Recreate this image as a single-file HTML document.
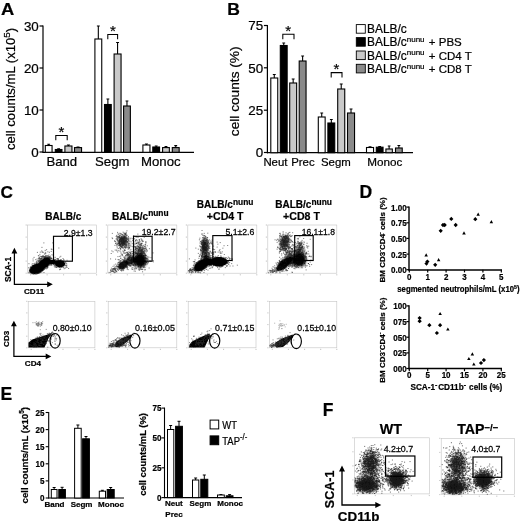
<!DOCTYPE html>
<html><head><meta charset="utf-8"><title>Figure</title>
<style>
html,body{margin:0;padding:0;background:#fff}
svg{display:block}
text{font-family:"Liberation Sans",sans-serif;fill:#000;stroke:#000;stroke-width:0.22px}
</style></head><body>
<svg width="520" height="523" viewBox="0 0 520 523">
<defs>
<filter id="soft" x="0" y="0" width="520" height="523" filterUnits="userSpaceOnUse"><feGaussianBlur stdDeviation="0.38"/></filter>
<filter id="b" x="-30%" y="-30%" width="160%" height="160%"><feGaussianBlur stdDeviation="0.7"/></filter>
<filter id="b3" x="-40%" y="-40%" width="180%" height="180%"><feGaussianBlur stdDeviation="1.4"/></filter>
<filter id="b2" x="-10%" y="-20%" width="120%" height="140%"><feGaussianBlur stdDeviation="0.45"/></filter>
</defs>
<rect width="520" height="523" fill="#fff"/>
<g filter="url(#soft)">
<text transform="translate(0.9 15.2) scale(1.08 1)" font-size="17" text-anchor="start" font-weight="bold">A</text>
<path d="M43.00 25.50L43.00 152.80" stroke="#000" stroke-width="1.2" fill="none"/>
<path d="M42.50 152.30L194.00 152.30" stroke="#000" stroke-width="1.2" fill="none"/>
<path d="M39.50 26.00L43.00 26.00" stroke="#000" stroke-width="1.2" fill="none"/>
<text x="38.8" y="30.8" font-size="13.4" text-anchor="end">30</text>
<path d="M39.50 68.00L43.00 68.00" stroke="#000" stroke-width="1.2" fill="none"/>
<text x="38.8" y="72.8" font-size="13.4" text-anchor="end">20</text>
<path d="M39.50 110.00L43.00 110.00" stroke="#000" stroke-width="1.2" fill="none"/>
<text x="38.8" y="114.8" font-size="13.4" text-anchor="end">10</text>
<path d="M39.50 152.00L43.00 152.00" stroke="#000" stroke-width="1.2" fill="none"/>
<text x="38.8" y="156.8" font-size="13.4" text-anchor="end">0</text>
<path d="M48.67 145.50V144.30M47.26 144.30H50.09" stroke="#000" stroke-width="1.1" fill="none"/>
<rect x="45.30" y="145.50" width="6.75" height="6.80" fill="#fff" stroke="#000" stroke-width="1.1"/>
<path d="M58.62 149.50V148.70M57.23 148.70H60.02" stroke="#000" stroke-width="1.1" fill="none"/>
<rect x="55.30" y="149.50" width="6.65" height="2.80" fill="#000" stroke="#000" stroke-width="1.1"/>
<path d="M68.42 146.00V145.00M66.94 145.00H69.91" stroke="#000" stroke-width="1.1" fill="none"/>
<rect x="64.90" y="146.00" width="7.05" height="6.30" fill="#c9c9c9" stroke="#000" stroke-width="1.1"/>
<path d="M78.03 147.60V147.00M76.54 147.00H79.51" stroke="#000" stroke-width="1.1" fill="none"/>
<rect x="74.50" y="147.60" width="7.05" height="4.70" fill="#8a8a8a" stroke="#000" stroke-width="1.1"/>
<path d="M98.32 39.00V26.00M96.89 26.00H99.76" stroke="#000" stroke-width="1.1" fill="none"/>
<rect x="94.90" y="39.00" width="6.85" height="113.30" fill="#fff" stroke="#000" stroke-width="1.1"/>
<path d="M107.88 104.50V99.00M106.46 99.00H109.29" stroke="#000" stroke-width="1.1" fill="none"/>
<rect x="104.50" y="104.50" width="6.75" height="47.80" fill="#000" stroke="#000" stroke-width="1.1"/>
<path d="M117.57 54.00V42.50M116.12 42.50H119.03" stroke="#000" stroke-width="1.1" fill="none"/>
<rect x="114.10" y="54.00" width="6.95" height="98.30" fill="#c9c9c9" stroke="#000" stroke-width="1.1"/>
<path d="M126.97 106.00V101.00M125.56 101.00H128.39" stroke="#000" stroke-width="1.1" fill="none"/>
<rect x="123.60" y="106.00" width="6.75" height="46.30" fill="#8a8a8a" stroke="#000" stroke-width="1.1"/>
<path d="M146.43 145.00V144.00M144.94 144.00H147.91" stroke="#000" stroke-width="1.1" fill="none"/>
<rect x="142.90" y="145.00" width="7.05" height="7.30" fill="#fff" stroke="#000" stroke-width="1.1"/>
<path d="M156.18 147.00V146.00M154.76 146.00H157.59" stroke="#000" stroke-width="1.1" fill="none"/>
<rect x="152.80" y="147.00" width="6.75" height="5.30" fill="#000" stroke="#000" stroke-width="1.1"/>
<path d="M165.98 147.60V146.60M164.56 146.60H167.39" stroke="#000" stroke-width="1.1" fill="none"/>
<rect x="162.60" y="147.60" width="6.75" height="4.70" fill="#c9c9c9" stroke="#000" stroke-width="1.1"/>
<path d="M175.73 147.60V145.60M174.29 145.60H177.16" stroke="#000" stroke-width="1.1" fill="none"/>
<rect x="172.30" y="147.60" width="6.85" height="4.70" fill="#8a8a8a" stroke="#000" stroke-width="1.1"/>
<path d="M55.8 140.3V135.5H67.2V140.3" stroke="#000" stroke-width="1.05" fill="none"/>
<text x="61.3" y="136.5" font-size="15" text-anchor="middle">*</text>
<path d="M107.8 39.3V34.5H117.6V39.3" stroke="#000" stroke-width="1.05" fill="none"/>
<text x="112.8" y="35.5" font-size="15" text-anchor="middle">*</text>
<text x="61.8" y="166.1" font-size="13.2" text-anchor="middle">Band</text>
<text x="112.3" y="166.1" font-size="13.2" text-anchor="middle">Segm</text>
<text x="160.8" y="166.1" font-size="13.2" text-anchor="middle">Monoc</text>
<text transform="translate(15.4 88.9) rotate(-90)" font-size="13.1" text-anchor="middle">cell counts/mL (x10<tspan font-size="9.8" dy="-5.4">5</tspan><tspan dy="5.4">)</tspan></text>
<text transform="translate(227.2 14.9) scale(1.07 1)" font-size="16.4" text-anchor="start" font-weight="bold">B</text>
<path d="M267.40 25.00L267.40 153.20" stroke="#000" stroke-width="1.2" fill="none"/>
<path d="M266.90 152.70L413.00 152.70" stroke="#000" stroke-width="1.2" fill="none"/>
<path d="M263.90 25.50L267.40 25.50" stroke="#000" stroke-width="1.2" fill="none"/>
<text x="263.1" y="30.3" font-size="13.4" text-anchor="end">75</text>
<path d="M263.90 67.80L267.40 67.80" stroke="#000" stroke-width="1.2" fill="none"/>
<text x="263.1" y="72.6" font-size="13.4" text-anchor="end">50</text>
<path d="M263.90 110.20L267.40 110.20" stroke="#000" stroke-width="1.2" fill="none"/>
<text x="263.1" y="115.0" font-size="13.4" text-anchor="end">25</text>
<path d="M263.90 152.50L267.40 152.50" stroke="#000" stroke-width="1.2" fill="none"/>
<text x="263.1" y="157.3" font-size="13.4" text-anchor="end">0</text>
<path d="M274.27 78.00V74.50M272.82 74.50H275.73" stroke="#000" stroke-width="1.1" fill="none"/>
<rect x="270.80" y="78.00" width="6.95" height="74.70" fill="#fff" stroke="#000" stroke-width="1.1"/>
<path d="M283.73 45.50V43.00M282.29 43.00H285.16" stroke="#000" stroke-width="1.1" fill="none"/>
<rect x="280.30" y="45.50" width="6.85" height="107.20" fill="#000" stroke="#000" stroke-width="1.1"/>
<path d="M293.17 83.00V79.00M291.72 79.00H294.63" stroke="#000" stroke-width="1.1" fill="none"/>
<rect x="289.70" y="83.00" width="6.95" height="69.70" fill="#c9c9c9" stroke="#000" stroke-width="1.1"/>
<path d="M302.62 61.00V56.00M301.19 56.00H304.06" stroke="#000" stroke-width="1.1" fill="none"/>
<rect x="299.20" y="61.00" width="6.85" height="91.70" fill="#8a8a8a" stroke="#000" stroke-width="1.1"/>
<path d="M321.73 117.00V113.00M320.29 113.00H323.16" stroke="#000" stroke-width="1.1" fill="none"/>
<rect x="318.30" y="117.00" width="6.85" height="35.70" fill="#fff" stroke="#000" stroke-width="1.1"/>
<path d="M331.33 123.00V119.50M329.89 119.50H332.76" stroke="#000" stroke-width="1.1" fill="none"/>
<rect x="327.90" y="123.00" width="6.85" height="29.70" fill="#000" stroke="#000" stroke-width="1.1"/>
<path d="M341.23 89.00V84.00M339.74 84.00H342.71" stroke="#000" stroke-width="1.1" fill="none"/>
<rect x="337.70" y="89.00" width="7.05" height="63.70" fill="#c9c9c9" stroke="#000" stroke-width="1.1"/>
<path d="M351.02 113.00V109.00M349.54 109.00H352.51" stroke="#000" stroke-width="1.1" fill="none"/>
<rect x="347.50" y="113.00" width="7.05" height="39.70" fill="#8a8a8a" stroke="#000" stroke-width="1.1"/>
<path d="M370.02 147.50V146.70M368.54 146.70H371.51" stroke="#000" stroke-width="1.1" fill="none"/>
<rect x="366.50" y="147.50" width="7.05" height="5.20" fill="#fff" stroke="#000" stroke-width="1.1"/>
<path d="M379.68 147.20V146.60M378.26 146.60H381.09" stroke="#000" stroke-width="1.1" fill="none"/>
<rect x="376.30" y="147.20" width="6.75" height="5.50" fill="#000" stroke="#000" stroke-width="1.1"/>
<path d="M389.12 149.00V146.00M387.77 146.00H390.48" stroke="#000" stroke-width="1.1" fill="none"/>
<rect x="385.90" y="149.00" width="6.45" height="3.70" fill="#c9c9c9" stroke="#000" stroke-width="1.1"/>
<path d="M398.88 148.00V145.50M397.46 145.50H400.29" stroke="#000" stroke-width="1.1" fill="none"/>
<rect x="395.50" y="148.00" width="6.75" height="4.70" fill="#8a8a8a" stroke="#000" stroke-width="1.1"/>
<path d="M282.8 39.2V34.2H294V39.2" stroke="#000" stroke-width="1.05" fill="none"/>
<text x="288.2" y="35.5" font-size="15" text-anchor="middle">*</text>
<path d="M331.2 77.4V72.6H342V77.4" stroke="#000" stroke-width="1.05" fill="none"/>
<text x="336.4" y="73.5" font-size="15" text-anchor="middle">*</text>
<text x="263.4" y="165.9" font-size="11.4" text-anchor="start">Neut</text>
<text x="291.2" y="165.9" font-size="11.4" text-anchor="start">Prec</text>
<text x="321" y="165.9" font-size="11.4" text-anchor="start">Segm</text>
<text x="367.2" y="165.9" font-size="11.7" text-anchor="start">Monoc</text>
<text transform="translate(239.3 91.3) rotate(-90)" font-size="13.7" text-anchor="middle">cell counts (%)</text>
<rect x="356.3" y="24.6" width="9" height="8.6" fill="#fff" stroke="#000" stroke-width="0.9"/>
<text x="367.1" y="33.2" font-size="11.9" text-anchor="start">BALB/c</text>
<rect x="356.3" y="37.6" width="9" height="8.6" fill="#000" stroke="#000" stroke-width="0.9"/>
<text x="428.8" y="46.2" font-size="11.5" text-anchor="start">+ PBS</text>
<text x="367.1" y="46.2" font-size="11.9" text-anchor="start">BALB/c<tspan font-size="8" dy="-4.4">nunu</tspan></text>
<rect x="356.3" y="51" width="9" height="8.6" fill="#c9c9c9" stroke="#000" stroke-width="0.9"/>
<text x="428.8" y="59.6" font-size="11.5" text-anchor="start">+ CD4 T</text>
<text x="367.1" y="59.6" font-size="11.9" text-anchor="start">BALB/c<tspan font-size="8" dy="-4.4">nunu</tspan></text>
<rect x="356.3" y="64.3" width="9" height="8.6" fill="#8a8a8a" stroke="#000" stroke-width="0.9"/>
<text x="428.8" y="72.89999999999999" font-size="11.5" text-anchor="start">+ CD8 T</text>
<text x="367.1" y="72.89999999999999" font-size="11.9" text-anchor="start">BALB/c<tspan font-size="8" dy="-4.4">nunu</tspan></text>
<text x="0.4" y="197.9" font-size="17.2" text-anchor="start" font-weight="bold">C</text>
<text x="63.3" y="220" font-size="10" text-anchor="middle" font-weight="bold">BALB/c</text>
<text x="112" y="220" font-size="10" text-anchor="start" font-weight="bold">BALB/c<tspan font-size="8.4" dy="-3.6">nunu</tspan></text>
<text x="196.8" y="208.4" font-size="10" text-anchor="start" font-weight="bold">BALB/c<tspan font-size="8.4" dy="-3.6">nunu</tspan></text>
<text x="243.6" y="219.8" font-size="10.6" text-anchor="end" font-weight="bold">+CD4 T</text>
<text x="275.3" y="208.4" font-size="10" text-anchor="start" font-weight="bold">BALB/c<tspan font-size="8.4" dy="-3.6">nunu</tspan></text>
<text x="319.9" y="219.8" font-size="10.6" text-anchor="end" font-weight="bold">+CD8 T</text>
<rect x="27.6" y="225" width="69.0" height="48.19999999999999" fill="none" stroke="#c4c4c4" stroke-width="0.6"/>
<path d="M25.6 225.0h1.2M25.6 237.1h1.2M25.6 249.1h1.2M25.6 261.1h1.2M25.6 273.2h1.2M30.6 274.2v1.2M47.1 274.2v1.2M63.6 274.2v1.2M80.1 274.2v1.2M96.6 274.2v1.2" stroke="#aaa" stroke-width="0.7" fill="none"/>
<rect x="107.8" y="225" width="69.00000000000001" height="48.19999999999999" fill="none" stroke="#c4c4c4" stroke-width="0.6"/>
<path d="M105.8 225.0h1.2M105.8 237.1h1.2M105.8 249.1h1.2M105.8 261.1h1.2M105.8 273.2h1.2M110.8 274.2v1.2M127.3 274.2v1.2M143.8 274.2v1.2M160.3 274.2v1.2M176.8 274.2v1.2" stroke="#aaa" stroke-width="0.7" fill="none"/>
<rect x="187.8" y="225" width="69.0" height="48.19999999999999" fill="none" stroke="#c4c4c4" stroke-width="0.6"/>
<path d="M185.8 225.0h1.2M185.8 237.1h1.2M185.8 249.1h1.2M185.8 261.1h1.2M185.8 273.2h1.2M190.8 274.2v1.2M207.3 274.2v1.2M223.8 274.2v1.2M240.3 274.2v1.2M256.8 274.2v1.2" stroke="#aaa" stroke-width="0.7" fill="none"/>
<rect x="267.8" y="225" width="69.0" height="48.19999999999999" fill="none" stroke="#c4c4c4" stroke-width="0.6"/>
<path d="M265.8 225.0h1.2M265.8 237.1h1.2M265.8 249.1h1.2M265.8 261.1h1.2M265.8 273.2h1.2M270.8 274.2v1.2M287.3 274.2v1.2M303.8 274.2v1.2M320.3 274.2v1.2M336.8 274.2v1.2" stroke="#aaa" stroke-width="0.7" fill="none"/>
<path d="M37.5 269.5h.1M36.5 267.3h.1M33.3 269.5h.1M43.9 265.5h.1M43.3 265.3h.1M40.2 266.9h.1M41.2 267.4h.1M33.1 268.7h.1M39.4 266.5h.1M39.5 264.4h.1M40.1 267.7h.1M42.4 269.1h.1M33.9 267.3h.1M36.2 268.2h.1M41.4 266.4h.1M34.4 266.2h.1M37.4 272.1h.1M34.5 270.4h.1M37.8 262.5h.1M40.2 270.8h.1M36.3 265.7h.1M40.3 266.0h.1M42.6 268.1h.1M45.4 264.5h.1M36.6 263.8h.1M40.0 264.2h.1M33.9 265.5h.1M32.6 268.8h.1M41.1 258.7h.1M31.4 272.1h.1M45.7 265.0h.1M38.6 264.6h.1M43.5 264.9h.1M39.8 268.0h.1M46.5 264.7h.1M41.3 267.5h.1M43.3 266.2h.1M39.3 260.5h.1M38.7 270.7h.1M40.4 265.6h.1M40.5 268.3h.1M40.3 270.1h.1M34.2 268.2h.1M43.0 264.7h.1M35.2 272.4h.1M44.3 262.3h.1M31.2 270.9h.1M36.8 267.1h.1M43.2 261.0h.1M42.1 260.7h.1M35.2 271.3h.1M44.7 266.6h.1M39.9 266.9h.1M39.6 268.6h.1M37.6 268.7h.1M40.7 265.9h.1M42.5 266.9h.1M48.1 262.8h.1M35.4 267.7h.1M39.3 269.9h.1M37.0 269.4h.1M42.9 255.8h.1M33.0 271.2h.1M40.3 267.0h.1M36.9 270.4h.1M38.6 265.4h.1M50.1 261.7h.1M35.2 268.8h.1M36.8 268.0h.1M41.1 261.7h.1M39.1 270.2h.1M44.3 269.0h.1M29.4 271.3h.1M37.3 270.1h.1M39.2 257.5h.1M41.0 260.7h.1M39.0 261.7h.1M40.6 270.1h.1M37.6 268.4h.1M42.0 265.7h.1M39.9 271.7h.1M42.6 263.9h.1M49.4 257.0h.1M42.0 264.3h.1M39.7 269.0h.1M40.0 268.5h.1M28.5 267.8h.1M39.5 263.3h.1M30.9 266.5h.1M45.2 266.0h.1M43.6 261.0h.1M36.3 264.5h.1M44.0 269.5h.1M42.4 264.3h.1M36.6 266.2h.1M40.5 267.5h.1M43.6 260.7h.1M45.6 268.2h.1M44.6 263.0h.1M36.0 272.2h.1M38.7 267.5h.1M44.4 262.9h.1M38.6 265.0h.1M39.2 269.7h.1M40.4 270.7h.1M39.3 270.4h.1M47.5 267.6h.1M36.1 271.6h.1M32.1 270.9h.1M37.0 268.0h.1M35.5 269.7h.1M46.6 262.7h.1M42.0 268.6h.1M35.2 264.8h.1M37.0 271.8h.1M29.3 270.5h.1M44.0 266.8h.1M39.2 269.6h.1M37.0 264.0h.1M29.6 270.1h.1M41.5 263.5h.1M32.5 268.0h.1M30.5 271.4h.1M32.9 271.7h.1M32.0 264.2h.1M41.0 264.8h.1M38.7 265.5h.1M42.8 267.3h.1M41.7 266.5h.1M45.3 265.5h.1M37.0 260.8h.1M44.2 268.4h.1M35.9 267.1h.1M44.6 257.6h.1M43.9 272.5h.1M34.6 271.8h.1M46.8 262.0h.1M42.0 268.3h.1M33.6 269.8h.1M40.6 268.8h.1M37.5 267.1h.1M32.6 269.4h.1M42.4 265.3h.1M32.7 267.7h.1M52.4 263.1h.1M37.1 259.0h.1M41.7 267.0h.1M46.7 264.0h.1M38.5 269.0h.1M38.5 264.8h.1M47.0 268.6h.1M30.3 269.6h.1M39.7 267.2h.1M34.6 266.1h.1M49.7 264.4h.1M30.3 267.3h.1M47.6 265.4h.1M47.9 264.6h.1M34.2 270.6h.1M38.5 269.0h.1M34.3 269.2h.1M40.7 267.2h.1M41.4 266.3h.1M37.6 270.4h.1M37.0 265.2h.1M35.0 269.2h.1M37.7 268.2h.1M38.3 268.0h.1M35.5 264.6h.1M41.6 269.1h.1M39.8 265.8h.1M38.7 263.8h.1M29.1 272.9h.1M34.7 272.0h.1M28.9 263.7h.1M34.1 265.0h.1M35.1 271.0h.1M40.6 266.6h.1M46.1 265.3h.1M38.8 269.1h.1M47.3 265.5h.1M41.3 261.9h.1M38.4 269.8h.1M38.2 271.1h.1M42.2 268.2h.1M43.6 263.5h.1M37.7 270.7h.1M42.7 264.8h.1M32.7 271.2h.1M41.4 269.4h.1M41.8 265.4h.1M42.9 266.6h.1M39.1 267.1h.1M37.9 270.0h.1M32.0 268.8h.1M35.8 263.7h.1M32.9 263.5h.1M35.6 270.9h.1M40.6 265.8h.1M34.8 264.5h.1M47.5 263.8h.1M41.9 262.2h.1M34.4 263.3h.1M43.1 267.8h.1M28.9 272.6h.1M38.4 261.2h.1M32.9 265.6h.1M38.5 268.1h.1M42.1 267.6h.1M46.9 266.4h.1M31.0 269.8h.1M31.3 267.6h.1M37.6 267.7h.1M38.0 262.0h.1M32.1 270.8h.1M36.6 267.2h.1M36.6 265.7h.1M41.9 266.5h.1M36.6 266.0h.1M33.1 260.9h.1M33.4 270.3h.1M31.1 272.2h.1M36.6 263.5h.1M36.3 267.4h.1M41.1 267.8h.1M36.6 265.4h.1M37.2 267.7h.1M41.9 266.2h.1M32.5 266.0h.1M35.1 266.6h.1M32.5 270.3h.1M35.8 269.1h.1M39.9 265.0h.1M48.6 260.3h.1M43.4 264.8h.1M45.7 253.7h.1M44.2 263.0h.1M51.2 264.8h.1M48.8 263.1h.1M49.6 261.5h.1M47.2 259.6h.1M45.9 257.7h.1M47.9 256.5h.1M49.9 265.0h.1M45.4 261.5h.1M49.4 258.7h.1M44.1 263.2h.1M48.7 261.3h.1M46.4 266.3h.1M50.8 257.7h.1M46.1 259.5h.1M49.0 256.7h.1M47.2 258.6h.1M45.1 263.9h.1M49.8 258.3h.1M45.3 264.1h.1M46.3 261.8h.1M52.1 260.4h.1M47.9 266.9h.1M47.2 262.7h.1M44.1 262.2h.1M43.6 268.3h.1M48.1 255.7h.1M39.3 260.6h.1M48.7 257.7h.1M45.4 260.5h.1M44.0 258.9h.1M43.9 257.9h.1M46.3 261.8h.1M47.0 259.6h.1M43.6 263.2h.1M46.9 265.3h.1M48.0 259.2h.1M43.6 260.4h.1M42.8 262.1h.1M47.6 261.5h.1M50.8 264.3h.1M44.0 262.4h.1M51.2 251.4h.1M44.8 262.4h.1M47.1 261.6h.1M45.9 262.3h.1M47.3 262.5h.1M39.3 262.9h.1M44.5 258.8h.1M43.9 264.4h.1M45.1 263.7h.1M48.6 260.2h.1M47.3 259.8h.1M41.9 263.8h.1M46.5 259.0h.1M46.8 262.8h.1M44.4 264.1h.1M50.5 256.1h.1M46.2 260.4h.1M50.9 258.6h.1M47.5 257.7h.1M45.9 261.0h.1M43.1 267.6h.1M46.0 255.5h.1M47.9 259.2h.1M47.8 260.9h.1M41.4 263.6h.1M49.4 256.8h.1M41.0 260.2h.1M43.0 264.2h.1M51.5 258.5h.1M50.0 265.3h.1M43.5 260.6h.1M48.3 261.1h.1M41.3 260.5h.1M47.2 260.9h.1M42.0 263.2h.1M45.1 263.1h.1M45.5 261.1h.1M46.6 264.0h.1M49.4 257.4h.1M47.3 257.7h.1M47.3 262.5h.1M49.8 257.1h.1M46.1 261.6h.1M41.7 264.0h.1M44.6 263.1h.1M39.8 259.1h.1M46.5 261.5h.1M45.8 264.0h.1M44.3 260.3h.1M45.0 256.7h.1M44.0 262.3h.1M48.2 258.9h.1M45.9 259.0h.1M49.3 263.9h.1M47.6 267.4h.1M44.2 262.3h.1M48.0 262.8h.1M39.3 259.0h.1M48.9 261.5h.1M51.7 265.4h.1M47.0 261.1h.1M49.2 259.9h.1M48.9 255.0h.1M39.8 254.4h.1M47.8 258.6h.1M51.9 263.7h.1M45.6 260.5h.1M43.3 260.2h.1M45.1 263.6h.1M46.2 261.1h.1M46.9 263.3h.1M47.2 259.7h.1M47.7 259.3h.1M44.9 266.4h.1M45.9 258.0h.1M49.6 259.6h.1M43.9 267.6h.1M48.3 262.2h.1M46.3 260.3h.1M43.0 266.2h.1M45.7 260.3h.1M47.1 260.5h.1M47.4 258.9h.1M42.7 256.5h.1M45.8 263.3h.1M49.3 257.5h.1M48.0 264.6h.1M46.2 263.2h.1M50.9 257.7h.1M48.5 257.0h.1M46.5 260.4h.1M48.0 263.2h.1M51.9 254.8h.1M45.1 263.2h.1M43.7 264.2h.1M47.2 259.3h.1M45.2 256.6h.1M45.9 256.2h.1M43.2 261.2h.1M46.1 263.6h.1M45.6 260.0h.1M49.9 263.3h.1M46.6 261.8h.1M50.0 259.1h.1M46.0 268.9h.1M49.4 252.3h.1M46.5 262.0h.1M49.8 260.5h.1M43.6 259.3h.1M47.8 263.0h.1M41.3 261.0h.1M43.0 256.9h.1M44.6 260.6h.1M46.2 258.6h.1M42.9 261.9h.1M44.9 259.7h.1M47.2 262.6h.1M47.7 264.6h.1M39.9 257.0h.1M33.1 265.3h.1M40.1 258.4h.1M45.1 253.6h.1M44.9 258.4h.1M35.7 259.6h.1M47.8 251.8h.1M46.2 259.3h.1M44.9 260.1h.1M48.2 257.7h.1M46.5 257.0h.1M45.9 255.6h.1M42.6 264.7h.1M44.8 257.9h.1M38.4 255.7h.1M43.8 261.9h.1M44.7 260.4h.1M42.8 263.4h.1M41.4 256.5h.1M46.6 258.7h.1M41.9 256.4h.1M42.0 260.7h.1M44.4 254.1h.1M44.7 259.1h.1M39.0 261.3h.1M41.9 257.3h.1M46.2 263.3h.1M40.2 260.1h.1M39.5 266.8h.1M41.0 262.8h.1M40.4 261.4h.1M51.9 249.4h.1M41.3 260.3h.1M42.6 256.1h.1M51.6 258.8h.1M36.4 261.6h.1M36.1 262.6h.1M40.7 259.0h.1M48.0 258.9h.1M37.4 252.4h.1M47.7 261.2h.1M39.7 261.6h.1M45.0 260.8h.1M34.0 257.4h.1M46.6 261.1h.1M46.5 249.7h.1M43.7 260.3h.1M53.2 255.1h.1M41.7 258.6h.1M46.5 256.9h.1M47.6 255.7h.1M44.1 256.6h.1M43.6 256.0h.1M36.6 262.4h.1M44.2 256.5h.1M43.8 262.1h.1M39.1 258.1h.1M45.2 260.4h.1M41.7 250.9h.1M48.0 259.7h.1M43.1 257.5h.1M44.1 257.0h.1M38.9 255.8h.1M40.6 256.3h.1M38.4 260.8h.1M37.8 260.9h.1M38.9 259.8h.1M48.5 259.2h.1M40.1 258.7h.1M43.6 252.3h.1M40.6 259.1h.1M41.1 258.8h.1M45.9 261.3h.1M46.6 260.6h.1M41.8 258.4h.1M41.9 257.4h.1M42.3 252.3h.1M41.7 258.4h.1M39.1 258.4h.1M45.1 257.9h.1M51.3 249.1h.1M42.2 251.9h.1M46.9 268.1h.1M33.0 259.0h.1M45.1 257.4h.1M45.2 250.4h.1M46.4 259.8h.1M43.1 256.4h.1M45.6 256.8h.1M60.8 262.2h.1M52.4 263.4h.1M60.7 265.5h.1M57.0 263.4h.1M62.1 263.9h.1M64.2 268.7h.1M56.9 258.5h.1M62.9 267.5h.1M63.1 265.6h.1M57.9 261.6h.1M63.0 261.1h.1M53.8 260.9h.1M68.5 268.5h.1M57.7 261.6h.1M60.8 261.6h.1M64.5 263.3h.1M56.3 266.9h.1M58.0 264.1h.1M60.0 262.7h.1M61.1 261.7h.1M53.7 257.8h.1M55.7 261.5h.1M59.9 263.6h.1M61.9 263.8h.1M57.3 261.7h.1M52.8 263.1h.1M61.6 264.9h.1M59.6 263.0h.1M63.2 263.5h.1M62.5 265.0h.1M60.7 266.9h.1M58.1 262.6h.1M57.3 261.4h.1M65.3 268.1h.1M60.1 265.0h.1M64.0 265.6h.1M64.1 260.2h.1M57.8 264.7h.1M64.9 263.8h.1M57.1 262.6h.1M57.8 261.3h.1M65.1 261.9h.1M60.1 269.1h.1M64.0 264.4h.1M57.9 264.6h.1M65.5 265.1h.1M64.3 263.8h.1M61.8 263.0h.1M61.5 266.9h.1M55.1 263.3h.1M60.8 262.0h.1M59.0 265.5h.1M66.8 265.1h.1M61.1 259.5h.1M66.6 263.7h.1M59.9 260.6h.1M59.8 260.7h.1M60.2 264.7h.1M60.1 264.2h.1M57.1 267.2h.1M57.8 258.8h.1M59.4 261.5h.1M56.6 262.6h.1M61.0 260.4h.1M59.5 267.2h.1M62.3 263.1h.1M60.4 263.2h.1M59.8 265.4h.1M59.7 257.2h.1M59.9 261.2h.1M62.2 261.9h.1M60.5 269.2h.1M56.4 260.6h.1M55.2 257.3h.1M53.6 264.4h.1M57.8 258.6h.1M55.0 265.1h.1M57.4 262.5h.1M61.1 267.0h.1M66.6 266.2h.1M60.5 264.0h.1M66.1 267.2h.1M58.9 264.7h.1M61.0 263.6h.1M58.3 260.1h.1M58.2 259.5h.1M64.2 264.9h.1M55.9 267.1h.1M63.0 258.5h.1M66.3 265.6h.1M67.0 260.3h.1M61.8 264.6h.1M60.7 263.9h.1M63.6 259.6h.1M55.8 259.9h.1M58.1 261.9h.1M61.2 264.2h.1M60.1 261.7h.1M58.5 266.0h.1M62.6 263.8h.1M58.9 267.5h.1M58.0 265.2h.1M63.9 262.8h.1M62.8 260.6h.1M63.4 264.0h.1M54.6 265.2h.1M57.0 266.8h.1M57.7 263.1h.1M61.0 262.6h.1M60.9 262.1h.1M62.3 263.5h.1M60.7 256.3h.1M63.9 263.6h.1M53.9 263.7h.1M61.6 266.3h.1M56.3 267.5h.1M59.5 269.7h.1M59.5 265.3h.1M58.8 260.6h.1M63.7 265.9h.1M65.2 265.7h.1M58.1 259.2h.1M57.8 261.7h.1M57.2 265.0h.1M61.1 262.8h.1M60.6 263.1h.1M60.7 265.5h.1M63.3 261.7h.1M54.9 267.2h.1M60.4 266.4h.1M54.4 262.6h.1M60.1 259.8h.1M58.2 265.4h.1M63.7 267.6h.1M57.1 259.9h.1M61.8 265.9h.1M60.7 260.1h.1M62.7 265.6h.1M61.9 262.2h.1M61.0 265.6h.1M58.1 258.7h.1M61.1 264.8h.1M60.0 265.8h.1M58.0 263.3h.1M59.0 265.0h.1M65.4 262.8h.1M67.0 267.5h.1M62.7 265.0h.1M66.0 263.0h.1M59.6 260.7h.1M61.6 267.0h.1M61.8 264.6h.1M59.3 263.9h.1M55.2 266.2h.1M58.6 260.6h.1M57.4 261.4h.1M62.9 266.3h.1M55.4 265.9h.1M63.0 262.0h.1M54.9 261.6h.1M51.1 262.5h.1M51.9 258.8h.1M53.7 259.5h.1M55.7 260.1h.1M50.9 260.6h.1M51.4 264.1h.1M55.6 263.0h.1M54.0 259.5h.1M51.4 261.1h.1M50.1 262.8h.1M50.8 260.9h.1M49.9 258.7h.1M54.8 264.1h.1M53.5 260.4h.1M44.9 262.3h.1M56.6 262.5h.1M55.8 264.4h.1M56.4 261.3h.1M56.2 263.2h.1M48.4 261.4h.1M48.7 261.8h.1M54.7 260.3h.1M46.8 264.1h.1M54.1 264.4h.1M49.0 263.7h.1M59.2 265.2h.1M52.4 262.4h.1M52.5 263.6h.1M56.1 262.1h.1M48.9 263.2h.1M51.6 263.0h.1M53.8 264.6h.1M56.4 261.3h.1M54.0 264.8h.1M51.4 262.7h.1M56.6 264.0h.1M54.6 259.9h.1M49.2 262.4h.1M54.2 266.1h.1M50.4 263.8h.1M55.3 259.3h.1M50.5 262.3h.1M51.5 261.8h.1M54.4 260.7h.1M54.4 261.0h.1M51.4 262.9h.1M51.3 262.5h.1M57.8 262.0h.1M52.6 263.2h.1M51.9 263.7h.1M49.2 263.0h.1M51.5 260.7h.1M58.3 260.6h.1M58.3 263.1h.1M57.4 260.4h.1M56.6 264.3h.1M52.7 261.8h.1M60.4 262.3h.1M51.7 261.0h.1M54.3 262.5h.1M51.1 264.3h.1M48.0 256.8h.1M58.8 248.0h.1M56.2 265.0h.1M41.9 247.4h.1M43.8 242.9h.1M52.7 242.9h.1M53.0 262.7h.1M40.3 252.1h.1M38.5 258.7h.1M45.6 252.4h.1M50.3 257.3h.1" stroke="#333" stroke-width="0.6" stroke-linecap="square" fill="none"/>
<ellipse cx="37" cy="268.8" rx="8.2" ry="5.1" transform="rotate(-20 37 268.8)" fill="#000" opacity="1" filter="url(#b)"/>
<ellipse cx="44.5" cy="263.2" rx="7.3" ry="4.8" transform="rotate(-40 44.5 263.2)" fill="#000" opacity="1" filter="url(#b)"/>
<ellipse cx="52.5" cy="262" rx="3.6" ry="2.2" transform="rotate(0 52.5 262)" fill="#000" opacity="1" filter="url(#b)"/>
<ellipse cx="60" cy="263.8" rx="5" ry="3.6" transform="rotate(0 60 263.8)" fill="#000" opacity="1" filter="url(#b)"/>
<path d="M121.8 241.3h.1M121.2 241.6h.1M119.3 241.4h.1M116.9 239.3h.1M128.8 241.5h.1M119.0 242.2h.1M119.9 234.9h.1M120.6 244.0h.1M124.1 240.8h.1M120.0 237.1h.1M127.1 242.1h.1M119.9 233.2h.1M118.7 250.6h.1M119.3 240.9h.1M123.6 240.6h.1M122.0 236.0h.1M119.6 247.6h.1M120.6 244.4h.1M117.6 240.2h.1M123.7 245.1h.1M119.4 243.5h.1M124.1 238.4h.1M124.4 237.8h.1M120.4 241.1h.1M114.5 240.8h.1M119.8 235.6h.1M121.6 244.1h.1M121.6 246.0h.1M119.3 236.2h.1M127.7 242.7h.1M125.8 238.1h.1M125.4 242.2h.1M124.9 241.3h.1M126.6 238.7h.1M119.9 235.6h.1M126.5 238.4h.1M119.7 237.6h.1M121.5 236.4h.1M122.0 238.8h.1M121.2 237.6h.1M123.0 239.4h.1M123.3 242.1h.1M124.0 232.9h.1M121.2 238.2h.1M125.3 235.2h.1M120.7 240.1h.1M121.9 245.0h.1M121.5 244.9h.1M118.4 234.3h.1M126.7 242.9h.1M124.4 241.7h.1M124.4 236.6h.1M125.8 239.2h.1M126.0 241.5h.1M116.8 236.3h.1M126.4 240.7h.1M121.7 242.1h.1M121.6 239.1h.1M123.2 241.7h.1M127.6 241.4h.1M128.7 248.1h.1M128.2 245.2h.1M123.3 241.7h.1M122.5 238.4h.1M122.7 238.8h.1M128.0 243.2h.1M121.5 233.9h.1M122.7 239.6h.1M119.5 236.9h.1M115.9 243.4h.1M122.7 251.0h.1M122.8 240.6h.1M127.4 241.7h.1M123.4 239.8h.1M121.0 246.9h.1M126.0 247.7h.1M121.8 241.3h.1M120.2 244.9h.1M118.6 243.3h.1M126.3 246.6h.1M120.0 245.3h.1M120.7 238.3h.1M118.8 245.6h.1M128.0 238.9h.1M120.5 239.9h.1M130.7 245.0h.1M121.2 234.4h.1M120.8 245.7h.1M128.7 240.2h.1M120.8 239.3h.1M117.1 244.7h.1M119.5 245.2h.1M117.6 236.4h.1M123.8 238.3h.1M125.3 241.2h.1M119.3 243.6h.1M125.5 233.9h.1M128.6 243.1h.1M125.3 234.1h.1M120.7 239.9h.1M126.2 235.7h.1M120.2 233.5h.1M122.2 242.5h.1M117.7 239.0h.1M124.5 247.2h.1M125.0 240.0h.1M119.2 237.6h.1M120.8 241.8h.1M122.7 247.5h.1M123.8 237.1h.1M127.7 244.8h.1M123.2 238.5h.1M117.1 237.3h.1M125.7 238.1h.1M118.8 241.9h.1M123.7 243.5h.1M124.9 246.6h.1M120.3 244.9h.1M119.8 243.8h.1M123.5 242.1h.1M125.9 241.1h.1M126.3 244.5h.1M123.3 239.0h.1M120.6 239.2h.1M122.3 241.1h.1M132.1 243.6h.1M125.3 237.9h.1M120.7 240.0h.1M123.5 237.3h.1M127.9 239.1h.1M126.2 232.3h.1M122.9 242.3h.1M123.5 243.5h.1M123.8 241.8h.1M117.0 238.5h.1M115.6 243.6h.1M123.9 240.5h.1M120.4 239.0h.1M128.6 247.8h.1M122.7 246.1h.1M118.0 233.8h.1M121.4 237.9h.1M121.2 241.9h.1M132.3 238.7h.1M123.1 242.2h.1M122.8 244.7h.1M128.4 236.5h.1M123.4 240.2h.1M124.0 235.4h.1M117.5 232.4h.1M124.5 241.9h.1M123.1 232.2h.1M121.7 238.3h.1M118.5 237.7h.1M125.1 243.3h.1M122.8 243.2h.1M121.0 241.5h.1M123.0 243.3h.1M122.7 240.7h.1M122.5 238.7h.1M129.8 243.2h.1M124.2 249.9h.1M127.2 235.3h.1M125.1 244.4h.1M128.7 246.2h.1M125.3 236.7h.1M120.2 242.2h.1M124.5 237.3h.1M121.7 239.7h.1M123.1 242.5h.1M122.0 236.5h.1M126.8 247.3h.1M122.6 245.1h.1M124.3 243.7h.1M124.4 238.3h.1M124.7 245.0h.1M120.1 248.7h.1M129.4 248.1h.1M129.1 244.0h.1M121.9 238.9h.1M120.4 241.6h.1M122.8 243.7h.1M116.6 250.0h.1M130.0 241.1h.1M125.0 243.0h.1M123.7 240.4h.1M122.5 238.1h.1M123.5 241.1h.1M123.9 238.0h.1M123.0 241.4h.1M124.8 237.2h.1M124.2 244.9h.1M124.8 239.8h.1M121.4 240.3h.1M125.2 247.1h.1M122.4 238.8h.1M124.1 242.0h.1M120.1 238.4h.1M122.6 243.8h.1M119.2 237.3h.1M124.4 236.5h.1M123.2 242.5h.1M122.6 237.3h.1M122.7 239.9h.1M123.9 238.0h.1M126.3 234.8h.1M122.4 241.2h.1M125.9 238.9h.1M124.6 239.0h.1M125.2 247.8h.1M121.7 242.9h.1M120.0 244.9h.1M126.7 241.3h.1M119.4 242.7h.1M126.5 245.3h.1M125.4 234.2h.1M120.8 246.6h.1M119.1 245.5h.1M128.7 244.1h.1M126.4 239.9h.1M119.1 240.8h.1M122.3 241.0h.1M125.1 240.7h.1M123.5 242.8h.1M122.9 248.2h.1M124.3 241.5h.1M122.3 238.8h.1M127.1 241.8h.1M119.6 239.1h.1M122.5 239.5h.1M126.3 236.8h.1M124.4 241.7h.1M119.2 241.4h.1M122.6 243.1h.1M121.5 242.4h.1M117.7 237.1h.1M125.3 245.2h.1M122.9 238.9h.1M126.3 233.3h.1M120.4 243.8h.1M124.9 237.3h.1M117.0 246.7h.1M123.4 237.8h.1M123.1 244.6h.1M114.9 245.4h.1M125.2 233.3h.1M125.3 234.4h.1M126.4 242.7h.1M129.9 238.9h.1M122.9 245.2h.1M120.9 238.5h.1M121.7 240.9h.1M119.5 243.0h.1M124.6 241.5h.1M128.2 240.0h.1M127.0 239.1h.1M125.2 233.8h.1M123.5 240.5h.1M121.4 238.9h.1M121.8 238.5h.1M116.1 238.9h.1M121.2 239.2h.1M119.6 240.7h.1M125.3 240.2h.1M121.4 246.4h.1M125.9 244.7h.1M126.5 240.0h.1M122.5 245.4h.1M121.2 240.7h.1M124.1 242.6h.1M122.0 244.9h.1M122.3 244.0h.1M126.2 243.7h.1M125.2 236.8h.1M118.8 238.8h.1M124.4 246.9h.1M119.1 242.4h.1M120.3 238.4h.1M122.0 243.8h.1M123.6 245.7h.1M119.8 244.6h.1M125.8 241.5h.1M124.4 239.1h.1M119.5 239.7h.1M120.9 252.2h.1M121.4 247.5h.1M123.5 242.4h.1M125.2 238.2h.1M125.7 242.6h.1M118.2 243.5h.1M124.6 242.9h.1M127.8 239.6h.1M124.5 244.0h.1M120.1 245.8h.1M118.4 236.3h.1M124.5 237.1h.1M122.5 234.9h.1M123.1 236.9h.1M124.0 235.4h.1M124.3 240.2h.1M123.1 240.9h.1M123.3 236.2h.1M114.9 241.3h.1M120.0 239.5h.1M124.2 233.7h.1M120.5 238.9h.1M119.6 242.4h.1M122.5 238.1h.1M119.8 244.3h.1M120.9 243.4h.1M124.3 234.0h.1M119.5 241.2h.1M124.0 244.2h.1M125.4 245.1h.1M121.7 240.4h.1M125.3 239.6h.1M126.2 235.2h.1M124.9 240.5h.1M116.8 244.9h.1M123.9 241.3h.1M119.6 239.4h.1M127.6 238.1h.1M112.1 237.9h.1M119.2 240.7h.1M121.7 237.7h.1M120.3 245.2h.1M118.4 248.6h.1M121.2 237.0h.1M125.3 243.3h.1M119.7 244.0h.1M117.2 237.7h.1M126.4 240.2h.1M118.9 243.2h.1M125.7 241.1h.1M117.3 239.9h.1M124.2 244.1h.1M128.6 240.2h.1M121.4 241.1h.1M126.6 237.6h.1M126.9 230.8h.1M125.4 238.6h.1M124.3 243.8h.1M119.2 240.9h.1M123.6 243.4h.1M120.0 237.4h.1M116.9 250.8h.1M122.3 240.4h.1M118.3 244.7h.1M121.2 246.7h.1M125.5 241.3h.1M125.2 237.0h.1M121.9 239.0h.1M119.0 241.3h.1M122.5 246.7h.1M112.5 238.6h.1M120.1 239.4h.1M124.2 242.7h.1M123.0 239.4h.1M124.4 242.6h.1M117.2 240.2h.1M118.6 236.7h.1M123.4 241.4h.1M123.3 237.9h.1M122.3 237.7h.1M124.1 243.8h.1M128.3 246.0h.1M120.4 239.5h.1M120.0 242.4h.1M129.0 243.9h.1M116.1 236.4h.1M118.9 243.2h.1M122.9 242.3h.1M128.4 238.1h.1M120.3 248.7h.1M124.0 238.2h.1M116.6 235.4h.1M115.3 241.5h.1M123.0 245.0h.1M122.5 238.6h.1M120.6 248.4h.1M117.4 241.9h.1M123.0 243.5h.1M121.6 243.1h.1M125.4 240.6h.1M121.5 240.5h.1M119.9 240.4h.1M122.0 242.0h.1M127.0 246.2h.1M121.5 243.5h.1M123.8 244.1h.1M123.0 242.2h.1M121.4 238.2h.1M125.6 246.1h.1M125.0 242.9h.1M123.7 239.5h.1M117.4 243.7h.1M123.5 239.1h.1M119.9 246.1h.1M117.3 247.9h.1M124.9 250.2h.1M120.7 241.1h.1M121.3 241.8h.1M122.2 238.4h.1M126.2 238.2h.1M121.3 243.3h.1M121.2 239.5h.1M124.0 239.8h.1M119.0 240.8h.1M122.2 247.7h.1M119.5 244.9h.1M120.5 239.8h.1M121.9 242.2h.1M125.6 247.8h.1M120.9 246.3h.1M126.0 244.3h.1M120.5 244.6h.1M122.6 242.5h.1M122.1 243.7h.1M126.4 245.5h.1M122.3 245.0h.1M126.2 260.3h.1M125.8 259.3h.1M125.4 265.4h.1M127.9 263.0h.1M120.4 264.1h.1M120.0 269.0h.1M121.2 263.8h.1M123.6 262.3h.1M120.9 264.8h.1M130.0 265.3h.1M120.4 261.7h.1M123.9 264.7h.1M124.7 265.6h.1M123.1 267.7h.1M125.8 264.0h.1M121.0 264.6h.1M123.6 261.3h.1M121.4 263.6h.1M119.3 268.9h.1M122.9 265.1h.1M123.7 260.1h.1M123.1 265.8h.1M124.1 261.1h.1M125.4 264.2h.1M128.6 265.1h.1M127.4 268.8h.1M122.3 264.0h.1M120.6 263.5h.1M120.4 260.8h.1M123.2 266.1h.1M125.5 262.4h.1M126.4 261.0h.1M120.0 261.0h.1M119.5 264.6h.1M128.1 263.5h.1M120.2 268.1h.1M124.1 263.6h.1M122.6 264.3h.1M119.0 262.1h.1M124.3 268.0h.1M126.9 261.9h.1M120.4 265.8h.1M126.1 264.2h.1M121.6 266.8h.1M122.9 266.5h.1M119.8 262.5h.1M124.0 266.6h.1M119.4 266.7h.1M125.1 262.6h.1M123.5 270.6h.1M126.7 265.8h.1M122.1 270.2h.1M117.2 266.8h.1M126.8 266.6h.1M119.2 265.2h.1M121.1 260.4h.1M125.5 265.1h.1M122.2 267.0h.1M125.6 264.3h.1M126.4 267.4h.1M121.7 266.2h.1M122.6 268.2h.1M122.3 266.7h.1M123.4 264.9h.1M128.0 261.8h.1M128.2 264.3h.1M126.7 262.3h.1M126.7 265.0h.1M121.4 266.7h.1M122.5 265.1h.1M125.9 261.2h.1M115.6 264.1h.1M120.7 264.4h.1M123.7 266.2h.1M128.6 262.6h.1M123.4 262.6h.1M126.4 266.9h.1M124.5 258.4h.1M127.6 266.9h.1M123.5 260.3h.1M122.7 266.8h.1M123.1 262.5h.1M121.4 268.6h.1M120.7 270.4h.1M123.3 265.6h.1M118.1 266.0h.1M123.1 260.6h.1M127.4 258.4h.1M119.3 267.2h.1M125.3 265.8h.1M121.5 265.2h.1M121.5 264.2h.1M116.4 271.5h.1M123.9 264.9h.1M121.3 266.6h.1M122.8 264.9h.1M124.1 259.4h.1M122.3 262.3h.1M123.8 268.8h.1M119.5 266.7h.1M122.3 268.1h.1M117.9 263.1h.1M124.0 263.3h.1M123.3 267.9h.1M119.8 265.7h.1M123.9 265.6h.1M122.6 268.1h.1M129.1 260.2h.1M125.9 257.2h.1M126.7 261.8h.1M122.9 264.0h.1M119.4 263.3h.1M123.3 268.5h.1M125.9 262.3h.1M120.4 264.4h.1M121.6 271.0h.1M125.0 264.1h.1M120.2 263.6h.1M127.8 264.4h.1M121.3 268.8h.1M120.4 268.3h.1M119.5 265.8h.1M124.9 265.1h.1M124.9 261.4h.1M129.3 265.2h.1M123.5 266.0h.1M120.4 266.0h.1M119.1 267.5h.1M125.2 267.6h.1M126.8 265.1h.1M121.5 265.1h.1M122.2 266.1h.1M118.1 270.0h.1M117.6 266.6h.1M122.3 263.9h.1M127.8 261.9h.1M129.1 264.8h.1M121.9 266.7h.1M126.4 262.0h.1M122.5 263.6h.1M122.6 264.1h.1M124.4 267.0h.1M127.2 262.9h.1M124.6 266.5h.1M120.7 263.2h.1M125.1 261.1h.1M124.5 261.3h.1M127.1 259.6h.1M127.3 266.8h.1M121.9 269.9h.1M118.2 262.6h.1M125.9 265.3h.1M119.1 259.9h.1M122.4 264.4h.1M121.4 265.0h.1M116.8 266.9h.1M130.2 265.2h.1M120.9 264.1h.1M125.4 266.6h.1M123.6 261.2h.1M123.6 265.0h.1M128.7 265.1h.1M126.0 266.7h.1M123.6 269.0h.1M122.1 266.6h.1M124.5 261.4h.1M118.6 262.4h.1M123.3 264.6h.1M122.5 266.6h.1M116.5 268.6h.1M122.8 264.3h.1M127.5 267.4h.1M120.4 263.7h.1M121.2 266.2h.1M123.6 262.1h.1M124.6 261.1h.1M125.9 264.5h.1M127.0 268.9h.1M121.9 265.1h.1M125.4 266.0h.1M119.2 267.9h.1M121.5 267.6h.1M127.1 262.7h.1M122.8 265.6h.1M115.0 271.8h.1M124.8 264.4h.1M120.8 264.1h.1M123.9 267.9h.1M124.3 268.1h.1M114.6 268.5h.1M123.7 264.5h.1M117.1 266.4h.1M125.0 260.0h.1M118.6 264.3h.1M122.1 267.3h.1M122.1 259.6h.1M126.5 261.2h.1M123.2 269.6h.1M121.1 262.5h.1M120.1 264.5h.1M119.5 266.0h.1M126.0 264.2h.1M120.1 267.0h.1M123.9 266.6h.1M122.5 266.6h.1M129.3 261.6h.1M120.1 267.6h.1M120.0 265.6h.1M123.9 265.4h.1M123.1 267.3h.1M120.7 262.5h.1M125.1 262.7h.1M125.7 261.5h.1M125.0 264.7h.1M113.0 266.4h.1M121.3 270.0h.1M118.4 270.2h.1M126.8 264.2h.1M124.3 262.8h.1M123.1 265.5h.1M125.0 265.8h.1M121.4 263.8h.1M121.7 266.9h.1M116.4 265.2h.1M121.0 264.5h.1M118.8 259.7h.1M121.6 265.0h.1M122.8 259.4h.1M122.6 266.6h.1M125.9 266.7h.1M124.7 260.9h.1M124.4 263.2h.1M122.4 269.7h.1M119.9 264.2h.1M120.6 263.9h.1M126.4 264.1h.1M127.6 263.5h.1M122.4 268.3h.1M120.4 265.1h.1M122.4 265.4h.1M125.7 261.6h.1M123.9 264.3h.1M117.8 264.8h.1M122.7 266.3h.1M124.5 265.5h.1M122.5 263.9h.1M122.9 262.1h.1M118.5 266.6h.1M118.0 266.4h.1M120.0 265.1h.1M121.8 263.3h.1M119.5 262.0h.1M122.2 262.8h.1M120.6 258.2h.1M120.8 266.9h.1M115.1 268.5h.1M123.3 265.1h.1M118.7 268.1h.1M122.1 262.6h.1M143.2 259.8h.1M140.1 258.0h.1M142.3 260.4h.1M144.8 262.0h.1M137.4 259.0h.1M143.9 258.4h.1M141.6 262.3h.1M139.2 249.7h.1M140.6 261.0h.1M140.6 256.6h.1M145.1 259.4h.1M137.3 256.8h.1M141.5 255.1h.1M135.7 268.9h.1M145.6 264.7h.1M145.8 262.6h.1M132.8 265.3h.1M145.3 262.2h.1M131.7 265.5h.1M145.8 257.8h.1M140.5 263.5h.1M139.6 264.9h.1M140.3 263.1h.1M140.4 253.4h.1M141.2 265.8h.1M144.9 267.6h.1M142.4 257.3h.1M140.1 251.4h.1M139.2 264.0h.1M130.8 260.9h.1M143.5 265.9h.1M136.0 257.1h.1M132.0 255.5h.1M142.3 269.2h.1M135.1 266.2h.1M141.8 257.8h.1M149.4 248.7h.1M139.7 261.0h.1M149.1 268.0h.1M149.7 260.6h.1M144.2 266.1h.1M142.2 261.6h.1M139.2 258.2h.1M134.7 268.7h.1M138.1 250.7h.1M141.1 259.8h.1M140.8 268.1h.1M139.5 258.8h.1M136.8 259.9h.1M138.1 260.9h.1M153.4 261.8h.1M136.3 268.6h.1M143.7 263.7h.1M143.1 263.7h.1M142.9 266.3h.1M144.3 266.0h.1M137.9 260.0h.1M136.9 264.3h.1M143.6 257.9h.1M142.5 271.8h.1M145.3 255.0h.1M139.6 262.8h.1M139.8 261.7h.1M145.1 261.5h.1M135.3 263.2h.1M139.6 260.5h.1M137.6 253.8h.1M134.7 258.4h.1M135.4 247.8h.1M144.9 254.8h.1M136.9 262.4h.1M129.7 266.0h.1M136.7 263.0h.1M137.9 261.4h.1M140.5 260.0h.1M132.2 253.4h.1M139.8 266.3h.1M137.7 262.4h.1M140.7 262.2h.1M144.3 253.3h.1M141.2 259.2h.1M138.7 256.2h.1M136.6 255.4h.1M135.3 271.2h.1M147.3 260.0h.1M143.2 255.6h.1M128.1 251.8h.1M140.6 266.5h.1M139.8 255.5h.1M139.0 255.5h.1M134.0 259.0h.1M138.3 256.4h.1M136.2 255.8h.1M141.0 266.2h.1M139.1 270.0h.1M133.1 261.2h.1M135.0 259.3h.1M140.4 262.5h.1M144.8 257.5h.1M134.7 259.2h.1M141.3 256.9h.1M143.8 267.5h.1M133.9 261.6h.1M144.4 251.4h.1M140.9 259.0h.1M133.9 265.9h.1M140.9 257.9h.1M141.9 262.9h.1M143.3 262.6h.1M141.8 254.7h.1M138.2 260.6h.1M128.1 269.6h.1M138.4 255.3h.1M132.2 261.1h.1M140.1 257.4h.1M138.2 256.0h.1M136.8 259.6h.1M137.2 263.0h.1M139.4 260.6h.1M141.7 265.7h.1M142.6 261.0h.1M139.3 256.4h.1M138.5 263.1h.1M141.0 258.3h.1M134.3 253.1h.1M141.4 264.6h.1M141.6 253.8h.1M139.1 261.0h.1M136.1 261.6h.1M139.1 256.3h.1M134.7 263.6h.1M141.5 256.0h.1M135.7 264.0h.1M142.6 258.6h.1M146.8 258.7h.1M135.5 264.9h.1M139.2 261.5h.1M140.2 255.5h.1M134.9 259.1h.1M146.0 255.5h.1M145.8 261.0h.1M135.2 261.2h.1M142.4 256.0h.1M130.9 261.6h.1M135.2 262.0h.1M131.8 259.4h.1M136.5 253.4h.1M139.0 260.8h.1M137.6 254.7h.1M140.9 252.2h.1M142.3 262.2h.1M147.2 264.0h.1M141.5 261.2h.1M140.1 254.1h.1M146.3 262.4h.1M138.8 254.9h.1M146.3 262.4h.1M134.9 263.0h.1M148.1 259.9h.1M141.7 258.1h.1M137.3 264.8h.1M153.2 260.5h.1M139.5 263.5h.1M138.7 263.3h.1M143.5 255.5h.1M135.4 259.7h.1M143.6 261.2h.1M145.3 253.9h.1M142.1 257.2h.1M140.4 261.4h.1M135.9 259.0h.1M135.0 261.2h.1M136.4 257.8h.1M140.9 257.1h.1M144.9 257.2h.1M143.6 261.3h.1M135.6 259.0h.1M136.4 258.4h.1M138.8 268.1h.1M138.2 267.0h.1M141.9 254.2h.1M130.1 263.0h.1M131.5 263.2h.1M144.4 261.7h.1M139.1 258.9h.1M141.1 258.6h.1M137.7 258.4h.1M145.0 257.2h.1M141.6 254.9h.1M137.0 253.9h.1M139.2 263.0h.1M141.3 257.8h.1M142.6 258.5h.1M141.6 261.2h.1M142.3 249.0h.1M134.5 263.4h.1M139.5 270.0h.1M139.0 257.5h.1M146.4 262.5h.1M148.1 262.3h.1M139.1 263.2h.1M136.6 258.0h.1M137.6 259.0h.1M143.3 257.9h.1M141.4 257.8h.1M143.8 247.7h.1M139.1 260.8h.1M135.4 264.5h.1M140.9 265.7h.1M144.1 262.9h.1M139.4 255.2h.1M139.1 258.0h.1M141.1 257.9h.1M153.0 252.9h.1M145.0 257.9h.1M139.0 264.1h.1M140.0 254.6h.1M141.8 259.1h.1M131.3 260.9h.1M135.5 256.7h.1M142.1 261.3h.1M138.8 269.6h.1M141.8 257.3h.1M141.0 259.5h.1M130.6 253.0h.1M134.1 269.2h.1M139.2 258.8h.1M137.6 264.4h.1M140.1 267.6h.1M143.3 267.3h.1M139.5 261.7h.1M138.2 259.3h.1M132.7 257.4h.1M136.0 257.1h.1M145.2 261.2h.1M145.2 263.8h.1M143.9 264.5h.1M137.4 263.6h.1M138.6 257.6h.1M145.1 269.6h.1M135.9 267.7h.1M143.5 256.2h.1M141.2 261.6h.1M141.6 258.4h.1M134.5 260.1h.1M143.7 263.5h.1M142.8 264.9h.1M135.8 259.8h.1M141.4 264.4h.1M140.7 262.3h.1M140.6 269.3h.1M130.7 259.9h.1M150.5 261.0h.1M132.2 260.6h.1M133.9 257.0h.1M141.0 267.6h.1M142.0 263.0h.1M144.3 260.9h.1M136.4 259.6h.1M141.4 258.8h.1M137.2 258.4h.1M133.6 255.5h.1M139.6 258.4h.1M140.2 266.2h.1M141.3 259.9h.1M135.0 255.2h.1M141.6 256.1h.1M141.8 255.2h.1M140.6 259.7h.1M144.2 258.3h.1M138.4 261.1h.1M140.2 267.5h.1M138.9 257.6h.1M138.6 262.1h.1M141.0 263.1h.1M134.1 271.0h.1M147.8 259.9h.1M134.9 260.7h.1M141.8 250.1h.1M140.1 253.5h.1M141.9 266.1h.1M144.4 253.3h.1M145.8 264.0h.1M138.5 262.2h.1M146.4 258.5h.1M139.9 257.5h.1M144.9 250.5h.1M146.0 255.7h.1M143.9 252.8h.1M136.0 257.4h.1M143.5 252.8h.1M142.6 257.2h.1M145.3 258.6h.1M142.1 259.2h.1M147.6 258.4h.1M139.9 268.8h.1M140.3 263.0h.1M136.9 260.9h.1M130.4 260.5h.1M137.3 253.3h.1M134.0 265.1h.1M141.8 253.3h.1M147.7 256.9h.1M138.4 261.1h.1M135.2 252.8h.1M136.8 265.2h.1M144.0 253.0h.1M145.1 260.2h.1M142.1 260.2h.1M141.8 255.6h.1M136.2 256.9h.1M138.4 262.7h.1M134.9 267.1h.1M137.3 257.4h.1M143.0 261.9h.1M138.6 255.3h.1M135.8 252.9h.1M144.8 264.8h.1M147.9 262.2h.1M141.4 263.4h.1M144.0 258.9h.1M141.5 269.5h.1M132.8 253.8h.1M135.9 263.3h.1M145.0 258.5h.1M142.8 259.8h.1M141.3 257.6h.1M139.9 260.0h.1M144.8 269.9h.1M132.3 262.4h.1M140.0 264.3h.1M144.5 263.5h.1M143.4 255.8h.1M132.8 267.4h.1M145.1 255.8h.1M145.5 263.0h.1M129.6 264.0h.1M135.8 265.2h.1M137.1 256.7h.1M133.5 259.0h.1M144.3 257.0h.1M132.1 269.5h.1M147.8 263.1h.1M137.7 254.6h.1M133.1 262.5h.1M145.5 255.3h.1M140.0 258.8h.1M138.9 262.2h.1M148.9 257.2h.1M143.6 264.8h.1M138.8 259.3h.1M134.3 264.8h.1M137.7 257.1h.1M140.3 256.2h.1M135.6 258.7h.1M146.3 259.1h.1M142.2 253.5h.1M131.7 268.1h.1M138.3 253.2h.1M139.6 262.7h.1M132.7 256.1h.1M141.1 255.9h.1M143.4 264.3h.1M141.9 258.1h.1M139.8 257.2h.1M139.4 261.4h.1M138.7 264.3h.1M151.0 257.6h.1M141.5 263.7h.1M142.7 258.9h.1M138.0 264.5h.1M142.7 262.2h.1M136.6 262.8h.1M143.4 259.2h.1M142.7 269.6h.1M132.0 262.7h.1M135.0 253.9h.1M139.0 262.4h.1M140.2 254.8h.1M135.3 246.7h.1M140.0 245.3h.1M135.1 258.3h.1M137.2 248.7h.1M138.2 246.6h.1M140.1 248.0h.1M142.0 243.5h.1M135.1 259.3h.1M139.8 253.4h.1M143.9 252.3h.1M140.1 241.7h.1M134.7 254.4h.1M142.2 252.4h.1M134.5 238.8h.1M136.5 243.5h.1M140.5 244.4h.1M145.2 246.4h.1M138.1 253.9h.1M141.1 245.0h.1M142.7 259.2h.1M136.0 248.2h.1M136.4 239.7h.1M142.1 253.0h.1M143.2 251.7h.1M133.4 249.4h.1M137.8 243.6h.1M136.3 253.4h.1M139.0 259.4h.1M141.6 239.9h.1M143.0 255.8h.1M140.1 243.4h.1M145.8 242.9h.1M139.7 239.9h.1M135.9 240.9h.1M143.6 255.5h.1M138.7 242.6h.1M139.8 251.4h.1M135.0 243.6h.1M139.7 253.1h.1M140.2 251.8h.1M135.9 236.9h.1M141.0 244.9h.1M139.6 247.6h.1M141.6 245.6h.1M144.8 249.7h.1M141.8 252.7h.1M143.4 251.5h.1M134.2 246.3h.1M146.2 251.9h.1M141.9 251.9h.1M137.9 246.1h.1M137.9 255.4h.1M141.2 258.5h.1M141.7 259.1h.1M141.5 243.5h.1M145.8 251.2h.1M144.0 250.6h.1M138.9 250.4h.1M136.3 243.4h.1M137.0 246.8h.1M135.5 249.0h.1M141.0 259.8h.1M146.1 249.2h.1M143.0 248.4h.1M141.3 249.3h.1M138.2 249.9h.1M135.1 251.7h.1M139.0 244.0h.1M138.8 252.3h.1M137.7 251.9h.1M141.9 257.5h.1M136.4 248.9h.1M141.7 257.2h.1M140.9 253.4h.1M135.1 246.5h.1M145.6 248.0h.1M147.2 245.8h.1M139.1 241.3h.1M142.1 250.9h.1M146.8 250.3h.1M139.2 242.3h.1M139.7 254.4h.1M142.5 255.8h.1M142.9 249.3h.1M142.0 250.4h.1M135.5 258.3h.1M141.3 244.1h.1M141.3 251.0h.1M143.3 256.9h.1M129.8 252.4h.1M145.1 244.6h.1M133.8 250.9h.1M141.1 251.3h.1M136.3 247.1h.1M140.7 253.3h.1M147.4 251.0h.1M138.0 237.4h.1M143.6 248.8h.1M139.6 244.4h.1M142.5 240.3h.1M140.4 250.1h.1M141.0 256.2h.1M139.7 250.0h.1M142.9 241.5h.1M139.0 249.8h.1M143.2 245.4h.1M142.7 251.5h.1M135.0 241.9h.1M135.2 250.2h.1M140.7 253.2h.1M142.8 246.7h.1M143.6 253.7h.1M141.6 252.0h.1M135.7 251.4h.1M136.5 243.3h.1M138.8 250.2h.1M139.8 247.8h.1M136.6 250.5h.1M137.5 242.2h.1M140.3 257.0h.1M138.6 244.0h.1M144.7 258.4h.1M139.0 248.4h.1M140.7 264.8h.1M140.5 254.6h.1M141.5 240.1h.1M136.3 243.1h.1M141.5 250.0h.1M146.1 248.1h.1M141.0 249.9h.1M140.5 261.5h.1M141.0 257.1h.1M144.4 246.4h.1M142.3 247.5h.1M140.4 250.3h.1M140.1 247.1h.1M145.3 248.1h.1M142.4 258.2h.1M142.1 254.8h.1M144.7 255.1h.1M145.8 242.1h.1M146.6 249.6h.1M134.1 246.2h.1M135.3 249.4h.1M134.9 244.3h.1M141.0 250.3h.1M137.3 248.3h.1M139.7 249.9h.1M140.0 248.4h.1M143.0 241.2h.1M138.3 250.2h.1M138.6 246.6h.1M138.5 250.6h.1M144.2 248.5h.1M139.1 251.3h.1M139.2 239.5h.1M140.9 247.5h.1M138.1 252.8h.1M140.1 246.6h.1M132.6 240.6h.1M140.0 248.9h.1M141.5 250.7h.1M138.4 242.9h.1M136.3 248.8h.1M136.1 253.4h.1M135.5 240.2h.1M139.3 240.3h.1M145.5 244.3h.1M139.8 248.2h.1M137.2 240.3h.1M133.7 254.0h.1M143.5 260.7h.1M135.0 252.4h.1M140.0 253.9h.1M138.3 253.3h.1M143.0 252.7h.1M144.9 248.6h.1M145.2 245.9h.1M145.7 235.2h.1M140.0 245.3h.1M140.0 254.9h.1M142.4 250.0h.1M145.8 241.8h.1M137.2 257.4h.1M141.1 238.7h.1M141.2 243.3h.1M145.0 255.4h.1M138.1 256.2h.1M137.2 254.3h.1M142.0 248.8h.1M135.2 248.0h.1M132.2 246.6h.1M133.7 255.8h.1M136.7 236.9h.1M142.0 251.4h.1M138.3 260.5h.1M142.6 249.8h.1M137.8 234.1h.1M141.6 254.5h.1M138.0 242.2h.1M130.8 252.3h.1M131.0 262.1h.1M137.3 260.1h.1M131.8 262.0h.1M136.9 257.7h.1M125.8 255.8h.1M125.7 255.4h.1M130.5 260.4h.1M131.7 259.3h.1M129.5 260.7h.1M134.7 262.0h.1M137.3 257.8h.1M129.9 265.8h.1M131.8 260.7h.1M129.6 262.9h.1M129.3 255.0h.1M130.7 257.2h.1M134.5 257.5h.1M131.5 258.1h.1M132.4 256.5h.1M135.6 253.3h.1M129.4 256.2h.1M133.7 259.2h.1M133.0 257.7h.1M128.0 254.5h.1M129.6 256.9h.1M132.2 260.4h.1M135.1 258.6h.1M127.9 254.8h.1M131.3 260.4h.1M139.2 259.7h.1M138.4 266.5h.1M126.6 263.8h.1M135.8 264.4h.1M131.0 262.8h.1M129.0 258.7h.1M131.1 266.1h.1M130.1 262.8h.1M131.3 256.2h.1M132.0 261.6h.1M128.0 261.5h.1M128.0 255.5h.1M131.9 258.1h.1M126.9 252.5h.1M131.1 260.0h.1M129.1 259.7h.1M124.6 260.6h.1M132.7 260.1h.1M128.4 259.3h.1M131.5 263.3h.1M132.2 260.0h.1M128.0 262.4h.1M135.9 257.0h.1M133.7 260.2h.1M130.8 253.9h.1M138.4 251.5h.1M132.3 257.5h.1M135.8 257.3h.1M131.2 261.4h.1M132.9 256.9h.1M133.9 260.6h.1M135.1 257.0h.1M130.8 257.4h.1M127.5 260.0h.1M132.7 264.7h.1M129.6 260.5h.1M135.8 258.5h.1M131.3 259.5h.1M128.1 255.1h.1M135.7 259.7h.1M130.7 254.0h.1M131.5 263.7h.1M126.2 255.4h.1M135.6 264.7h.1M137.5 256.8h.1M133.5 256.0h.1M133.2 257.5h.1M131.8 264.3h.1M132.4 258.0h.1M131.2 260.1h.1M128.9 259.8h.1M133.5 265.2h.1M122.4 254.3h.1M125.8 262.5h.1M141.2 259.8h.1M131.5 263.5h.1M120.8 258.3h.1M118.0 259.6h.1M128.9 257.1h.1M132.4 256.7h.1M135.6 259.0h.1M132.6 269.1h.1M129.1 262.7h.1M127.6 264.0h.1M135.0 259.6h.1M135.1 265.4h.1M136.7 259.0h.1M130.8 263.4h.1M124.9 256.6h.1M133.0 261.3h.1M138.8 266.0h.1M132.4 260.8h.1M125.5 258.3h.1M132.1 258.1h.1M131.3 261.4h.1M127.0 256.8h.1M123.6 263.5h.1M126.6 252.3h.1M134.2 258.2h.1M135.0 257.5h.1M139.8 261.8h.1M131.6 259.5h.1M130.1 262.2h.1M139.3 257.3h.1M126.5 261.4h.1M135.4 253.1h.1M128.1 255.1h.1M133.3 261.0h.1M128.0 254.5h.1M133.8 250.9h.1M133.7 258.4h.1M139.0 262.9h.1M128.6 257.9h.1M129.9 256.1h.1M131.3 262.8h.1M124.8 258.1h.1M137.2 261.9h.1M127.6 255.8h.1M127.5 252.7h.1M135.8 259.3h.1M128.1 253.3h.1M129.4 257.0h.1M138.1 257.2h.1M131.5 263.2h.1M133.8 258.3h.1M122.0 264.5h.1M133.5 257.3h.1M130.6 255.2h.1M127.3 253.2h.1M133.1 261.0h.1M131.7 262.1h.1M133.2 259.5h.1M127.4 261.3h.1M135.9 261.5h.1M136.2 257.1h.1M127.0 263.9h.1M128.6 260.0h.1M130.2 259.1h.1M129.9 256.9h.1M123.6 266.5h.1M131.8 251.4h.1M127.3 254.6h.1M127.9 249.0h.1M133.4 265.4h.1M130.0 261.9h.1M133.5 254.1h.1M136.0 252.4h.1M128.6 257.6h.1M136.2 259.5h.1M130.5 255.8h.1M131.4 259.2h.1M134.0 264.5h.1M134.0 259.1h.1M130.4 265.3h.1M131.8 258.9h.1M138.4 265.1h.1M133.3 258.6h.1M128.4 263.2h.1M129.1 262.8h.1M127.8 259.4h.1M132.7 259.6h.1M132.0 260.5h.1M126.4 254.7h.1M130.4 266.1h.1M130.5 255.4h.1M128.3 259.1h.1M135.9 256.8h.1M133.3 259.7h.1M129.5 255.3h.1M130.4 256.2h.1M133.2 252.1h.1M135.6 262.0h.1M133.4 264.9h.1M133.5 252.3h.1M131.2 260.8h.1M128.2 254.6h.1M132.8 261.0h.1M129.3 258.1h.1M128.9 256.8h.1M130.8 263.2h.1M124.4 257.7h.1M137.6 260.2h.1M131.6 262.3h.1M126.9 254.3h.1M124.2 253.3h.1M132.0 262.3h.1M129.3 256.3h.1M132.7 261.4h.1M132.1 251.6h.1M128.8 249.1h.1M132.0 255.7h.1M128.3 264.9h.1M136.4 260.9h.1M132.1 259.7h.1M128.6 258.8h.1M138.8 255.6h.1M128.3 259.6h.1M134.6 262.2h.1M127.0 258.5h.1M129.9 254.2h.1M131.3 257.1h.1M134.8 260.7h.1M127.8 259.3h.1M129.5 256.5h.1M129.0 263.1h.1M129.3 252.3h.1M127.8 262.1h.1M139.8 254.9h.1M129.5 257.7h.1M125.3 260.6h.1M113.0 270.4h.1M118.8 266.9h.1M115.6 270.1h.1M111.0 270.1h.1M117.5 269.0h.1M112.8 268.5h.1M115.6 269.6h.1M119.7 269.1h.1M115.3 269.3h.1M112.8 269.2h.1M114.0 269.9h.1M115.3 270.5h.1M113.5 268.9h.1M116.0 270.9h.1M111.0 271.5h.1M114.8 270.0h.1M114.3 269.3h.1M113.7 272.2h.1M116.8 266.1h.1M110.9 270.2h.1M109.0 272.4h.1M112.5 269.4h.1M116.8 271.9h.1M117.6 269.6h.1M112.3 271.3h.1M113.6 271.5h.1M114.5 269.2h.1M114.0 268.4h.1M116.0 270.9h.1M112.4 271.1h.1M114.7 267.7h.1M117.7 268.0h.1M115.2 268.6h.1M115.0 266.7h.1M113.3 271.3h.1M111.6 271.7h.1M112.3 270.9h.1M115.1 272.4h.1M110.2 272.5h.1M115.8 267.0h.1M114.5 272.7h.1M114.1 265.1h.1M111.4 268.2h.1M113.4 268.7h.1M111.0 269.7h.1M113.5 269.1h.1M110.5 270.8h.1M130.8 246.2h.1M135.6 240.7h.1M130.8 249.4h.1M138.7 247.6h.1M123.5 242.9h.1M141.5 256.2h.1M120.6 249.7h.1M121.5 262.4h.1M130.8 238.2h.1M129.4 258.2h.1M128.0 255.2h.1M127.3 253.4h.1M129.4 247.2h.1M130.4 253.1h.1M127.7 247.4h.1M121.1 253.7h.1M133.6 235.6h.1M124.4 261.2h.1M134.2 247.2h.1M137.2 245.3h.1M122.6 265.2h.1M125.0 250.5h.1M116.8 245.1h.1M120.0 251.1h.1M115.5 259.2h.1M125.6 247.9h.1M123.7 257.1h.1M138.4 249.2h.1M139.0 263.0h.1M137.1 254.0h.1M117.9 256.6h.1M125.2 253.3h.1M115.2 250.1h.1M129.6 245.6h.1M130.0 263.4h.1M129.6 247.3h.1M144.2 237.3h.1M121.7 254.8h.1M124.0 236.4h.1M129.8 257.7h.1M122.6 262.0h.1M131.4 260.1h.1M117.6 252.0h.1M138.9 265.7h.1M137.0 252.0h.1M129.2 247.7h.1M135.5 247.3h.1M128.8 237.9h.1M117.7 264.1h.1M128.4 253.5h.1M113.0 251.8h.1M142.1 241.8h.1M111.8 250.9h.1M124.4 250.6h.1M119.4 242.7h.1M119.6 256.4h.1M127.7 257.6h.1M120.6 256.0h.1M125.0 252.6h.1M134.4 252.2h.1M125.6 240.6h.1M128.4 257.4h.1M123.7 251.5h.1M115.9 242.9h.1M130.8 260.9h.1M125.9 240.6h.1M125.4 241.3h.1M126.1 265.2h.1M130.1 251.0h.1M135.1 249.4h.1M130.3 253.4h.1M131.1 241.9h.1M132.9 258.1h.1M112.3 233.4h.1M121.9 262.2h.1M128.1 256.7h.1M131.8 258.1h.1M123.6 248.0h.1M130.6 256.2h.1M131.9 254.3h.1M124.7 259.6h.1M131.2 259.3h.1M110.5 258.9h.1M111.2 253.5h.1M123.4 252.8h.1M124.7 249.9h.1M129.3 254.4h.1M122.5 234.6h.1M122.6 255.7h.1M122.2 255.0h.1" stroke="#333" stroke-width="0.6" stroke-linecap="square" fill="none"/>
<ellipse cx="140.2" cy="260.4" rx="6.6" ry="7.2" transform="rotate(0 140.2 260.4)" fill="#000" opacity="0.9" filter="url(#b3)"/>
<ellipse cx="140.5" cy="261" rx="4.2" ry="4.6" transform="rotate(0 140.5 261)" fill="#000" opacity="0.7" filter="url(#b)"/>
<ellipse cx="140" cy="251" rx="4.5" ry="6" transform="rotate(0 140 251)" fill="#000" opacity="0.4" filter="url(#b3)"/>
<ellipse cx="123.2" cy="265" rx="5.6" ry="3.6" transform="rotate(-32 123.2 265)" fill="#000" opacity="0.8" filter="url(#b)"/>
<ellipse cx="131" cy="261" rx="5.8" ry="3.8" transform="rotate(-10 131 261)" fill="#000" opacity="0.7" filter="url(#b)"/>
<ellipse cx="122.9" cy="241.2" rx="4.8" ry="5.8" transform="rotate(0 122.9 241.2)" fill="#000" opacity="0.36" filter="url(#b3)"/>
<path d="M203.9 241.8h.1M207.2 256.2h.1M204.5 246.7h.1M206.8 239.7h.1M202.8 253.3h.1M206.7 244.3h.1M203.0 248.9h.1M201.6 244.2h.1M204.2 233.4h.1M206.0 251.2h.1M207.0 239.0h.1M201.9 242.5h.1M201.9 258.4h.1M202.6 245.3h.1M205.1 249.5h.1M207.9 241.0h.1M206.6 247.8h.1M202.1 247.8h.1M201.6 256.0h.1M203.1 252.6h.1M207.5 243.6h.1M202.7 247.7h.1M202.4 252.0h.1M205.1 242.8h.1M203.2 251.0h.1M201.5 256.4h.1M203.0 245.9h.1M202.7 256.0h.1M206.5 254.2h.1M206.1 247.5h.1M208.4 250.7h.1M205.7 250.2h.1M206.3 248.6h.1M204.3 238.1h.1M209.2 239.8h.1M200.0 243.0h.1M208.9 253.8h.1M203.4 248.5h.1M204.6 235.9h.1M204.0 248.6h.1M207.3 240.3h.1M199.8 238.2h.1M205.4 247.5h.1M205.0 247.8h.1M203.9 239.4h.1M205.7 249.2h.1M206.0 254.0h.1M202.0 233.9h.1M200.8 259.0h.1M202.7 249.2h.1M204.7 251.1h.1M211.8 244.1h.1M204.3 243.7h.1M205.2 249.9h.1M202.6 254.4h.1M207.2 249.5h.1M204.5 245.7h.1M201.1 250.7h.1M202.6 244.2h.1M206.9 241.9h.1M203.6 251.8h.1M208.8 243.1h.1M207.1 243.3h.1M205.6 249.7h.1M202.2 252.7h.1M208.7 247.3h.1M205.3 240.4h.1M208.6 247.4h.1M201.9 251.3h.1M201.5 243.2h.1M200.0 254.7h.1M209.6 243.4h.1M203.3 243.8h.1M203.5 250.1h.1M207.9 241.4h.1M205.7 236.9h.1M208.1 246.5h.1M203.2 255.6h.1M204.5 254.7h.1M207.1 256.3h.1M202.9 247.3h.1M205.5 245.9h.1M208.1 243.0h.1M206.9 254.6h.1M200.4 241.6h.1M202.7 243.9h.1M205.6 246.0h.1M204.9 244.4h.1M204.5 249.7h.1M206.3 242.6h.1M204.4 242.7h.1M204.3 239.0h.1M206.8 250.8h.1M204.4 243.2h.1M203.7 243.3h.1M201.3 256.1h.1M211.9 240.1h.1M202.1 250.2h.1M206.0 238.2h.1M200.5 250.0h.1M200.3 255.0h.1M203.6 247.5h.1M204.7 243.9h.1M204.4 245.3h.1M207.4 246.5h.1M204.6 244.0h.1M203.3 242.9h.1M204.7 257.3h.1M207.2 248.3h.1M208.4 252.7h.1M205.2 246.1h.1M202.3 248.4h.1M204.0 238.1h.1M201.9 257.8h.1M205.2 249.8h.1M205.1 244.4h.1M205.7 253.1h.1M204.0 249.9h.1M207.0 244.3h.1M205.1 242.9h.1M206.0 244.9h.1M207.2 242.7h.1M208.4 245.3h.1M202.9 241.9h.1M206.2 242.2h.1M208.7 254.2h.1M205.8 239.0h.1M204.6 242.9h.1M200.7 249.4h.1M209.5 244.0h.1M206.5 254.2h.1M202.6 245.1h.1M205.3 249.6h.1M202.2 248.2h.1M204.5 252.3h.1M201.2 243.8h.1M203.6 245.2h.1M206.3 243.5h.1M210.7 243.0h.1M206.5 252.7h.1M206.8 245.9h.1M202.9 245.6h.1M206.2 247.7h.1M206.0 250.2h.1M202.8 241.8h.1M207.9 244.3h.1M201.2 257.4h.1M202.9 241.8h.1M206.8 240.7h.1M202.8 252.9h.1M202.9 261.0h.1M204.9 262.0h.1M205.0 247.3h.1M203.3 245.8h.1M203.6 246.9h.1M206.4 239.9h.1M202.7 235.3h.1M208.0 246.6h.1M204.7 246.7h.1M206.9 248.8h.1M206.6 246.1h.1M204.4 246.7h.1M200.6 253.1h.1M201.2 241.4h.1M206.2 247.3h.1M206.5 256.6h.1M208.8 254.7h.1M204.2 258.5h.1M202.8 246.5h.1M206.9 245.8h.1M204.4 245.0h.1M207.7 233.2h.1M207.5 252.9h.1M204.5 250.1h.1M202.6 253.2h.1M211.4 241.9h.1M207.8 246.7h.1M204.0 244.3h.1M204.3 240.0h.1M201.7 256.3h.1M204.7 250.1h.1M205.4 249.7h.1M201.3 241.7h.1M206.1 252.6h.1M202.2 243.8h.1M202.3 250.7h.1M205.5 247.2h.1M203.3 248.9h.1M204.8 242.8h.1M205.4 243.3h.1M206.8 250.5h.1M203.2 250.3h.1M204.8 243.0h.1M202.7 237.7h.1M202.2 248.9h.1M207.4 243.5h.1M205.1 248.9h.1M206.4 249.5h.1M207.4 251.3h.1M203.0 249.2h.1M199.5 246.0h.1M204.7 250.2h.1M204.0 251.7h.1M207.6 242.3h.1M203.5 248.5h.1M205.8 247.8h.1M206.5 240.4h.1M206.4 253.5h.1M207.1 249.4h.1M204.2 249.2h.1M204.5 238.1h.1M203.4 246.8h.1M203.6 241.8h.1M204.2 244.9h.1M204.9 246.7h.1M205.1 252.6h.1M205.0 249.3h.1M202.0 230.5h.1M203.8 250.8h.1M204.0 243.5h.1M202.0 252.0h.1M203.5 248.4h.1M207.2 250.0h.1M209.6 246.3h.1M206.8 250.9h.1M203.3 247.3h.1M203.5 241.3h.1M205.4 242.7h.1M208.4 242.9h.1M203.5 247.5h.1M203.6 247.3h.1M203.4 239.0h.1M199.4 239.8h.1M208.0 249.5h.1M205.0 244.4h.1M204.4 248.7h.1M201.6 242.5h.1M202.7 254.1h.1M202.4 253.6h.1M203.7 262.3h.1M204.5 247.2h.1M207.7 251.9h.1M206.8 241.0h.1M207.2 256.4h.1M204.5 244.3h.1M202.3 252.7h.1M205.3 247.0h.1M202.0 256.1h.1M206.6 246.9h.1M207.9 241.7h.1M206.6 241.4h.1M207.8 245.5h.1M207.4 244.7h.1M205.6 253.4h.1M202.7 247.5h.1M202.9 251.8h.1M203.4 244.9h.1M204.3 253.5h.1M202.4 246.9h.1M204.0 243.9h.1M203.0 246.1h.1M205.1 238.3h.1M205.2 240.4h.1M204.7 259.8h.1M202.6 246.6h.1M204.1 252.5h.1M203.7 237.0h.1M201.2 248.0h.1M205.3 253.0h.1M203.5 250.7h.1M202.4 254.3h.1M204.5 243.2h.1M205.1 256.8h.1M202.8 240.1h.1M202.5 240.5h.1M204.6 249.0h.1M204.3 248.1h.1M207.3 245.4h.1M201.9 234.2h.1M205.2 243.2h.1M204.2 249.3h.1M205.7 238.2h.1M202.6 247.4h.1M204.4 253.4h.1M203.6 235.4h.1M207.3 237.8h.1M202.6 249.2h.1M202.4 260.9h.1M205.2 250.0h.1M203.7 259.4h.1M205.9 243.0h.1M207.5 237.5h.1M203.4 248.6h.1M205.0 241.6h.1M208.2 255.2h.1M202.6 249.1h.1M203.3 244.6h.1M206.9 247.7h.1M204.5 247.6h.1M202.1 253.8h.1M203.0 254.3h.1M203.7 244.4h.1M208.0 248.1h.1M203.3 244.0h.1M206.0 257.5h.1M206.1 244.8h.1M202.2 243.2h.1M204.4 248.4h.1M203.3 254.2h.1M202.6 243.0h.1M205.8 249.7h.1M203.8 252.4h.1M201.6 256.1h.1M209.5 257.9h.1M205.0 258.0h.1M204.8 254.4h.1M204.3 248.1h.1M205.9 237.2h.1M204.2 256.6h.1M198.3 249.2h.1M206.7 248.8h.1M205.1 254.8h.1M205.4 236.4h.1M202.6 245.3h.1M205.0 244.5h.1M204.5 256.3h.1M198.3 253.4h.1M206.8 250.4h.1M204.7 247.4h.1M205.5 248.4h.1M203.1 251.4h.1M202.9 246.8h.1M203.9 240.6h.1M206.0 246.6h.1M202.1 246.6h.1M201.7 255.0h.1M205.8 258.1h.1M203.5 250.9h.1M202.6 242.2h.1M204.5 249.3h.1M206.7 245.5h.1M207.1 252.4h.1M202.8 246.0h.1M202.7 256.5h.1M203.5 251.9h.1M206.7 245.6h.1M203.6 248.9h.1M203.0 239.9h.1M202.6 248.9h.1M205.1 256.8h.1M200.7 249.8h.1M202.2 253.4h.1M206.2 247.7h.1M207.9 244.9h.1M203.5 241.1h.1M203.3 247.6h.1M206.2 254.1h.1M204.1 242.9h.1M204.0 244.6h.1M203.7 244.8h.1M202.8 246.7h.1M203.6 246.1h.1M201.7 247.8h.1M206.0 250.6h.1M203.5 240.7h.1M201.9 240.5h.1M203.3 245.3h.1M200.8 250.7h.1M201.3 243.2h.1M203.1 251.6h.1M208.7 245.0h.1M204.1 244.8h.1M204.3 246.1h.1M210.1 241.0h.1M204.5 242.6h.1M205.5 244.1h.1M206.0 241.0h.1M209.3 248.2h.1M200.8 250.9h.1M203.7 240.6h.1M205.7 244.1h.1M206.3 244.0h.1M206.7 247.8h.1M205.5 247.9h.1M203.9 245.0h.1M205.7 250.9h.1M203.8 259.4h.1M208.4 240.7h.1M207.1 246.6h.1M205.2 242.6h.1M208.3 242.4h.1M204.5 243.0h.1M208.9 253.9h.1M201.8 244.5h.1M205.5 244.6h.1M203.9 241.1h.1M205.2 241.0h.1M206.5 260.2h.1M204.0 256.1h.1M205.5 243.3h.1M204.0 241.7h.1M204.9 250.9h.1M206.7 245.5h.1M202.1 246.6h.1M208.3 248.6h.1M204.6 235.6h.1M203.8 250.0h.1M202.6 254.4h.1M203.5 242.2h.1M203.4 246.5h.1M206.9 243.9h.1M200.8 246.6h.1M205.8 255.5h.1M202.3 255.2h.1M206.2 249.5h.1M203.0 242.2h.1M202.6 252.1h.1M205.2 252.9h.1M208.6 247.1h.1M204.6 257.6h.1M201.9 244.6h.1M203.9 244.9h.1M205.0 242.4h.1M207.2 239.5h.1M202.9 237.7h.1M201.7 250.2h.1M206.1 245.9h.1M206.5 250.4h.1M203.5 246.8h.1M205.5 258.1h.1M203.7 249.1h.1M205.9 253.7h.1M205.6 252.9h.1M202.4 245.6h.1M200.5 246.8h.1M209.7 248.4h.1M204.9 248.5h.1M205.0 239.8h.1M203.2 246.1h.1M205.1 242.3h.1M199.7 264.0h.1M194.6 267.8h.1M199.5 270.1h.1M208.4 262.9h.1M199.6 264.7h.1M193.7 268.9h.1M210.4 263.7h.1M202.0 264.2h.1M202.3 266.6h.1M202.2 266.6h.1M198.2 268.0h.1M201.9 269.3h.1M198.4 272.6h.1M200.2 264.5h.1M201.8 265.8h.1M201.3 267.3h.1M196.0 262.9h.1M204.5 263.3h.1M209.4 261.4h.1M199.5 269.0h.1M213.1 261.6h.1M196.6 268.6h.1M195.7 272.1h.1M202.1 261.2h.1M205.2 266.5h.1M203.8 261.3h.1M196.5 264.8h.1M196.5 270.3h.1M204.0 268.7h.1M202.1 263.9h.1M202.2 264.9h.1M195.3 265.9h.1M202.5 261.1h.1M205.2 265.3h.1M197.0 262.5h.1M205.8 267.9h.1M195.7 264.8h.1M206.5 262.6h.1M201.0 270.5h.1M201.1 267.5h.1M198.4 264.8h.1M200.9 262.7h.1M192.8 269.5h.1M208.8 264.6h.1M212.7 261.4h.1M209.0 261.3h.1M200.5 268.0h.1M198.7 270.3h.1M200.0 267.5h.1M197.6 267.8h.1M205.4 262.0h.1M199.1 268.3h.1M205.0 262.4h.1M193.7 265.1h.1M197.6 272.3h.1M202.0 267.0h.1M206.7 263.0h.1M202.7 262.8h.1M195.7 272.0h.1M202.1 267.3h.1M196.6 268.4h.1M208.8 257.3h.1M204.3 268.6h.1M200.7 266.5h.1M201.9 270.1h.1M200.5 264.9h.1M203.0 263.6h.1M202.0 271.0h.1M206.0 262.8h.1M206.5 265.2h.1M204.1 263.9h.1M202.6 266.3h.1M204.6 264.7h.1M199.0 267.0h.1M201.8 261.7h.1M202.8 267.5h.1M201.8 264.3h.1M200.6 264.4h.1M205.1 261.6h.1M192.2 267.5h.1M203.2 265.2h.1M197.2 263.7h.1M199.4 263.9h.1M198.7 267.5h.1M198.8 268.6h.1M197.5 266.6h.1M203.1 269.9h.1M210.0 263.1h.1M198.3 267.8h.1M206.9 264.8h.1M194.4 270.3h.1M199.6 269.7h.1M203.3 262.3h.1M210.3 258.3h.1M211.8 257.7h.1M204.5 270.6h.1M198.4 266.0h.1M207.8 261.0h.1M201.4 260.9h.1M211.0 262.6h.1M204.3 266.2h.1M198.5 265.9h.1M195.4 271.2h.1M208.4 263.9h.1M206.8 264.5h.1M195.3 265.1h.1M204.6 264.0h.1M205.3 261.9h.1M198.5 269.3h.1M196.2 263.1h.1M197.4 265.2h.1M195.7 267.5h.1M209.8 268.5h.1M208.3 259.3h.1M206.4 261.9h.1M202.1 262.6h.1M198.3 261.6h.1M208.0 258.2h.1M203.0 262.3h.1M200.6 261.8h.1M201.5 269.0h.1M200.7 258.9h.1M202.9 259.7h.1M203.7 266.0h.1M198.2 266.7h.1M201.2 267.3h.1M207.9 266.2h.1M206.4 269.5h.1M200.5 272.8h.1M201.7 268.2h.1M201.1 266.1h.1M198.2 269.3h.1M210.6 259.8h.1M201.4 265.6h.1M204.3 262.9h.1M201.9 266.1h.1M208.8 264.0h.1M195.9 267.2h.1M203.1 267.6h.1M205.4 262.1h.1M210.5 258.7h.1M210.1 264.8h.1M208.8 261.2h.1M201.4 260.0h.1M192.8 269.4h.1M206.5 266.0h.1M202.9 268.4h.1M206.7 267.6h.1M193.2 268.3h.1M195.6 265.8h.1M207.1 258.2h.1M197.2 267.1h.1M204.6 261.7h.1M205.7 264.7h.1M194.6 261.6h.1M195.4 265.2h.1M207.4 258.8h.1M197.5 269.7h.1M200.1 263.0h.1M207.9 264.5h.1M201.4 262.8h.1M194.2 263.1h.1M203.9 265.4h.1M197.6 268.4h.1M213.8 252.8h.1M195.2 272.2h.1M198.8 265.6h.1M204.0 263.3h.1M206.7 263.8h.1M206.8 262.3h.1M200.2 261.3h.1M203.3 267.5h.1M197.2 268.7h.1M196.6 265.3h.1M201.1 270.6h.1M204.4 263.4h.1M201.4 266.1h.1M203.1 265.1h.1M193.3 261.6h.1M202.5 260.4h.1M200.7 265.7h.1M199.9 268.7h.1M199.9 265.7h.1M196.9 267.7h.1M197.1 268.8h.1M209.0 264.0h.1M201.0 260.8h.1M207.6 264.7h.1M206.5 253.7h.1M201.0 264.6h.1M204.3 259.5h.1M203.9 272.5h.1M202.4 257.5h.1M204.0 268.9h.1M199.9 268.9h.1M199.4 261.6h.1M200.8 270.3h.1M205.6 260.4h.1M205.2 260.3h.1M202.6 264.7h.1M196.6 270.1h.1M195.0 259.9h.1M196.4 265.9h.1M196.2 265.6h.1M194.2 261.5h.1M205.5 263.0h.1M202.2 264.1h.1M201.3 264.7h.1M194.1 265.0h.1M203.6 267.8h.1M205.4 268.8h.1M195.1 269.0h.1M201.0 270.5h.1M208.0 259.0h.1M204.3 262.7h.1M197.0 268.3h.1M199.7 272.6h.1M206.2 266.7h.1M198.8 258.3h.1M205.2 263.3h.1M208.9 266.7h.1M198.4 270.6h.1M202.7 264.1h.1M201.2 267.7h.1M205.2 265.4h.1M197.4 263.5h.1M209.5 264.7h.1M199.0 267.2h.1M201.9 258.6h.1M207.9 270.1h.1M201.5 262.9h.1M210.4 259.3h.1M201.7 263.8h.1M199.1 260.5h.1M193.3 265.7h.1M205.3 262.5h.1M202.9 256.9h.1M201.5 271.0h.1M194.8 263.2h.1M197.7 266.9h.1M203.7 268.8h.1M210.0 265.4h.1M203.2 262.5h.1M196.8 263.3h.1M209.2 264.8h.1M200.3 263.0h.1M205.3 264.7h.1M200.1 262.1h.1M201.5 263.4h.1M205.8 264.8h.1M202.7 263.1h.1M209.5 262.8h.1M208.5 263.8h.1M222.7 262.9h.1M213.1 256.9h.1M213.8 263.5h.1M224.0 262.3h.1M219.5 266.7h.1M216.8 257.0h.1M210.5 260.9h.1M222.9 263.8h.1M217.8 264.0h.1M218.7 259.9h.1M216.9 263.8h.1M224.2 258.8h.1M213.6 262.1h.1M230.7 258.7h.1M212.1 262.9h.1M221.8 260.2h.1M218.9 263.1h.1M209.4 261.7h.1M222.3 264.3h.1M225.4 261.6h.1M211.1 265.4h.1M223.2 260.1h.1M224.7 264.6h.1M218.2 255.5h.1M216.4 259.8h.1M214.4 261.6h.1M213.1 262.8h.1M229.4 258.6h.1M224.7 260.4h.1M222.0 261.5h.1M226.0 259.9h.1M223.0 259.7h.1M220.3 261.8h.1M225.0 257.6h.1M211.6 265.5h.1M221.1 266.4h.1M213.4 262.4h.1M222.3 266.5h.1M218.7 260.6h.1M222.9 261.5h.1M214.9 263.8h.1M208.6 259.1h.1M226.5 260.5h.1M217.2 262.8h.1M225.2 263.2h.1M213.7 260.3h.1M224.8 261.5h.1M215.5 264.1h.1M225.3 267.6h.1M213.1 259.9h.1M215.2 262.8h.1M216.4 264.8h.1M204.3 264.4h.1M215.5 261.1h.1M222.1 262.3h.1M213.5 265.8h.1M222.2 260.5h.1M220.1 258.8h.1M212.3 261.0h.1M221.0 262.1h.1M214.8 258.1h.1M209.8 266.1h.1M221.0 259.7h.1M225.5 263.3h.1M216.7 260.2h.1M225.2 262.7h.1M227.9 262.8h.1M215.8 260.2h.1M215.2 262.5h.1M220.4 263.4h.1M221.5 259.0h.1M217.9 259.3h.1M221.6 258.3h.1M215.8 259.5h.1M215.6 261.1h.1M227.3 261.1h.1M211.2 261.0h.1M223.1 263.3h.1M220.3 267.1h.1M225.1 262.0h.1M225.6 258.2h.1M218.1 259.5h.1M220.0 266.1h.1M216.3 266.1h.1M213.4 265.6h.1M209.8 259.5h.1M224.4 261.6h.1M219.8 261.8h.1M220.0 261.3h.1M213.7 261.0h.1M219.6 259.4h.1M221.5 266.5h.1M210.1 260.3h.1M217.5 261.9h.1M219.5 259.9h.1M218.8 261.8h.1M218.5 265.9h.1M219.7 257.8h.1M210.5 263.4h.1M217.1 260.1h.1M211.6 261.0h.1M218.5 260.0h.1M217.1 264.2h.1M223.3 263.3h.1M218.1 258.2h.1M223.2 265.8h.1M225.9 264.9h.1M220.5 262.8h.1M218.9 265.2h.1M217.5 267.6h.1M223.2 260.9h.1M219.0 257.5h.1M215.0 261.0h.1M232.3 259.6h.1M224.0 262.0h.1M217.4 263.5h.1M208.2 264.3h.1M229.5 262.6h.1M218.7 262.2h.1M222.6 260.5h.1M219.7 263.2h.1M217.1 262.8h.1M220.8 263.7h.1M213.6 260.4h.1M216.7 265.0h.1M220.4 257.4h.1M212.1 267.0h.1M220.8 258.3h.1M214.1 262.2h.1M226.8 266.2h.1M217.0 261.0h.1M229.4 259.2h.1M227.5 262.7h.1M219.5 265.3h.1M221.6 259.6h.1M210.7 261.8h.1M221.8 265.5h.1M204.8 265.4h.1M222.4 265.9h.1M223.3 262.4h.1M221.3 262.9h.1M215.6 261.5h.1M219.7 260.6h.1M211.0 257.9h.1M221.7 263.2h.1M219.6 258.7h.1M223.6 260.7h.1M207.7 266.0h.1M210.9 267.9h.1M221.9 260.6h.1M206.2 259.9h.1M227.1 265.5h.1M220.4 257.2h.1M216.9 261.0h.1M221.5 261.5h.1M220.9 257.4h.1M215.5 265.7h.1M211.1 264.3h.1M231.6 263.6h.1M211.4 265.2h.1M208.9 262.7h.1M216.8 265.1h.1M225.4 262.3h.1M228.7 264.4h.1M216.4 259.2h.1M232.4 260.7h.1M221.2 261.5h.1M216.4 257.5h.1M218.2 261.5h.1M224.3 260.4h.1M210.5 258.9h.1M218.8 262.5h.1M222.9 260.8h.1M221.9 262.2h.1M228.2 261.7h.1M219.8 263.3h.1M225.6 259.3h.1M216.4 261.1h.1M207.4 265.3h.1M224.8 261.9h.1M237.3 265.2h.1M230.0 266.0h.1M223.9 258.0h.1M227.3 262.9h.1M212.5 261.9h.1M223.1 264.5h.1M220.0 260.4h.1M223.2 259.7h.1M218.6 263.9h.1M211.2 262.8h.1M208.3 259.3h.1M212.3 261.6h.1M222.9 261.7h.1M224.0 262.1h.1M217.9 263.1h.1M217.7 262.2h.1M224.7 260.3h.1M225.3 258.8h.1M217.8 257.1h.1M216.1 266.1h.1M220.9 265.2h.1M211.0 259.1h.1M221.5 264.0h.1M223.6 257.3h.1M221.8 261.6h.1M219.7 263.1h.1M217.5 257.2h.1M213.2 257.9h.1M211.8 261.4h.1M226.1 259.9h.1M214.8 258.7h.1M209.6 262.0h.1M216.4 261.2h.1M213.8 263.1h.1M212.5 263.3h.1M215.4 263.9h.1M214.2 263.0h.1M221.4 261.6h.1M227.9 262.3h.1M214.2 263.7h.1M214.5 260.3h.1M219.1 262.3h.1M228.3 257.1h.1M217.6 264.9h.1M218.1 262.7h.1M227.3 258.5h.1M219.2 263.9h.1M215.8 257.1h.1M213.6 262.3h.1M220.0 266.8h.1M226.2 257.6h.1M224.7 264.3h.1M227.8 261.4h.1M216.0 262.2h.1M227.4 263.5h.1M228.3 263.9h.1M215.8 259.1h.1M229.1 257.7h.1M217.1 260.9h.1M214.0 260.3h.1M219.0 268.2h.1M218.6 260.4h.1M219.7 264.3h.1M214.5 260.7h.1M209.5 263.7h.1M222.7 265.9h.1M212.5 267.7h.1M223.8 261.1h.1M216.9 261.0h.1M212.4 263.9h.1M215.7 259.8h.1M221.8 262.1h.1M215.8 261.2h.1M216.3 265.4h.1M224.5 259.8h.1M218.8 265.5h.1M217.4 266.6h.1M221.4 263.6h.1M207.7 264.1h.1M220.9 263.4h.1M221.6 263.2h.1M216.2 264.2h.1M219.3 259.0h.1M213.4 262.2h.1M220.8 255.8h.1M207.7 264.6h.1M218.9 269.5h.1M210.6 261.1h.1M215.7 263.3h.1M226.7 266.2h.1M213.5 265.1h.1M212.4 262.6h.1M219.9 263.5h.1M214.6 265.4h.1M218.6 261.7h.1M217.5 258.9h.1M222.9 262.7h.1M221.5 266.9h.1M214.3 261.0h.1M219.0 264.1h.1M218.0 264.3h.1M221.5 257.0h.1M215.3 256.3h.1M217.4 260.7h.1M222.2 262.3h.1M218.7 265.2h.1M222.3 258.5h.1M215.2 262.7h.1M228.3 261.3h.1M218.1 262.5h.1M223.3 261.6h.1M220.6 260.7h.1M216.0 259.6h.1M222.6 260.3h.1M222.0 262.9h.1M224.3 254.5h.1M213.7 258.5h.1M218.1 264.0h.1M232.9 266.0h.1M226.4 262.8h.1M206.7 259.8h.1M200.6 261.2h.1M208.0 260.1h.1M204.5 254.3h.1M205.8 257.9h.1M209.2 256.8h.1M209.2 260.3h.1M204.0 257.7h.1M202.7 256.1h.1M211.1 255.6h.1M214.4 259.7h.1M211.0 258.4h.1M211.0 261.7h.1M208.4 256.2h.1M206.1 264.6h.1M207.4 256.4h.1M205.6 252.3h.1M206.3 259.1h.1M206.3 255.4h.1M209.4 259.6h.1M206.5 259.0h.1M204.7 260.9h.1M204.6 256.9h.1M208.5 256.6h.1M204.1 265.1h.1M213.2 252.1h.1M208.4 253.7h.1M209.1 253.6h.1M210.0 259.8h.1M213.8 262.1h.1M206.4 261.2h.1M206.4 257.6h.1M206.3 252.0h.1M210.1 251.1h.1M207.2 259.8h.1M208.4 252.6h.1M205.8 260.3h.1M211.8 263.4h.1M201.8 259.6h.1M206.4 260.6h.1M202.2 257.5h.1M210.4 255.8h.1M206.8 254.7h.1M211.8 253.5h.1M204.9 256.9h.1M206.9 265.2h.1M208.9 255.2h.1M210.0 259.2h.1M209.0 257.8h.1M209.6 254.0h.1M203.9 256.5h.1M204.2 260.4h.1M214.6 262.2h.1M209.5 259.2h.1M205.7 253.6h.1M209.9 253.0h.1M209.0 257.5h.1M210.6 258.2h.1M208.4 256.0h.1M202.1 256.8h.1M210.4 261.6h.1M212.7 254.6h.1M204.8 260.4h.1M206.4 266.8h.1M209.1 252.8h.1M206.1 263.4h.1M201.8 258.5h.1M203.3 263.5h.1M206.5 254.5h.1M202.2 255.6h.1M199.3 256.4h.1M215.5 258.3h.1M207.1 254.0h.1M209.2 256.4h.1M205.1 262.7h.1M209.5 255.0h.1M213.1 257.8h.1M209.7 258.5h.1M212.0 260.1h.1M206.8 260.4h.1M206.7 258.5h.1M213.6 254.4h.1M204.5 256.6h.1M206.3 262.4h.1M202.6 265.8h.1M213.4 256.5h.1M208.6 256.8h.1M210.3 260.3h.1M210.6 260.6h.1M214.6 257.4h.1M210.4 257.4h.1M208.1 258.7h.1M207.8 259.2h.1M205.1 257.5h.1M205.9 254.0h.1M205.6 256.3h.1M207.5 252.7h.1M207.1 254.1h.1M205.2 258.6h.1M211.8 259.0h.1M206.3 256.5h.1M212.6 252.5h.1M211.9 252.9h.1M205.8 258.2h.1M207.2 263.7h.1M209.7 257.8h.1M211.3 258.1h.1M205.2 261.8h.1M213.1 262.4h.1M204.0 264.5h.1M206.6 260.6h.1M212.1 266.1h.1M202.5 254.5h.1M212.0 259.7h.1M206.9 248.0h.1M209.5 257.4h.1M199.1 267.1h.1M199.4 256.1h.1M208.0 258.8h.1M210.6 257.1h.1M188.7 270.9h.1M195.4 268.0h.1M191.6 272.8h.1M193.6 269.7h.1M192.6 269.5h.1M189.3 272.5h.1M192.0 272.3h.1M190.2 270.3h.1M191.7 270.0h.1M189.9 269.7h.1M191.8 270.7h.1M195.4 268.9h.1M196.3 268.0h.1M189.0 271.0h.1M189.9 268.9h.1M192.0 269.0h.1M193.4 272.2h.1M194.1 269.6h.1M189.7 270.6h.1M193.1 269.0h.1M192.4 271.3h.1M188.6 270.6h.1M192.1 270.1h.1M190.5 270.0h.1M191.7 272.8h.1M193.6 267.4h.1M191.2 270.6h.1M190.5 268.8h.1M190.8 270.8h.1M189.5 271.5h.1M191.4 270.9h.1M190.4 270.1h.1M191.9 271.6h.1M193.1 269.6h.1M190.3 272.2h.1M192.7 271.1h.1M190.0 269.7h.1M191.2 269.6h.1M194.1 270.5h.1M194.6 270.6h.1M189.5 269.9h.1M193.8 270.9h.1M190.6 269.1h.1M205.5 248.0h.1M215.5 258.2h.1M195.8 248.1h.1M222.2 251.8h.1M209.3 255.8h.1M203.1 244.8h.1M212.2 261.2h.1M220.0 252.0h.1M219.9 249.6h.1M202.7 242.2h.1M214.1 257.3h.1M214.9 251.8h.1M208.9 258.4h.1M211.6 243.5h.1M222.8 248.2h.1M215.1 252.0h.1M220.3 253.5h.1M221.6 253.2h.1M208.4 249.0h.1M217.1 247.1h.1M219.3 250.6h.1M204.7 246.9h.1M210.9 262.4h.1M218.1 252.1h.1M204.9 263.2h.1M209.8 252.0h.1M208.7 259.8h.1M213.4 249.3h.1M213.5 246.1h.1M203.7 251.1h.1M189.4 258.9h.1M227.6 245.5h.1M210.9 242.7h.1M213.4 253.2h.1M217.8 244.2h.1M207.3 248.2h.1M210.1 265.4h.1M210.4 251.8h.1M208.0 256.7h.1M232.1 258.8h.1M224.0 245.7h.1M220.3 252.2h.1M221.8 258.2h.1M217.1 242.1h.1M213.1 249.1h.1M215.5 252.2h.1M220.2 242.6h.1M206.2 251.6h.1M214.5 249.6h.1M211.8 252.3h.1" stroke="#333" stroke-width="0.6" stroke-linecap="square" fill="none"/>
<ellipse cx="201.3" cy="265.2" rx="8.4" ry="4.9" transform="rotate(-35 201.3 265.2)" fill="#000" opacity="1" filter="url(#b)"/>
<ellipse cx="218.8" cy="261.8" rx="8.7" ry="4.7" transform="rotate(0 218.8 261.8)" fill="#000" opacity="1" filter="url(#b)"/>
<ellipse cx="209" cy="262" rx="4" ry="3.6" transform="rotate(0 209 262)" fill="#000" opacity="1" filter="url(#b)"/>
<ellipse cx="206" cy="258" rx="2.8" ry="3" transform="rotate(0 206 258)" fill="#000" opacity="0.8" filter="url(#b)"/>
<ellipse cx="204.7" cy="247.5" rx="3.1" ry="9.5" transform="rotate(0 204.7 247.5)" fill="#000" opacity="0.5" filter="url(#b3)"/>
<path d="M287.4 242.5h.1M287.9 234.5h.1M280.0 233.3h.1M289.0 232.6h.1M285.7 242.0h.1M285.6 238.9h.1M282.1 245.1h.1M285.5 242.2h.1M282.9 242.4h.1M287.6 243.0h.1M285.4 236.7h.1M286.2 238.2h.1M279.4 244.3h.1M286.0 232.8h.1M279.8 249.1h.1M286.3 236.3h.1M280.5 244.0h.1M285.2 243.3h.1M283.2 243.9h.1M287.7 245.5h.1M286.2 235.9h.1M283.2 249.1h.1M288.1 237.3h.1M283.0 247.7h.1M282.1 243.5h.1M285.1 250.1h.1M283.1 233.1h.1M284.4 245.3h.1M283.6 241.6h.1M281.6 246.7h.1M278.4 241.0h.1M282.2 237.9h.1M281.9 236.7h.1M284.4 242.1h.1M289.5 242.7h.1M284.8 243.8h.1M282.9 248.5h.1M284.6 242.8h.1M284.2 241.9h.1M282.8 246.2h.1M284.4 242.3h.1M283.2 245.2h.1M281.8 245.5h.1M281.9 244.4h.1M289.1 244.8h.1M286.1 236.9h.1M286.4 242.8h.1M287.9 240.1h.1M283.1 250.2h.1M286.0 241.0h.1M281.1 240.7h.1M285.3 245.2h.1M283.2 236.6h.1M283.5 236.7h.1M283.4 242.9h.1M289.2 244.7h.1M290.8 236.3h.1M287.3 246.9h.1M284.4 245.9h.1M283.1 250.7h.1M289.3 235.3h.1M277.5 247.2h.1M282.2 247.6h.1M284.6 238.9h.1M283.1 243.0h.1M285.9 239.5h.1M284.9 245.1h.1M283.8 236.4h.1M279.9 238.8h.1M285.6 239.0h.1M283.1 240.9h.1M283.7 244.5h.1M286.0 244.7h.1M288.9 238.9h.1M285.5 244.2h.1M282.8 238.1h.1M285.5 242.7h.1M282.1 238.5h.1M287.2 247.0h.1M282.6 247.8h.1M282.4 240.4h.1M287.5 241.5h.1M280.7 243.4h.1M292.6 232.7h.1M286.8 236.8h.1M285.9 235.7h.1M292.3 241.6h.1M285.7 239.0h.1M282.6 239.1h.1M282.3 249.7h.1M282.8 249.0h.1M281.6 241.3h.1M285.8 234.9h.1M294.6 244.5h.1M286.3 239.0h.1M284.6 237.0h.1M287.8 241.3h.1M283.8 242.6h.1M281.0 241.8h.1M283.4 243.7h.1M283.4 241.8h.1M284.3 246.6h.1M281.2 245.5h.1M282.2 240.3h.1M284.6 242.7h.1M279.5 235.5h.1M282.6 245.8h.1M280.3 247.8h.1M279.7 240.6h.1M285.9 242.6h.1M283.7 246.2h.1M281.5 243.8h.1M287.6 242.0h.1M280.3 234.7h.1M283.9 236.7h.1M286.9 239.0h.1M290.1 246.8h.1M281.6 239.5h.1M287.4 246.4h.1M280.2 245.5h.1M279.8 251.0h.1M282.1 244.0h.1M286.7 240.6h.1M282.3 246.8h.1M285.9 242.2h.1M282.9 249.9h.1M286.2 244.9h.1M287.8 235.6h.1M285.6 240.0h.1M287.3 240.1h.1M287.3 237.9h.1M288.0 239.7h.1M283.5 244.4h.1M283.6 241.7h.1M284.5 250.6h.1M281.2 236.4h.1M284.8 246.7h.1M283.1 242.0h.1M280.5 251.5h.1M285.8 236.7h.1M282.4 235.1h.1M288.5 241.6h.1M288.6 246.6h.1M284.5 245.1h.1M285.1 246.7h.1M282.8 238.7h.1M282.9 241.9h.1M285.8 236.5h.1M279.9 249.0h.1M291.3 240.4h.1M285.5 242.2h.1M281.2 244.2h.1M281.7 249.1h.1M286.2 241.1h.1M277.8 239.1h.1M287.8 239.8h.1M285.7 245.8h.1M280.2 239.5h.1M284.2 245.5h.1M284.9 242.1h.1M284.1 240.4h.1M286.2 237.5h.1M286.7 241.2h.1M286.6 240.3h.1M285.4 242.9h.1M286.1 244.8h.1M287.2 242.2h.1M284.8 240.8h.1M281.4 240.3h.1M286.1 246.3h.1M281.8 242.5h.1M288.6 236.9h.1M284.9 243.7h.1M286.0 243.8h.1M283.1 231.8h.1M290.3 242.2h.1M285.8 248.6h.1M286.5 237.2h.1M288.1 243.1h.1M285.1 244.5h.1M285.4 247.2h.1M283.0 234.7h.1M284.9 242.2h.1M286.7 242.2h.1M280.9 250.5h.1M286.3 248.2h.1M288.4 239.6h.1M284.4 241.6h.1M283.0 237.3h.1M286.8 237.0h.1M285.2 244.5h.1M284.4 240.3h.1M285.3 244.6h.1M287.3 237.1h.1M277.1 249.2h.1M283.4 239.8h.1M281.0 236.9h.1M281.4 244.7h.1M279.8 233.5h.1M284.2 239.5h.1M283.2 239.4h.1M280.0 241.6h.1M287.4 243.8h.1M281.1 246.9h.1M287.4 238.1h.1M284.0 238.9h.1M282.5 247.1h.1M282.9 240.7h.1M286.6 237.0h.1M282.3 244.2h.1M290.3 235.1h.1M286.8 241.4h.1M286.9 245.9h.1M289.1 245.2h.1M284.8 238.1h.1M279.9 243.0h.1M284.6 246.0h.1M287.7 236.0h.1M283.8 240.6h.1M283.7 245.4h.1M287.7 244.6h.1M280.7 235.7h.1M280.1 236.7h.1M281.0 241.9h.1M282.2 246.5h.1M288.0 241.1h.1M286.9 242.9h.1M283.6 248.2h.1M281.6 240.6h.1M289.7 240.2h.1M284.9 242.8h.1M285.4 236.1h.1M284.2 237.2h.1M286.9 244.1h.1M288.2 237.6h.1M285.6 243.1h.1M288.3 239.9h.1M284.5 248.6h.1M290.6 239.8h.1M283.8 234.7h.1M286.1 245.4h.1M286.7 238.7h.1M285.3 250.0h.1M284.6 241.5h.1M286.8 245.3h.1M288.6 241.6h.1M285.9 240.9h.1M283.5 240.2h.1M283.0 243.9h.1M283.6 242.0h.1M284.3 236.0h.1M289.7 239.2h.1M287.8 247.7h.1M279.5 237.1h.1M283.4 241.7h.1M285.0 239.3h.1M288.0 242.6h.1M288.1 240.0h.1M280.7 247.0h.1M285.5 237.1h.1M282.4 246.3h.1M285.2 238.8h.1M284.6 246.8h.1M284.5 240.5h.1M279.4 253.1h.1M281.3 249.2h.1M283.5 243.6h.1M278.9 240.8h.1M285.1 240.7h.1M285.5 235.9h.1M280.4 241.3h.1M283.0 241.0h.1M284.8 239.7h.1M279.8 249.2h.1M282.4 238.8h.1M285.5 236.8h.1M280.7 244.7h.1M286.7 243.4h.1M291.7 248.6h.1M289.0 239.7h.1M284.7 250.1h.1M280.7 249.3h.1M284.2 236.5h.1M285.6 238.6h.1M287.9 237.9h.1M287.7 233.8h.1M282.8 246.4h.1M283.3 243.1h.1M289.0 238.4h.1M281.1 241.1h.1M285.6 241.1h.1M280.1 246.2h.1M281.9 239.8h.1M283.3 245.0h.1M284.6 238.1h.1M291.0 240.3h.1M286.8 242.1h.1M283.3 241.4h.1M283.4 243.1h.1M277.9 239.5h.1M286.2 238.0h.1M279.9 251.5h.1M288.3 246.5h.1M285.6 240.9h.1M288.8 241.4h.1M281.3 244.2h.1M283.2 237.8h.1M290.7 236.6h.1M284.2 242.4h.1M287.4 236.1h.1M284.4 240.4h.1M288.0 248.1h.1M281.2 245.0h.1M286.4 242.1h.1M284.3 240.6h.1M281.5 237.9h.1M284.7 249.0h.1M289.9 242.2h.1M289.8 232.4h.1M285.7 236.4h.1M289.2 235.8h.1M283.5 236.4h.1M284.3 245.9h.1M279.4 248.7h.1M286.2 238.6h.1M285.4 242.3h.1M286.1 244.2h.1M288.4 249.0h.1M281.6 244.7h.1M288.0 238.5h.1M283.8 237.9h.1M277.1 242.4h.1M282.1 247.0h.1M282.9 241.8h.1M284.9 246.8h.1M286.9 237.9h.1M288.9 247.8h.1M285.6 250.1h.1M287.5 245.1h.1M284.8 245.1h.1M279.4 244.0h.1M281.3 242.9h.1M280.8 244.1h.1M279.4 252.0h.1M284.2 244.3h.1M282.6 239.9h.1M284.8 240.7h.1M284.7 237.9h.1M287.1 241.1h.1M281.8 242.8h.1M282.7 240.5h.1M284.6 237.6h.1M285.2 238.3h.1M280.7 242.3h.1M286.0 235.6h.1M283.2 242.4h.1M285.1 244.0h.1M284.3 244.8h.1M284.5 238.2h.1M286.7 240.9h.1M283.5 244.8h.1M285.1 248.0h.1M283.3 239.8h.1M288.2 236.5h.1M280.3 243.4h.1M284.3 237.5h.1M285.8 245.0h.1M287.4 241.5h.1M284.3 240.3h.1M288.4 233.7h.1M281.6 244.3h.1M282.6 241.0h.1M284.0 244.3h.1M285.0 236.8h.1M292.1 241.4h.1M291.6 236.2h.1M285.1 241.3h.1M286.3 252.4h.1M288.6 238.7h.1M283.6 238.1h.1M282.8 242.6h.1M282.9 240.2h.1M286.1 249.5h.1M281.2 236.3h.1M281.6 247.1h.1M280.7 249.7h.1M283.3 248.4h.1M282.8 239.9h.1M286.3 245.4h.1M280.1 239.1h.1M284.0 244.8h.1M280.2 248.7h.1M282.7 248.2h.1M285.4 242.7h.1M285.5 236.8h.1M285.6 246.0h.1M287.5 241.3h.1M282.5 239.5h.1M283.7 241.7h.1M288.5 239.1h.1M282.2 244.4h.1M283.5 252.2h.1M287.2 239.0h.1M283.0 237.7h.1M284.3 243.1h.1M285.3 239.4h.1M284.2 241.5h.1M285.9 242.9h.1M284.2 236.4h.1M288.5 243.1h.1M284.1 241.7h.1M287.9 241.8h.1M285.3 241.2h.1M287.6 238.3h.1M283.5 246.5h.1M286.6 245.7h.1M282.9 248.9h.1M284.2 248.5h.1M283.1 236.3h.1M287.0 241.7h.1M279.8 264.4h.1M286.5 257.8h.1M281.0 261.7h.1M286.3 270.2h.1M291.3 256.3h.1M282.1 271.5h.1M276.7 264.0h.1M282.5 261.6h.1M279.6 271.9h.1M278.5 265.1h.1M283.4 264.0h.1M287.4 261.6h.1M291.0 262.3h.1M291.7 261.7h.1M284.3 265.9h.1M280.4 261.7h.1M279.9 270.2h.1M272.7 270.7h.1M278.1 268.9h.1M279.6 268.7h.1M281.5 264.6h.1M276.0 263.0h.1M281.1 262.0h.1M282.6 266.7h.1M288.2 263.1h.1M286.1 257.4h.1M288.3 266.1h.1M282.6 261.4h.1M283.6 262.6h.1M282.5 269.2h.1M280.4 263.2h.1M283.9 271.2h.1M281.1 269.0h.1M285.8 266.8h.1M280.4 263.9h.1M278.9 264.8h.1M293.1 257.2h.1M284.1 268.6h.1M285.2 262.5h.1M285.9 263.6h.1M290.2 264.8h.1M281.8 265.9h.1M284.5 268.1h.1M285.9 265.4h.1M285.3 260.8h.1M286.0 267.4h.1M287.9 263.7h.1M281.4 265.1h.1M279.4 267.1h.1M280.3 262.2h.1M286.1 259.7h.1M285.1 265.4h.1M277.9 262.9h.1M287.4 262.8h.1M284.1 268.1h.1M284.8 260.2h.1M279.7 261.6h.1M284.5 268.7h.1M281.4 269.3h.1M276.9 269.1h.1M289.6 265.6h.1M286.1 265.1h.1M285.3 254.5h.1M293.3 258.5h.1M283.8 265.3h.1M282.1 263.6h.1M282.8 264.7h.1M286.8 264.3h.1M287.8 263.1h.1M281.9 270.9h.1M283.4 262.8h.1M288.2 256.8h.1M277.8 267.6h.1M286.0 265.3h.1M284.6 266.0h.1M279.4 265.9h.1M281.2 261.8h.1M283.1 263.5h.1M283.9 260.7h.1M280.1 265.4h.1M280.0 264.0h.1M279.8 263.0h.1M286.2 264.7h.1M282.7 264.6h.1M278.1 265.7h.1M280.7 263.8h.1M279.0 269.0h.1M282.3 264.2h.1M279.9 267.4h.1M279.7 266.2h.1M285.0 265.9h.1M284.8 261.3h.1M285.6 258.8h.1M284.7 268.2h.1M292.1 257.8h.1M281.1 265.3h.1M278.3 268.4h.1M280.2 264.7h.1M286.2 259.6h.1M290.8 261.4h.1M284.4 261.7h.1M277.7 262.4h.1M283.6 263.5h.1M283.3 262.4h.1M282.3 260.3h.1M275.8 272.8h.1M281.6 255.1h.1M287.2 260.2h.1M279.8 262.3h.1M280.6 269.5h.1M280.3 267.2h.1M286.0 269.6h.1M284.1 259.4h.1M279.3 264.1h.1M276.7 267.9h.1M287.2 261.6h.1M285.3 262.6h.1M281.6 266.4h.1M286.1 269.2h.1M290.4 260.2h.1M281.8 259.0h.1M286.8 270.3h.1M281.5 269.1h.1M286.9 260.3h.1M281.4 264.7h.1M286.0 262.5h.1M290.7 262.7h.1M287.5 270.4h.1M280.9 264.7h.1M280.7 263.9h.1M281.4 266.1h.1M283.6 258.9h.1M276.5 267.7h.1M282.7 266.8h.1M282.8 270.5h.1M280.7 266.1h.1M285.3 267.2h.1M284.2 264.1h.1M281.3 267.0h.1M283.9 263.0h.1M279.8 261.2h.1M283.1 269.1h.1M288.2 260.4h.1M286.9 270.8h.1M283.3 268.3h.1M283.2 269.7h.1M285.5 259.2h.1M292.8 266.9h.1M280.1 263.1h.1M283.4 263.3h.1M275.7 267.4h.1M281.3 261.0h.1M287.8 262.6h.1M284.8 268.4h.1M280.8 269.3h.1M277.5 268.5h.1M284.5 261.9h.1M283.8 266.7h.1M290.9 263.0h.1M284.3 263.0h.1M286.2 254.7h.1M286.2 262.2h.1M286.2 263.4h.1M282.3 265.6h.1M284.9 267.5h.1M281.1 264.6h.1M286.6 264.3h.1M285.1 264.2h.1M290.4 262.7h.1M283.5 263.9h.1M282.2 259.0h.1M279.9 265.1h.1M283.0 263.6h.1M293.4 258.9h.1M288.5 268.4h.1M282.5 264.3h.1M289.0 262.9h.1M288.6 264.6h.1M280.5 264.7h.1M280.6 267.4h.1M284.9 259.7h.1M278.7 263.8h.1M291.8 260.5h.1M281.7 261.8h.1M278.1 266.8h.1M280.9 262.2h.1M284.3 268.2h.1M283.3 265.1h.1M274.8 270.9h.1M281.3 264.0h.1M277.8 269.1h.1M278.3 267.0h.1M277.0 269.7h.1M284.9 260.4h.1M281.6 260.8h.1M286.1 264.3h.1M283.2 268.0h.1M279.9 267.8h.1M289.2 259.7h.1M280.9 270.9h.1M284.5 262.7h.1M273.0 266.7h.1M280.0 272.8h.1M282.6 262.3h.1M289.8 264.5h.1M280.8 268.6h.1M277.6 270.8h.1M287.2 256.4h.1M282.1 263.5h.1M282.8 265.4h.1M285.6 266.0h.1M286.8 265.6h.1M288.7 264.1h.1M281.3 267.9h.1M280.2 264.4h.1M290.7 259.5h.1M279.5 260.4h.1M283.5 267.3h.1M281.3 264.5h.1M287.9 259.8h.1M281.6 265.8h.1M284.0 267.9h.1M285.0 263.1h.1M281.3 265.6h.1M288.7 259.1h.1M282.7 259.7h.1M285.4 265.4h.1M288.3 261.7h.1M285.7 263.9h.1M290.5 266.0h.1M282.3 262.6h.1M285.0 262.9h.1M286.7 264.6h.1M282.8 263.6h.1M282.0 261.4h.1M282.5 262.3h.1M284.9 263.8h.1M280.1 263.1h.1M282.0 263.4h.1M283.7 266.9h.1M284.3 259.3h.1M288.9 264.9h.1M287.7 262.1h.1M285.8 268.9h.1M279.2 262.8h.1M283.9 265.3h.1M277.1 265.6h.1M290.5 259.1h.1M284.9 261.3h.1M277.2 269.3h.1M286.8 259.4h.1M276.2 270.1h.1M282.0 265.9h.1M278.7 267.5h.1M282.6 268.5h.1M285.1 266.3h.1M279.1 260.7h.1M276.8 272.1h.1M287.8 264.1h.1M279.6 261.5h.1M281.9 267.3h.1M287.5 260.0h.1M279.6 265.1h.1M288.3 263.7h.1M277.1 264.7h.1M275.9 268.3h.1M296.0 263.2h.1M277.3 267.4h.1M284.4 265.4h.1M278.5 263.1h.1M280.3 264.8h.1M276.7 270.8h.1M274.6 265.8h.1M290.3 262.3h.1M288.6 260.8h.1M297.5 259.0h.1M293.5 262.7h.1M300.4 258.0h.1M291.4 258.9h.1M306.1 265.9h.1M302.9 257.8h.1M299.8 261.9h.1M300.1 264.1h.1M296.4 249.0h.1M289.0 255.3h.1M293.4 262.4h.1M303.8 259.4h.1M301.5 259.7h.1M300.0 257.3h.1M297.5 264.7h.1M298.1 259.2h.1M304.3 263.8h.1M297.6 260.5h.1M295.0 260.0h.1M300.6 259.4h.1M299.9 261.0h.1M288.6 255.7h.1M299.6 257.2h.1M295.2 258.3h.1M306.0 258.4h.1M296.5 257.2h.1M294.2 261.6h.1M295.1 263.5h.1M303.1 262.0h.1M303.6 259.0h.1M291.8 259.1h.1M301.9 252.5h.1M294.1 264.3h.1M301.1 265.5h.1M302.1 259.7h.1M301.1 263.2h.1M299.1 258.5h.1M300.6 258.0h.1M309.4 256.0h.1M292.9 253.6h.1M303.7 257.6h.1M299.9 258.4h.1M300.4 252.9h.1M299.6 256.8h.1M303.8 262.2h.1M293.9 255.1h.1M301.7 264.8h.1M302.5 258.7h.1M304.0 248.8h.1M297.0 255.0h.1M294.9 261.9h.1M300.4 260.7h.1M298.7 262.2h.1M302.6 256.8h.1M303.2 255.2h.1M306.7 253.5h.1M298.0 254.5h.1M299.4 265.3h.1M296.1 267.4h.1M305.2 261.1h.1M296.8 263.5h.1M287.1 256.0h.1M303.3 259.2h.1M309.8 256.4h.1M293.6 258.4h.1M301.7 267.1h.1M291.8 260.1h.1M304.6 256.4h.1M297.3 253.9h.1M302.5 263.1h.1M301.8 260.5h.1M303.5 258.9h.1M302.3 263.1h.1M304.8 261.7h.1M299.6 262.6h.1M292.7 251.5h.1M306.1 260.0h.1M294.8 256.8h.1M298.6 259.7h.1M296.0 263.9h.1M292.0 272.1h.1M294.6 266.9h.1M302.1 251.8h.1M294.0 259.7h.1M300.4 257.5h.1M299.3 260.1h.1M294.4 259.7h.1M309.0 256.5h.1M294.9 262.4h.1M305.0 264.1h.1M296.6 259.1h.1M300.1 258.5h.1M301.0 264.3h.1M301.6 259.4h.1M298.4 267.5h.1M294.0 268.5h.1M302.4 259.8h.1M296.1 267.7h.1M304.5 263.5h.1M308.2 251.3h.1M299.7 258.0h.1M296.1 259.7h.1M301.6 261.8h.1M298.7 253.4h.1M301.7 262.2h.1M308.4 263.6h.1M299.3 254.2h.1M311.0 256.3h.1M300.1 262.8h.1M301.4 265.4h.1M294.8 256.3h.1M300.0 253.8h.1M296.6 265.7h.1M300.5 258.9h.1M296.8 259.6h.1M299.1 254.5h.1M302.7 253.6h.1M304.8 257.9h.1M289.4 252.4h.1M300.5 255.5h.1M307.1 265.7h.1M308.4 263.5h.1M305.1 256.6h.1M304.9 257.4h.1M299.0 253.2h.1M299.5 261.2h.1M299.0 254.4h.1M303.2 263.6h.1M298.9 263.0h.1M303.5 254.9h.1M299.1 250.9h.1M294.8 261.4h.1M295.4 261.2h.1M300.8 250.0h.1M297.1 266.3h.1M299.3 260.0h.1M296.2 252.1h.1M292.3 272.5h.1M298.5 255.4h.1M299.7 250.6h.1M305.4 267.2h.1M296.0 260.9h.1M295.3 263.3h.1M295.6 258.7h.1M305.0 261.8h.1M297.8 252.5h.1M292.3 264.9h.1M301.5 259.7h.1M304.8 260.1h.1M296.1 258.9h.1M298.8 259.3h.1M310.2 262.1h.1M300.5 258.3h.1M296.3 254.9h.1M291.0 257.3h.1M292.6 250.9h.1M295.1 250.1h.1M305.3 265.1h.1M295.0 268.8h.1M302.2 247.8h.1M299.3 254.8h.1M291.6 258.2h.1M304.3 261.4h.1M292.8 256.4h.1M295.9 264.7h.1M298.8 254.9h.1M295.2 250.4h.1M295.5 263.5h.1M290.8 260.3h.1M298.7 263.1h.1M294.2 263.6h.1M306.1 269.9h.1M292.1 259.3h.1M298.3 260.0h.1M294.9 263.3h.1M309.6 266.3h.1M295.0 256.7h.1M302.5 260.0h.1M295.9 265.1h.1M301.5 264.1h.1M298.5 265.3h.1M297.2 254.3h.1M299.2 253.0h.1M304.8 262.8h.1M291.8 260.2h.1M303.0 257.8h.1M301.1 256.7h.1M298.9 259.0h.1M301.4 254.9h.1M294.2 260.9h.1M297.0 261.8h.1M297.0 253.4h.1M302.5 260.6h.1M302.5 257.8h.1M297.6 265.2h.1M291.8 267.4h.1M301.5 259.1h.1M299.6 262.2h.1M295.8 260.7h.1M295.0 250.9h.1M300.1 259.9h.1M302.1 262.0h.1M302.3 263.0h.1M294.6 265.0h.1M311.1 256.8h.1M293.7 262.6h.1M303.3 264.1h.1M306.0 253.0h.1M300.9 261.5h.1M304.7 255.3h.1M299.3 257.7h.1M298.5 258.7h.1M298.6 251.2h.1M299.1 259.7h.1M297.5 243.0h.1M296.1 256.4h.1M295.4 266.8h.1M303.3 258.5h.1M294.9 261.6h.1M296.6 266.3h.1M304.1 258.8h.1M301.9 255.7h.1M292.2 263.3h.1M306.5 258.0h.1M296.9 251.1h.1M308.7 253.9h.1M294.9 258.5h.1M304.6 259.6h.1M299.1 259.5h.1M303.0 259.2h.1M299.9 259.1h.1M294.3 265.6h.1M296.1 253.3h.1M297.3 259.5h.1M302.8 252.6h.1M293.6 260.2h.1M300.9 254.3h.1M294.2 260.2h.1M298.6 251.9h.1M295.3 266.3h.1M294.5 264.2h.1M292.4 266.3h.1M306.3 256.5h.1M296.2 262.3h.1M293.7 261.9h.1M304.6 260.6h.1M300.6 258.7h.1M303.6 255.6h.1M306.2 259.3h.1M297.8 251.9h.1M297.3 260.5h.1M304.7 251.9h.1M298.6 256.2h.1M293.9 259.4h.1M295.8 263.4h.1M287.3 262.8h.1M290.8 250.4h.1M301.5 257.8h.1M299.8 254.9h.1M294.6 256.0h.1M299.0 255.5h.1M297.3 255.4h.1M300.2 254.1h.1M290.0 247.3h.1M299.1 259.8h.1M303.5 256.0h.1M294.2 252.5h.1M302.6 256.5h.1M303.6 259.0h.1M298.0 250.8h.1M296.2 263.0h.1M296.5 262.5h.1M291.9 264.1h.1M311.5 264.6h.1M300.6 253.7h.1M296.9 256.4h.1M300.0 250.1h.1M295.4 263.1h.1M299.8 262.8h.1M303.0 254.1h.1M293.3 261.5h.1M299.4 259.8h.1M295.6 264.1h.1M301.4 264.7h.1M297.6 262.6h.1M298.9 255.1h.1M298.8 251.8h.1M298.4 260.2h.1M302.3 254.5h.1M293.3 256.0h.1M290.1 256.4h.1M310.8 260.1h.1M295.8 256.3h.1M307.0 254.0h.1M298.7 259.0h.1M296.0 256.1h.1M291.8 255.5h.1M304.9 265.9h.1M298.0 262.6h.1M301.2 259.9h.1M298.6 265.0h.1M301.7 258.4h.1M298.2 263.7h.1M296.6 256.1h.1M298.0 257.1h.1M304.8 261.0h.1M298.8 257.0h.1M305.4 261.4h.1M308.4 263.6h.1M298.3 256.9h.1M297.9 260.2h.1M302.7 261.6h.1M306.1 252.4h.1M299.3 252.8h.1M294.7 256.6h.1M296.3 254.9h.1M292.5 264.7h.1M297.8 263.9h.1M294.3 248.7h.1M296.6 263.5h.1M296.7 261.2h.1M294.4 265.8h.1M301.1 264.2h.1M298.0 265.3h.1M299.5 257.1h.1M296.4 259.7h.1M295.2 253.9h.1M299.8 262.7h.1M297.9 263.3h.1M306.2 253.6h.1M300.3 255.0h.1M296.4 260.2h.1M288.7 262.2h.1M302.9 261.9h.1M302.1 267.8h.1M297.6 264.4h.1M305.6 261.7h.1M291.3 258.7h.1M297.9 251.9h.1M298.9 262.9h.1M298.1 258.6h.1M305.7 256.6h.1M295.0 259.6h.1M304.1 262.1h.1M299.5 257.1h.1M304.6 263.5h.1M291.5 260.9h.1M288.6 266.3h.1M301.9 256.5h.1M293.5 258.0h.1M291.5 262.0h.1M296.9 251.2h.1M299.1 264.9h.1M293.6 257.8h.1M307.2 260.2h.1M296.7 260.3h.1M302.6 254.8h.1M298.8 251.9h.1M292.2 252.3h.1M302.9 260.8h.1M302.4 265.0h.1M299.4 260.5h.1M301.0 261.6h.1M294.5 258.1h.1M298.5 259.6h.1M295.9 258.8h.1M300.5 260.3h.1M301.8 263.2h.1M301.7 263.8h.1M302.9 265.8h.1M302.0 256.5h.1M309.5 264.6h.1M304.7 262.8h.1M299.4 254.1h.1M301.1 257.8h.1M297.4 249.5h.1M306.0 254.0h.1M294.3 261.5h.1M301.7 255.7h.1M300.0 250.3h.1M300.5 251.6h.1M302.6 247.2h.1M294.5 259.8h.1M298.7 244.0h.1M302.6 251.9h.1M297.9 260.8h.1M292.0 255.4h.1M299.9 250.5h.1M301.1 247.8h.1M301.1 242.5h.1M298.6 258.3h.1M291.2 255.2h.1M292.4 244.7h.1M303.0 246.9h.1M298.0 241.5h.1M299.6 248.1h.1M297.8 241.2h.1M300.5 251.1h.1M303.9 251.6h.1M305.2 255.0h.1M290.4 257.3h.1M299.6 243.7h.1M301.5 253.8h.1M294.7 242.8h.1M302.3 246.2h.1M305.0 250.1h.1M298.1 242.3h.1M302.0 240.4h.1M295.6 242.4h.1M305.8 257.5h.1M299.2 247.1h.1M302.4 255.2h.1M297.2 260.0h.1M299.3 254.7h.1M291.9 248.7h.1M297.6 259.0h.1M299.3 242.6h.1M306.7 245.6h.1M300.0 242.7h.1M302.3 250.0h.1M299.0 247.0h.1M298.0 245.4h.1M295.2 255.0h.1M303.0 242.0h.1M296.0 251.0h.1M307.7 248.0h.1M298.9 247.7h.1M300.8 248.1h.1M303.7 253.9h.1M301.9 256.9h.1M299.2 246.2h.1M310.2 239.3h.1M294.7 237.2h.1M301.2 243.6h.1M303.6 238.5h.1M299.5 247.0h.1M296.3 254.6h.1M298.6 251.3h.1M298.2 249.7h.1M298.5 249.4h.1M299.7 245.6h.1M301.5 248.1h.1M296.7 243.7h.1M301.5 255.7h.1M295.5 246.9h.1M301.5 254.2h.1M302.4 243.1h.1M300.1 253.5h.1M300.8 247.9h.1M296.0 249.8h.1M299.8 249.2h.1M305.1 255.0h.1M297.3 250.2h.1M298.9 249.5h.1M305.6 253.6h.1M300.1 245.7h.1M299.4 250.8h.1M298.3 254.5h.1M300.1 243.1h.1M307.0 234.4h.1M299.1 248.4h.1M303.4 254.6h.1M305.0 256.8h.1M301.1 249.6h.1M303.5 248.9h.1M295.7 246.7h.1M302.3 252.1h.1M296.2 255.0h.1M301.1 241.5h.1M301.6 254.0h.1M301.8 247.4h.1M297.3 254.6h.1M300.8 249.0h.1M298.6 243.8h.1M293.6 247.3h.1M303.8 252.8h.1M297.7 256.7h.1M299.2 243.9h.1M303.3 255.9h.1M298.7 242.9h.1M299.8 236.8h.1M300.2 256.6h.1M300.9 245.3h.1M302.4 246.5h.1M304.3 247.2h.1M307.0 247.2h.1M300.7 244.3h.1M295.6 250.7h.1M301.2 244.1h.1M301.9 246.9h.1M298.1 248.6h.1M301.3 252.6h.1M304.2 250.9h.1M297.5 245.6h.1M301.3 243.0h.1M299.4 247.1h.1M299.7 249.9h.1M303.6 257.2h.1M303.0 254.1h.1M296.4 254.2h.1M304.4 242.2h.1M308.6 246.2h.1M291.9 257.9h.1M300.2 245.0h.1M298.0 254.4h.1M300.9 247.1h.1M303.9 244.3h.1M297.1 246.2h.1M297.4 252.5h.1M299.2 243.7h.1M298.4 239.0h.1M300.6 249.5h.1M302.1 247.8h.1M301.4 244.3h.1M300.1 249.8h.1M295.9 251.9h.1M300.5 249.3h.1M298.4 259.0h.1M300.0 245.2h.1M297.1 252.0h.1M299.3 245.0h.1M297.5 253.7h.1M300.3 254.3h.1M299.9 243.1h.1M303.0 250.6h.1M297.8 247.4h.1M296.7 253.2h.1M298.6 251.4h.1M300.9 247.7h.1M301.3 247.8h.1M296.0 246.9h.1M296.0 252.8h.1M302.2 246.1h.1M302.1 250.2h.1M303.3 244.3h.1M300.1 244.0h.1M297.7 255.8h.1M293.2 244.4h.1M301.7 252.9h.1M297.3 238.8h.1M294.1 250.8h.1M303.8 253.5h.1M297.5 255.8h.1M299.4 252.1h.1M299.3 257.0h.1M298.2 238.3h.1M298.9 249.9h.1M300.9 245.4h.1M299.2 243.3h.1M299.2 249.4h.1M300.8 257.2h.1M293.2 251.6h.1M301.5 243.2h.1M300.2 249.0h.1M296.6 252.6h.1M306.5 252.4h.1M302.6 254.3h.1M299.6 253.9h.1M297.3 249.9h.1M293.8 264.7h.1M289.8 258.3h.1M292.9 259.2h.1M291.5 262.7h.1M287.9 263.0h.1M292.5 258.4h.1M286.0 257.0h.1M290.8 263.2h.1M283.1 262.3h.1M291.8 255.0h.1M294.4 261.1h.1M292.7 255.6h.1M286.6 263.1h.1M296.6 261.0h.1M290.2 257.7h.1M284.2 263.4h.1M290.6 264.4h.1M288.1 263.7h.1M288.2 261.8h.1M296.5 256.7h.1M294.6 259.5h.1M287.3 260.3h.1M293.6 256.7h.1M289.9 257.2h.1M287.9 258.7h.1M294.3 257.5h.1M295.9 258.0h.1M288.3 263.8h.1M296.6 256.9h.1M293.3 254.9h.1M289.4 258.0h.1M293.8 254.5h.1M289.0 256.8h.1M291.4 254.6h.1M285.7 270.7h.1M291.8 253.5h.1M294.3 254.3h.1M283.5 266.1h.1M296.0 256.2h.1M286.7 261.4h.1M299.0 261.9h.1M293.6 254.8h.1M283.9 261.0h.1M295.0 260.0h.1M291.0 265.0h.1M287.7 263.8h.1M294.3 257.0h.1M291.5 259.9h.1M293.3 255.6h.1M290.1 259.9h.1M291.1 259.6h.1M292.0 258.7h.1M289.0 263.6h.1M288.5 258.2h.1M287.5 255.0h.1M292.8 259.3h.1M290.5 261.3h.1M290.3 262.2h.1M298.1 260.9h.1M290.0 266.0h.1M293.8 252.9h.1M296.3 260.3h.1M294.4 254.9h.1M287.7 256.9h.1M293.2 255.1h.1M288.2 263.3h.1M288.5 260.0h.1M287.5 252.8h.1M290.7 259.0h.1M285.4 263.3h.1M294.2 263.0h.1M289.0 255.0h.1M290.6 260.1h.1M290.3 257.2h.1M287.1 256.6h.1M290.7 257.6h.1M297.6 258.4h.1M292.8 257.7h.1M290.3 255.7h.1M289.1 253.6h.1M282.8 264.8h.1M286.8 261.2h.1M290.5 257.3h.1M293.9 257.3h.1M292.7 258.0h.1M294.8 263.3h.1M291.3 263.8h.1M293.0 265.6h.1M290.5 253.4h.1M291.8 260.4h.1M289.6 258.7h.1M289.9 254.6h.1M297.7 256.5h.1M286.8 253.3h.1M287.7 259.3h.1M296.8 261.8h.1M288.1 254.6h.1M286.6 259.2h.1M294.4 257.6h.1M297.3 267.1h.1M291.6 251.0h.1M295.3 259.1h.1M293.6 263.4h.1M287.0 259.7h.1M291.7 256.5h.1M293.7 259.0h.1M289.4 266.9h.1M291.6 265.9h.1M290.4 263.6h.1M288.0 260.1h.1M295.2 251.0h.1M293.1 258.4h.1M295.3 260.2h.1M290.7 254.5h.1M302.5 256.6h.1M289.7 256.7h.1M289.8 260.4h.1M285.8 263.6h.1M290.0 261.8h.1M282.7 257.4h.1M289.8 258.0h.1M288.4 260.7h.1M292.6 255.6h.1M283.3 262.3h.1M289.7 263.7h.1M294.4 259.1h.1M285.4 258.1h.1M288.1 264.4h.1M284.4 263.1h.1M285.0 257.3h.1M285.5 256.8h.1M289.3 260.9h.1M288.7 262.2h.1M297.8 260.1h.1M286.5 258.8h.1M290.6 258.1h.1M295.5 264.0h.1M298.8 261.5h.1M280.6 259.0h.1M293.6 256.3h.1M288.6 263.0h.1M291.5 255.1h.1M288.7 247.4h.1M291.0 254.7h.1M290.8 254.8h.1M287.4 257.5h.1M301.8 254.8h.1M286.3 257.4h.1M295.1 262.6h.1M293.7 258.2h.1M291.5 256.5h.1M290.3 256.3h.1M285.3 255.6h.1M298.5 261.0h.1M288.0 259.1h.1M289.2 264.3h.1M290.9 257.0h.1M293.6 260.7h.1M288.3 256.5h.1M291.5 253.1h.1M287.4 263.4h.1M294.3 263.9h.1M289.2 257.2h.1M289.9 257.6h.1M296.0 258.6h.1M296.2 256.7h.1M292.4 265.8h.1M288.1 256.9h.1M288.6 253.2h.1M289.8 257.0h.1M299.6 257.6h.1M282.6 263.2h.1M294.7 259.3h.1M292.1 262.3h.1M288.8 259.6h.1M291.5 266.0h.1M296.5 260.1h.1M285.7 262.9h.1M290.7 264.1h.1M291.2 260.2h.1M293.5 256.6h.1M288.4 268.5h.1M287.6 263.1h.1M293.6 262.7h.1M296.3 254.2h.1M294.7 251.4h.1M291.2 260.8h.1M295.0 263.7h.1M287.3 258.4h.1M290.3 256.8h.1M287.8 256.9h.1M295.4 264.8h.1M293.9 266.1h.1M291.3 255.2h.1M288.4 260.3h.1M295.0 264.2h.1M287.5 263.2h.1M288.9 261.8h.1M294.5 265.3h.1M288.9 260.4h.1M292.6 257.8h.1M291.3 261.8h.1M284.5 257.0h.1M299.9 261.3h.1M288.8 252.3h.1M287.2 261.5h.1M293.6 261.2h.1M293.3 257.1h.1M297.2 255.1h.1M292.9 258.4h.1M284.3 263.0h.1M289.9 262.3h.1M295.9 260.1h.1M288.4 258.6h.1M290.7 265.2h.1M294.3 265.7h.1M293.9 256.5h.1M294.6 263.3h.1M290.5 261.3h.1M289.7 254.5h.1M274.2 271.5h.1M272.0 268.3h.1M272.8 272.6h.1M275.1 271.6h.1M272.1 270.8h.1M271.3 270.6h.1M275.2 270.1h.1M273.1 271.4h.1M270.9 271.4h.1M269.9 270.3h.1M270.4 270.6h.1M278.2 270.5h.1M276.4 268.5h.1M274.7 268.6h.1M272.9 271.4h.1M270.6 272.4h.1M274.2 267.5h.1M268.4 272.7h.1M273.8 270.8h.1M271.8 272.3h.1M273.8 269.5h.1M277.7 269.1h.1M276.6 271.9h.1M272.8 270.8h.1M270.0 272.0h.1M275.3 270.2h.1M270.7 270.8h.1M269.1 270.8h.1M274.4 270.7h.1M271.8 271.2h.1M272.5 272.1h.1M275.1 269.2h.1M272.3 269.6h.1M274.4 271.5h.1M276.0 271.6h.1M272.8 269.8h.1M276.8 270.5h.1M273.1 272.5h.1M289.8 250.7h.1M302.4 254.7h.1M292.0 248.8h.1M291.2 258.3h.1M293.0 245.8h.1M292.9 250.2h.1M292.0 249.7h.1M275.0 239.8h.1M287.3 235.7h.1M279.6 265.0h.1M294.6 247.8h.1M292.1 235.5h.1M291.6 257.8h.1M291.2 241.9h.1M296.5 247.3h.1M286.0 252.4h.1M287.8 265.1h.1M288.9 265.9h.1M293.0 242.4h.1M289.9 251.4h.1M299.7 259.9h.1M307.3 246.4h.1M286.9 267.2h.1M283.8 253.5h.1M300.9 244.0h.1M287.5 245.8h.1M293.5 253.8h.1M289.6 255.6h.1M284.5 248.4h.1M293.1 265.0h.1M289.6 251.4h.1M298.9 251.5h.1M298.8 252.7h.1M297.8 252.3h.1M283.6 245.1h.1M292.8 264.1h.1M302.6 248.8h.1M307.0 243.3h.1M284.1 257.5h.1M279.5 257.3h.1M292.5 255.4h.1M281.6 253.7h.1M296.3 250.6h.1M296.9 251.2h.1M292.2 248.8h.1M280.6 249.9h.1M293.3 245.7h.1M276.5 240.2h.1M298.9 249.4h.1M284.6 259.6h.1M288.7 240.5h.1M286.9 244.9h.1M288.6 244.6h.1M290.4 254.2h.1M286.0 249.6h.1M288.8 256.8h.1M285.0 256.2h.1M298.5 249.6h.1M283.3 248.8h.1M277.7 247.2h.1M286.4 252.9h.1M289.6 254.4h.1M290.3 253.4h.1M289.6 253.1h.1M288.7 255.9h.1M294.1 254.5h.1M287.7 255.2h.1M288.0 256.8h.1M287.4 250.6h.1M287.0 252.1h.1M286.5 248.5h.1M289.7 252.9h.1M289.8 251.2h.1M294.9 260.5h.1M291.6 252.0h.1M288.1 256.0h.1M283.1 241.5h.1M289.7 253.6h.1M289.3 252.3h.1M292.3 257.3h.1M288.9 250.5h.1M294.0 260.0h.1M286.1 251.2h.1M289.9 252.2h.1M293.0 256.6h.1M292.1 252.2h.1M288.9 251.7h.1M291.2 256.0h.1M284.1 249.8h.1M285.7 249.0h.1M290.8 257.3h.1M286.5 256.9h.1M286.0 252.8h.1M285.4 249.1h.1M286.5 254.1h.1M278.3 247.9h.1M291.1 256.5h.1M291.5 248.6h.1M286.8 252.0h.1M292.2 254.9h.1M288.5 255.0h.1M291.9 256.3h.1M287.7 251.8h.1M284.0 248.2h.1M291.3 254.3h.1M291.7 251.6h.1M285.8 249.2h.1M285.1 250.8h.1M289.8 251.9h.1M284.6 254.5h.1M285.8 248.5h.1M290.3 254.0h.1M283.7 248.3h.1M289.1 253.4h.1M292.5 258.0h.1M286.7 248.1h.1M288.7 248.7h.1M290.5 251.5h.1M288.6 246.8h.1M291.4 252.7h.1M289.2 255.7h.1M293.9 250.5h.1M287.2 252.4h.1M292.0 251.3h.1M289.9 247.8h.1M287.2 244.6h.1M287.9 251.1h.1M291.3 257.1h.1M288.8 254.1h.1M294.4 252.7h.1M286.4 249.8h.1M286.4 255.9h.1M293.4 255.0h.1M295.0 259.7h.1M284.4 242.5h.1M289.5 256.1h.1M290.4 255.6h.1M291.6 246.0h.1M292.7 248.9h.1M286.6 254.2h.1M289.1 248.7h.1M289.6 246.8h.1M291.0 255.7h.1M287.2 250.2h.1M290.6 254.4h.1M295.6 254.8h.1M292.3 249.6h.1M285.9 253.9h.1M285.7 248.9h.1M287.9 252.4h.1M291.4 255.3h.1M290.3 257.4h.1M291.0 254.7h.1M288.0 245.9h.1M290.0 247.4h.1M292.5 255.5h.1M286.6 245.1h.1M292.2 256.0h.1M288.6 251.9h.1M293.4 258.0h.1M285.6 249.2h.1M285.6 251.4h.1M289.5 253.6h.1M284.4 245.8h.1M287.9 256.5h.1M286.8 246.1h.1M284.4 241.9h.1M294.7 251.3h.1M287.3 256.0h.1M287.8 250.4h.1M287.8 251.6h.1M286.5 248.8h.1M289.4 254.8h.1M286.5 246.4h.1M292.2 258.4h.1M294.5 257.2h.1M283.9 249.9h.1M280.1 247.6h.1M285.6 248.6h.1M285.2 250.8h.1M290.8 255.3h.1M285.5 244.8h.1M290.8 248.9h.1M287.1 253.2h.1M284.7 247.4h.1M290.3 247.9h.1M289.3 254.7h.1M293.3 251.7h.1M288.5 254.8h.1M292.0 252.0h.1M288.9 249.4h.1M284.5 245.9h.1M284.8 248.7h.1M292.9 257.5h.1M281.5 250.0h.1M287.1 252.8h.1M289.1 247.7h.1M290.7 257.5h.1M291.0 253.5h.1M288.6 248.2h.1" stroke="#333" stroke-width="0.6" stroke-linecap="square" fill="none"/>
<ellipse cx="299.2" cy="259.6" rx="6.8" ry="7.2" transform="rotate(0 299.2 259.6)" fill="#000" opacity="0.9" filter="url(#b3)"/>
<ellipse cx="299.4" cy="260.4" rx="4.2" ry="4.6" transform="rotate(0 299.4 260.4)" fill="#000" opacity="0.6" filter="url(#b)"/>
<ellipse cx="299.5" cy="250" rx="4.5" ry="6" transform="rotate(0 299.5 250)" fill="#000" opacity="0.4" filter="url(#b3)"/>
<ellipse cx="284" cy="264" rx="9.6" ry="4" transform="rotate(-42 284 264)" fill="#000" opacity="0.9" filter="url(#b)"/>
<ellipse cx="291.3" cy="260.5" rx="5" ry="3.6" transform="rotate(0 291.3 260.5)" fill="#000" opacity="0.75" filter="url(#b)"/>
<ellipse cx="284.5" cy="242" rx="4.2" ry="6.8" transform="rotate(22 284.5 242)" fill="#000" opacity="0.36" filter="url(#b3)"/>
<rect x="53.5" y="236.3" width="18.9" height="24.9" fill="none" stroke="#000" stroke-width="1.15"/>
<rect x="133.5" y="236.3" width="18.6" height="24.9" fill="none" stroke="#000" stroke-width="1.15"/>
<rect x="212.8" y="235.6" width="19.2" height="24.9" fill="none" stroke="#000" stroke-width="1.15"/>
<rect x="294.7" y="235.6" width="18.5" height="24.9" fill="none" stroke="#000" stroke-width="1.15"/>
<text x="63.8" y="235.6" font-size="9.7" textLength="28.9" lengthAdjust="spacingAndGlyphs" style="stroke-width:.26px">2.9±1.3</text>
<text x="141.7" y="235.1" font-size="9.7" textLength="33.8" lengthAdjust="spacingAndGlyphs" style="stroke-width:.26px">19.2±2.7</text>
<text x="225.4" y="235.1" font-size="9.7" textLength="29.0" lengthAdjust="spacingAndGlyphs" style="stroke-width:.26px">5.1±2.6</text>
<text x="301.7" y="235.1" font-size="9.7" textLength="33.2" lengthAdjust="spacingAndGlyphs" style="stroke-width:.26px">16.1±1.8</text>
<path d="M14.4 252.4V284.3H48.199999999999996" stroke="#000" stroke-width="1.25" fill="none"/>
<path d="M14.4 247.8l-2.9 5.6h5.8zM52.8 284.3l-5.6 -2.9v5.8z" fill="#000"/>
<text transform="translate(11 269.5) rotate(-90)" font-size="8.4" text-anchor="middle" font-weight="bold">SCA-1</text>
<text x="24" y="293.6" font-size="8.1" text-anchor="start" font-weight="bold">CD11</text>
<rect x="28.2" y="301.3" width="66.7" height="46.5" fill="none" stroke="#c4c4c4" stroke-width="0.6"/>
<path d="M26.2 301.3h1.2M26.2 312.9h1.2M26.2 324.6h1.2M26.2 336.2h1.2M26.2 347.8h1.2M31.2 348.8v1.2M47.1 348.8v1.2M63.0 348.8v1.2M79.0 348.8v1.2M94.9 348.8v1.2" stroke="#aaa" stroke-width="0.7" fill="none"/>
<rect x="108.2" y="301.3" width="68.60000000000001" height="46.5" fill="none" stroke="#c4c4c4" stroke-width="0.6"/>
<path d="M106.2 301.3h1.2M106.2 312.9h1.2M106.2 324.6h1.2M106.2 336.2h1.2M106.2 347.8h1.2M111.2 348.8v1.2M127.6 348.8v1.2M144.0 348.8v1.2M160.4 348.8v1.2M176.8 348.8v1.2" stroke="#aaa" stroke-width="0.7" fill="none"/>
<rect x="188.2" y="301.3" width="67.80000000000001" height="46.5" fill="none" stroke="#c4c4c4" stroke-width="0.6"/>
<path d="M186.2 301.3h1.2M186.2 312.9h1.2M186.2 324.6h1.2M186.2 336.2h1.2M186.2 347.8h1.2M191.2 348.8v1.2M207.4 348.8v1.2M223.6 348.8v1.2M239.8 348.8v1.2M256.0 348.8v1.2" stroke="#aaa" stroke-width="0.7" fill="none"/>
<rect x="269.3" y="301.3" width="67.5" height="46.5" fill="none" stroke="#c4c4c4" stroke-width="0.6"/>
<path d="M267.3 301.3h1.2M267.3 312.9h1.2M267.3 324.6h1.2M267.3 336.2h1.2M267.3 347.8h1.2M272.3 348.8v1.2M288.4 348.8v1.2M304.6 348.8v1.2M320.7 348.8v1.2M336.8 348.8v1.2" stroke="#aaa" stroke-width="0.7" fill="none"/>
<path d="M28.5 347.6L28.5 342.6L32.3 339.6L40.0 337.0L47.0 334.8L51.9 332.8L50.6 335.5L48.4 338.4L44.5 347.6z" fill="#000" filter="url(#b2)" opacity="1"/>
<path d="M40.6 338.3h.1M35.5 343.3h.1M41.1 335.7h.1M35.8 345.0h.1M42.0 342.7h.1M36.9 339.2h.1M45.9 340.9h.1M35.9 345.2h.1M49.8 336.0h.1M34.0 344.4h.1M41.3 342.6h.1M31.2 345.5h.1M46.7 340.9h.1M45.7 343.3h.1M36.2 347.2h.1M40.0 337.2h.1M38.4 342.7h.1M43.9 344.5h.1M40.6 338.8h.1M53.8 334.2h.1M35.9 346.2h.1M36.3 339.5h.1M33.2 344.1h.1M36.8 341.6h.1M34.9 343.7h.1M45.3 342.8h.1M36.1 338.2h.1M30.4 344.9h.1M40.4 341.3h.1M30.1 342.6h.1M36.0 345.2h.1M38.1 344.1h.1M40.8 333.4h.1M40.1 345.7h.1M36.8 342.8h.1M37.6 337.4h.1M54.0 334.8h.1M43.6 337.9h.1M50.6 341.1h.1M49.0 341.0h.1M46.4 343.7h.1M42.8 340.4h.1M44.1 336.0h.1M40.1 338.3h.1M37.0 338.6h.1M34.8 343.8h.1M41.9 343.4h.1M40.2 343.3h.1M43.5 336.9h.1M37.7 340.0h.1M53.5 333.0h.1M42.1 337.3h.1M42.9 335.1h.1M46.4 339.1h.1M35.8 338.2h.1M50.1 334.8h.1M46.2 329.4h.1M51.7 336.4h.1M47.3 340.4h.1M37.8 342.4h.1M30.8 339.7h.1M41.8 343.1h.1M39.4 336.6h.1M45.6 339.1h.1M44.5 338.1h.1M39.7 345.1h.1M47.4 333.5h.1M34.1 347.1h.1M42.4 340.3h.1M35.0 346.9h.1M41.5 341.2h.1M41.8 338.3h.1M42.8 340.4h.1M45.2 340.4h.1M30.7 342.1h.1M39.8 345.5h.1M37.3 346.4h.1M48.2 341.0h.1M54.7 335.1h.1M43.7 344.1h.1M44.0 343.2h.1M41.0 346.0h.1M39.8 333.9h.1M46.8 337.6h.1M33.9 342.4h.1M39.7 345.5h.1M42.1 339.9h.1M38.7 338.2h.1M35.2 341.2h.1M37.0 337.9h.1M38.7 345.3h.1M43.0 339.9h.1M42.0 339.4h.1M33.4 347.0h.1M55.3 336.8h.1M47.7 347.2h.1M32.8 345.9h.1M37.4 341.0h.1M29.1 345.1h.1M40.5 334.8h.1M37.9 340.0h.1M34.3 345.7h.1M51.3 338.1h.1M47.7 340.8h.1M40.4 343.1h.1M48.1 336.2h.1M37.3 337.0h.1M46.3 339.9h.1M43.4 344.6h.1M41.6 343.3h.1M48.0 334.8h.1M34.9 344.6h.1M49.5 334.2h.1M49.3 334.1h.1M50.0 334.4h.1M52.4 332.1h.1M51.1 334.6h.1M52.2 332.3h.1M50.3 337.9h.1M48.6 335.0h.1M48.6 333.9h.1M53.2 336.2h.1M49.2 334.1h.1M48.0 337.1h.1M49.4 336.3h.1M45.3 336.5h.1M51.4 335.1h.1M45.0 337.9h.1M50.2 334.9h.1M49.1 334.7h.1M50.6 335.6h.1M44.2 337.7h.1M51.6 333.9h.1M51.6 332.6h.1M54.1 334.8h.1M51.1 339.3h.1M53.7 336.1h.1M47.8 335.9h.1M51.6 336.1h.1M49.3 333.1h.1M52.1 333.7h.1M50.6 334.2h.1M55.0 338.0h.1M56.3 339.9h.1M52.3 342.6h.1M55.1 344.0h.1M56.5 338.4h.1M54.9 341.5h.1M55.3 338.8h.1M55.3 344.1h.1M57.2 345.3h.1M56.4 335.0h.1M54.8 340.1h.1M50.5 345.5h.1" stroke="#333" stroke-width="0.55" stroke-linecap="square" fill="none"/>
<path d="M114.5 345.6L116.5 341.6L122.0 338.0L131.2 334.4L131.6 336.6L128.0 341.0L121.0 346.5L116.0 347.2z" fill="#000" filter="url(#b2)" opacity="0.95"/>
<path d="M126.8 338.3h.1M124.5 341.0h.1M122.7 344.7h.1M132.6 337.4h.1M119.4 343.3h.1M128.0 339.7h.1M119.7 345.2h.1M126.6 340.1h.1M119.8 342.2h.1M112.0 346.7h.1M119.3 341.7h.1M120.1 341.2h.1M122.6 341.0h.1M118.7 342.6h.1M122.2 342.4h.1M123.9 338.9h.1M115.6 339.9h.1M116.0 345.7h.1M119.3 347.4h.1M120.7 340.6h.1M120.5 340.3h.1M118.8 343.1h.1M114.6 345.7h.1M120.4 339.3h.1M127.8 338.7h.1M126.8 336.3h.1M114.0 342.1h.1M111.4 341.5h.1M129.6 335.2h.1M122.3 339.3h.1M123.3 345.0h.1M111.7 344.1h.1M121.5 338.6h.1M127.3 341.8h.1M127.6 340.0h.1M122.5 343.7h.1M116.3 340.8h.1M120.3 341.2h.1M127.1 335.1h.1M127.0 335.8h.1M113.2 341.1h.1M120.0 337.9h.1M123.2 340.5h.1M117.5 337.9h.1M119.9 343.6h.1M121.4 339.8h.1M123.9 341.9h.1M120.9 339.4h.1M125.2 337.1h.1M125.1 342.1h.1M130.9 340.6h.1M127.5 338.3h.1M121.2 342.0h.1M128.6 346.1h.1M124.4 337.2h.1M127.9 332.9h.1M125.6 335.2h.1M115.7 343.2h.1M118.8 338.9h.1M125.1 338.9h.1M127.7 334.7h.1M122.1 343.9h.1M125.0 345.1h.1M113.1 340.5h.1M121.5 345.5h.1M128.5 333.2h.1M116.5 338.7h.1M116.4 341.4h.1M125.7 342.3h.1M134.0 333.0h.1M126.6 339.0h.1M125.2 344.9h.1M127.7 342.4h.1M124.7 342.0h.1M124.5 339.3h.1M117.9 342.2h.1M121.6 340.1h.1M119.3 340.5h.1M126.2 337.9h.1M121.1 340.9h.1M128.2 335.9h.1M128.3 334.8h.1M130.8 337.8h.1M120.0 343.5h.1M126.7 335.5h.1M121.2 342.4h.1M120.6 341.0h.1M122.5 341.6h.1M128.0 342.0h.1M122.6 345.9h.1M119.5 338.2h.1M119.3 341.5h.1M125.0 333.3h.1M118.6 342.6h.1M125.9 339.9h.1M126.3 338.1h.1M122.4 344.4h.1M131.5 336.7h.1M121.7 338.6h.1M133.5 335.6h.1M123.2 335.6h.1M128.3 344.6h.1M120.9 341.0h.1M129.8 336.0h.1M128.9 342.8h.1M114.9 342.7h.1M125.7 339.2h.1M122.0 340.5h.1M123.1 341.4h.1M119.2 341.8h.1M121.8 337.9h.1M121.5 334.8h.1M125.2 338.8h.1M119.8 345.9h.1M123.8 344.8h.1M122.2 344.0h.1M118.0 337.8h.1M124.7 340.9h.1M126.3 343.5h.1M116.4 340.0h.1M122.5 338.7h.1M121.5 341.3h.1M119.2 345.9h.1M123.7 345.3h.1M124.7 342.6h.1M119.7 340.4h.1M118.2 340.6h.1M124.5 340.0h.1M114.5 340.8h.1M115.2 339.5h.1M115.5 340.3h.1M124.2 336.3h.1M118.8 342.5h.1M122.7 341.8h.1M114.1 345.8h.1M111.4 347.0h.1M112.8 344.2h.1M115.6 343.1h.1M113.5 346.7h.1M112.4 345.7h.1M112.5 346.1h.1M112.6 345.2h.1M113.4 342.6h.1M112.6 344.8h.1M117.1 344.8h.1M110.5 346.4h.1M110.8 344.0h.1M111.4 346.1h.1M115.3 346.1h.1M112.6 345.0h.1M112.8 346.7h.1M112.0 346.8h.1M110.0 345.6h.1M114.1 345.8h.1M112.4 344.6h.1M109.8 345.2h.1M115.8 343.6h.1M114.2 344.9h.1M109.2 345.9h.1M113.7 343.5h.1M109.0 345.3h.1M113.7 344.2h.1M113.2 345.7h.1M112.1 345.9h.1M115.2 344.5h.1M112.6 343.8h.1M110.2 345.5h.1M113.9 344.1h.1M108.7 347.1h.1M117.4 341.0h.1M109.4 345.9h.1M113.0 343.9h.1M113.1 346.5h.1M111.5 346.3h.1M112.1 344.1h.1M110.3 344.8h.1M115.6 346.2h.1M112.3 343.2h.1M110.7 345.0h.1M112.4 343.5h.1M110.8 344.9h.1M116.8 345.3h.1M114.0 345.1h.1M109.0 347.0h.1M109.9 343.2h.1M113.8 344.5h.1M112.1 346.0h.1M111.5 345.9h.1M115.2 344.3h.1M111.1 345.5h.1M113.5 344.5h.1M112.1 344.4h.1M111.9 346.0h.1M109.9 345.4h.1M112.3 345.9h.1M109.4 345.6h.1M109.8 346.1h.1M112.8 345.7h.1M111.2 343.6h.1M110.3 343.9h.1M110.3 345.5h.1M126.3 345.4h.1M115.5 346.2h.1M111.0 347.0h.1M125.8 347.0h.1M119.4 346.7h.1M118.0 346.9h.1M116.2 345.2h.1M122.2 345.6h.1M123.9 345.2h.1M121.6 345.0h.1M113.7 344.8h.1M110.6 345.8h.1M129.5 345.6h.1M125.5 345.8h.1M126.3 344.2h.1M114.3 346.4h.1M123.8 345.8h.1M121.8 346.5h.1M118.0 347.0h.1M115.1 346.7h.1M125.4 346.2h.1M118.0 346.0h.1M111.7 344.0h.1M124.5 345.1h.1M122.1 346.0h.1M109.8 345.1h.1" stroke="#333" stroke-width="0.55" stroke-linecap="square" fill="none"/>
<path d="M189.0 347.6L189.6 344.5L192.0 341.6L200.0 337.6L208.6 333.8L210.4 336.0L208.0 340.6L204.5 347.6z" fill="#000" filter="url(#b2)" opacity="1"/>
<path d="M199.0 343.1h.1M198.8 337.2h.1M196.9 342.8h.1M191.6 343.4h.1M193.8 336.5h.1M211.8 338.6h.1M198.4 345.0h.1M197.9 342.5h.1M196.6 342.9h.1M202.1 340.1h.1M195.9 345.5h.1M203.4 339.4h.1M205.5 335.9h.1M207.7 336.9h.1M208.7 335.4h.1M198.7 342.3h.1M208.7 342.0h.1M196.2 340.2h.1M206.4 342.4h.1M203.9 338.0h.1M207.8 337.3h.1M201.9 342.3h.1M193.5 336.2h.1M202.3 342.4h.1M203.4 341.3h.1M202.4 343.5h.1M202.7 344.9h.1M201.4 343.1h.1M197.0 343.4h.1M202.8 340.2h.1M209.6 336.7h.1M207.4 338.8h.1M205.5 335.3h.1M199.1 344.8h.1M195.5 344.5h.1M203.8 339.9h.1M203.4 341.3h.1M199.1 342.8h.1M196.2 341.2h.1M190.1 345.2h.1M189.6 345.9h.1M199.9 337.3h.1M200.8 341.6h.1M196.7 339.4h.1M199.9 342.5h.1M208.3 343.9h.1M201.8 337.9h.1M204.8 346.1h.1M202.5 344.6h.1M206.0 336.7h.1M207.1 331.6h.1M197.9 339.6h.1M201.3 340.6h.1M206.2 336.0h.1M209.6 330.6h.1M200.2 343.1h.1M205.0 337.4h.1M201.8 333.1h.1M197.8 344.0h.1M204.0 343.1h.1M206.3 335.8h.1M200.8 334.5h.1M191.6 346.8h.1M196.2 339.2h.1M211.0 328.8h.1M195.1 347.2h.1M201.9 344.0h.1M202.0 346.4h.1M199.7 340.8h.1M203.2 340.7h.1M189.5 342.6h.1M199.0 342.7h.1M191.5 342.5h.1M195.9 344.1h.1M198.2 344.0h.1M201.2 337.3h.1M196.5 338.3h.1M201.8 343.0h.1M191.6 338.8h.1M202.8 338.7h.1M200.4 342.4h.1M203.6 342.6h.1M194.2 336.0h.1M196.6 341.5h.1M198.0 343.3h.1M200.2 345.4h.1M196.1 342.8h.1M192.8 340.9h.1M198.7 344.3h.1M199.8 340.5h.1M198.4 340.9h.1M211.4 337.0h.1M203.9 342.6h.1M192.8 340.0h.1M199.7 346.3h.1M205.3 336.5h.1M193.6 347.3h.1M205.3 334.7h.1M208.9 334.1h.1M204.4 338.2h.1M197.2 340.2h.1M205.1 340.8h.1M204.6 337.9h.1M210.4 335.5h.1M200.9 340.8h.1M205.8 339.5h.1M209.2 337.8h.1M206.0 335.9h.1M207.5 335.1h.1M208.7 335.4h.1M205.2 336.0h.1M212.6 334.4h.1M210.4 335.9h.1M209.5 334.3h.1M210.0 335.4h.1M211.3 336.2h.1M207.9 330.9h.1M211.4 335.7h.1M209.3 334.2h.1M212.9 336.9h.1M209.2 334.5h.1M209.9 336.9h.1M209.8 336.3h.1M209.4 335.5h.1M207.0 335.2h.1M209.1 334.9h.1M208.6 335.4h.1M208.1 334.7h.1M206.9 338.2h.1M207.6 333.3h.1M213.9 339.9h.1M213.0 334.7h.1M217.3 343.6h.1M214.1 342.4h.1M212.9 336.8h.1M215.2 342.5h.1M213.6 341.0h.1M209.8 340.7h.1M216.4 341.4h.1M215.0 342.5h.1" stroke="#333" stroke-width="0.55" stroke-linecap="square" fill="none"/>
<path d="M274.5 345.8L276.0 342.2L282.0 338.4L292.6 334.4L293.2 336.8L289.0 342.0L283.0 347.0L276.5 347.4z" fill="#000" filter="url(#b2)" opacity="0.95"/>
<path d="M270.6 344.5h.1M276.8 345.5h.1M277.3 338.8h.1M287.3 338.1h.1M290.7 342.8h.1M272.9 343.2h.1M290.4 341.2h.1M285.5 340.8h.1M287.4 340.6h.1M277.4 346.7h.1M287.6 337.4h.1M277.7 342.8h.1M280.7 344.1h.1M287.0 339.0h.1M279.1 338.1h.1M279.5 340.2h.1M280.6 343.6h.1M277.8 342.6h.1M276.8 344.0h.1M282.8 344.3h.1M285.6 338.1h.1M279.7 343.7h.1M285.5 339.3h.1M282.2 341.7h.1M277.8 345.0h.1M286.0 339.6h.1M277.1 344.6h.1M282.8 342.2h.1M281.9 344.3h.1M289.7 339.8h.1M285.8 343.2h.1M282.6 341.0h.1M275.6 345.5h.1M288.0 335.5h.1M285.4 336.1h.1M286.9 344.4h.1M281.7 338.5h.1M284.3 340.0h.1M286.4 337.7h.1M273.4 345.3h.1M287.3 341.7h.1M284.4 340.4h.1M286.3 338.7h.1M280.9 343.1h.1M288.0 336.8h.1M284.7 338.3h.1M279.4 343.8h.1M275.0 343.3h.1M276.1 343.4h.1M286.2 339.6h.1M273.0 339.9h.1M284.4 338.5h.1M287.9 337.2h.1M275.4 343.7h.1M273.3 342.6h.1M286.0 337.9h.1M285.8 337.9h.1M281.1 340.7h.1M279.3 341.4h.1M290.6 336.7h.1M290.9 340.0h.1M282.2 341.2h.1M280.7 342.9h.1M285.4 339.8h.1M277.5 341.6h.1M293.7 340.0h.1M275.7 343.5h.1M283.5 342.6h.1M282.7 342.1h.1M286.3 342.7h.1M285.9 341.1h.1M274.9 345.2h.1M282.4 343.4h.1M287.4 340.7h.1M284.5 343.1h.1M282.0 339.7h.1M297.3 334.8h.1M286.3 337.9h.1M283.2 344.3h.1M287.5 343.7h.1M287.8 335.3h.1M285.7 338.9h.1M280.7 340.9h.1M292.0 335.5h.1M276.9 347.3h.1M282.9 342.3h.1M280.9 342.3h.1M278.9 342.5h.1M286.2 343.1h.1M271.6 347.4h.1M287.0 341.8h.1M278.6 344.7h.1M286.2 342.1h.1M279.5 342.7h.1M281.7 345.3h.1M288.0 337.0h.1M282.5 342.1h.1M278.1 343.7h.1M288.4 340.4h.1M278.6 341.9h.1M280.5 338.4h.1M284.7 340.6h.1M275.7 344.7h.1M279.2 342.7h.1M280.1 346.8h.1M278.9 345.8h.1M285.8 343.8h.1M282.6 341.4h.1M280.9 337.0h.1M295.1 333.6h.1M279.9 339.8h.1M284.2 345.2h.1M279.6 344.5h.1M289.4 340.2h.1M278.7 338.7h.1M285.7 341.3h.1M280.7 341.3h.1M290.0 332.6h.1M279.5 341.5h.1M274.0 344.5h.1M280.3 346.3h.1M272.2 343.5h.1M282.4 337.2h.1M271.8 345.9h.1M275.5 342.8h.1M282.7 342.7h.1M279.2 342.6h.1M286.4 338.8h.1M286.0 337.8h.1M287.0 342.5h.1M280.8 341.5h.1M272.3 346.2h.1M270.0 346.1h.1M271.6 347.4h.1M271.7 344.9h.1M272.8 345.3h.1M272.7 345.9h.1M275.1 344.7h.1M275.6 342.0h.1M276.7 346.3h.1M276.0 345.2h.1M273.0 344.4h.1M275.2 343.8h.1M270.8 345.9h.1M273.1 345.9h.1M270.0 345.7h.1M273.9 346.8h.1M274.3 345.8h.1M271.9 345.1h.1M271.4 345.7h.1M273.6 344.9h.1M276.8 343.7h.1M274.3 345.1h.1M272.2 345.3h.1M275.8 344.7h.1M273.8 345.5h.1M274.3 346.0h.1M276.0 344.2h.1M275.3 345.2h.1M272.0 346.0h.1M275.2 344.3h.1M275.7 345.0h.1M271.7 345.3h.1M270.7 346.2h.1M274.1 345.4h.1M273.1 346.0h.1M276.1 345.7h.1M275.9 345.0h.1M273.2 344.8h.1M273.7 344.4h.1M273.5 344.7h.1M272.0 347.1h.1M273.0 346.5h.1M271.7 343.6h.1M275.7 344.9h.1M271.3 346.9h.1M270.0 345.2h.1" stroke="#333" stroke-width="0.55" stroke-linecap="square" fill="none"/>
<path d="M41.5 323.1h.1M41.5 323.7h.1M38.8 324.2h.1M38.3 325.7h.1M41.4 324.2h.1M40.5 324.9h.1M42.6 321.7h.1M41.3 325.5h.1M38.6 324.1h.1M38.6 326.0h.1M37.0 325.0h.1M41.8 325.0h.1M38.3 323.4h.1M35.0 322.6h.1M41.4 322.7h.1M36.0 323.8h.1M36.3 324.8h.1M37.5 325.6h.1M39.0 322.0h.1M37.7 323.2h.1M37.6 326.0h.1M37.3 324.7h.1M38.1 325.0h.1M36.4 321.8h.1M40.3 326.3h.1M36.5 323.7h.1M38.3 322.7h.1M41.2 324.2h.1M36.5 323.8h.1M41.9 323.1h.1M38.2 322.9h.1M39.6 323.3h.1M41.0 322.9h.1M36.4 324.8h.1M32.9 322.7h.1M39.8 324.5h.1M38.1 323.5h.1M40.3 329.7h.1M37.7 323.9h.1M38.4 325.0h.1M39.3 325.0h.1M42.5 323.7h.1" stroke="#666" stroke-width="0.6" stroke-linecap="square" fill="none"/>
<path d="M280.5 325.6h.1M286.2 324.3h.1M285.2 326.9h.1M274.6 323.2h.1M278.8 325.6h.1M284.3 325.0h.1M281.6 328.6h.1M282.0 328.6h.1M279.0 327.7h.1M279.9 320.8h.1M279.2 324.1h.1M281.1 326.2h.1M282.8 325.8h.1M279.4 328.0h.1M284.0 325.0h.1M279.8 324.8h.1M280.6 323.7h.1M281.1 323.8h.1M282.7 323.8h.1M282.3 325.5h.1M281.6 325.8h.1M278.7 329.3h.1M279.5 326.2h.1M281.2 324.2h.1" stroke="#888" stroke-width="0.6" stroke-linecap="square" fill="none"/>
<ellipse cx="55.1" cy="340.8" rx="5.1" ry="7.3" fill="none" stroke="#000" stroke-width="1.15"/>
<ellipse cx="134.9" cy="340.8" rx="5.1" ry="7.3" fill="none" stroke="#000" stroke-width="1.15"/>
<ellipse cx="214.7" cy="340.8" rx="5.1" ry="7.3" fill="none" stroke="#000" stroke-width="1.15"/>
<ellipse cx="296.3" cy="341.3" rx="5.1" ry="7.3" fill="none" stroke="#000" stroke-width="1.15"/>
<text x="52.7" y="330.6" font-size="9.7" textLength="38.9" lengthAdjust="spacingAndGlyphs" style="stroke-width:.26px">0.80±0.10</text>
<text x="135.1" y="330.6" font-size="9.7" textLength="39.8" lengthAdjust="spacingAndGlyphs" style="stroke-width:.26px">0.16±0.05</text>
<text x="215.1" y="330.6" font-size="9.7" textLength="39.3" lengthAdjust="spacingAndGlyphs" style="stroke-width:.26px">0.71±0.15</text>
<text x="297.3" y="331.4" font-size="9.7" textLength="38.7" lengthAdjust="spacingAndGlyphs" style="stroke-width:.26px">0.15±0.10</text>
<path d="M13.9 325.3V356.4H46.699999999999996" stroke="#000" stroke-width="1.25" fill="none"/>
<path d="M13.9 320.7l-2.9 5.6h5.8zM51.3 356.4l-5.6 -2.9v5.8z" fill="#000"/>
<text transform="translate(9.3 338.8) rotate(-90)" font-size="8.1" text-anchor="middle" font-weight="bold">CD3</text>
<text x="24.8" y="366.3" font-size="8.1" text-anchor="start" font-weight="bold">CD4</text>
<text x="359.4" y="198.2" font-size="17.5" text-anchor="start" font-weight="bold">D</text>
<path d="M409.00 206.40L409.00 270.40" stroke="#000" stroke-width="1.4" fill="none"/>
<path d="M408.30 270.00L502.00 270.00" stroke="#000" stroke-width="1.4" fill="none"/>
<path d="M406.40 207.10L409.00 207.10" stroke="#000" stroke-width="1.2" fill="none"/>
<text transform="translate(406.8 210.5) scale(0.84 1)" font-size="9.6" text-anchor="end" font-weight="bold" stroke="#000" stroke-width="0.2">1.00</text>
<path d="M406.40 222.80L409.00 222.80" stroke="#000" stroke-width="1.2" fill="none"/>
<text transform="translate(406.8 226.20000000000002) scale(0.84 1)" font-size="9.6" text-anchor="end" font-weight="bold" stroke="#000" stroke-width="0.2">0.75</text>
<path d="M406.40 238.40L409.00 238.40" stroke="#000" stroke-width="1.2" fill="none"/>
<text transform="translate(406.8 241.8) scale(0.84 1)" font-size="9.6" text-anchor="end" font-weight="bold" stroke="#000" stroke-width="0.2">0.50</text>
<path d="M406.40 254.10L409.00 254.10" stroke="#000" stroke-width="1.2" fill="none"/>
<text transform="translate(406.8 257.5) scale(0.84 1)" font-size="9.6" text-anchor="end" font-weight="bold" stroke="#000" stroke-width="0.2">0.25</text>
<path d="M406.40 269.70L409.00 269.70" stroke="#000" stroke-width="1.2" fill="none"/>
<text transform="translate(406.8 273.09999999999997) scale(0.84 1)" font-size="9.6" text-anchor="end" font-weight="bold" stroke="#000" stroke-width="0.2">0.00</text>
<path d="M409.30 269.70L409.30 272.40" stroke="#000" stroke-width="1.2" fill="none"/>
<text transform="translate(409.3 279.6) scale(0.85 1)" font-size="9.4" text-anchor="middle" font-weight="bold" stroke="#000" stroke-width="0.2">0</text>
<path d="M427.70 269.70L427.70 272.40" stroke="#000" stroke-width="1.2" fill="none"/>
<text transform="translate(427.7 279.6) scale(0.85 1)" font-size="9.4" text-anchor="middle" font-weight="bold" stroke="#000" stroke-width="0.2">1</text>
<path d="M446.10 269.70L446.10 272.40" stroke="#000" stroke-width="1.2" fill="none"/>
<text transform="translate(446.1 279.6) scale(0.85 1)" font-size="9.4" text-anchor="middle" font-weight="bold" stroke="#000" stroke-width="0.2">2</text>
<path d="M464.50 269.70L464.50 272.40" stroke="#000" stroke-width="1.2" fill="none"/>
<text transform="translate(464.5 279.6) scale(0.85 1)" font-size="9.4" text-anchor="middle" font-weight="bold" stroke="#000" stroke-width="0.2">3</text>
<path d="M482.90 269.70L482.90 272.40" stroke="#000" stroke-width="1.2" fill="none"/>
<text transform="translate(482.9 279.6) scale(0.85 1)" font-size="9.4" text-anchor="middle" font-weight="bold" stroke="#000" stroke-width="0.2">4</text>
<path d="M501.30 269.70L501.30 272.40" stroke="#000" stroke-width="1.2" fill="none"/>
<text transform="translate(501.3 279.6) scale(0.85 1)" font-size="9.4" text-anchor="middle" font-weight="bold" stroke="#000" stroke-width="0.2">5</text>
<text x="397.3" y="291.6" font-size="8.4" font-weight="bold" textLength="122.2" lengthAdjust="spacingAndGlyphs">segmented neutrophils/mL (x10<tspan font-size="5.5" dy="-3">5</tspan><tspan dy="3">)</tspan></text>
<text transform="translate(384.6 239.9) rotate(-90)" font-size="8.0" text-anchor="middle" font-weight="bold">BM CD3<tspan font-size="5.5" dy="-3">-</tspan><tspan dy="3">CD4</tspan><tspan font-size="5.5" dy="-3">-</tspan><tspan dy="3"> cells (%)</tspan></text>
<path d="M425.2 261.6L427.4 259.5L429.5 261.6L427.4 263.8zM424.4 263.6L426.5 261.5L428.6 263.6L426.5 265.8zM433.1 264.8L435.2 262.7L437.3 264.8L435.2 266.9zM438.6 230.8L440.7 228.7L442.8 230.8L440.7 233.0zM440.9 225.0L443.0 222.8L445.1 225.0L443.0 227.2zM442.6 225.0L444.7 222.8L446.8 225.0L444.7 227.2zM449.2 218.9L451.3 216.8L453.4 218.9L451.3 221.1zM453.6 225.0L455.7 222.8L457.8 225.0L455.7 227.2zM473.2 219.2L475.3 217.0L477.4 219.2L475.3 221.3zM424.4 256.4L426.2 253.2L427.9 256.4zM436.9 261.3L438.6 258.1L440.4 261.3zM462.2 234.5L464.0 231.3L465.8 234.5zM476.4 215.7L478.2 212.6L479.9 215.7zM489.6 223.2L491.4 220.1L493.1 223.2z" fill="#000"/>
<path d="M409.00 305.20L409.00 369.20" stroke="#000" stroke-width="1.4" fill="none"/>
<path d="M408.30 368.50L502.00 368.50" stroke="#000" stroke-width="1.4" fill="none"/>
<path d="M406.40 305.90L409.00 305.90" stroke="#000" stroke-width="1.2" fill="none"/>
<text transform="translate(406.8 309.29999999999995) scale(0.84 1)" font-size="9.6" text-anchor="end" font-weight="bold" stroke="#000" stroke-width="0.2">100</text>
<path d="M406.40 321.60L409.00 321.60" stroke="#000" stroke-width="1.2" fill="none"/>
<text transform="translate(406.8 325.0) scale(0.84 1)" font-size="9.6" text-anchor="end" font-weight="bold" stroke="#000" stroke-width="0.2">075</text>
<path d="M406.40 337.20L409.00 337.20" stroke="#000" stroke-width="1.2" fill="none"/>
<text transform="translate(406.8 340.59999999999997) scale(0.84 1)" font-size="9.6" text-anchor="end" font-weight="bold" stroke="#000" stroke-width="0.2">050</text>
<path d="M406.40 352.90L409.00 352.90" stroke="#000" stroke-width="1.2" fill="none"/>
<text transform="translate(406.8 356.29999999999995) scale(0.84 1)" font-size="9.6" text-anchor="end" font-weight="bold" stroke="#000" stroke-width="0.2">025</text>
<path d="M406.40 368.50L409.00 368.50" stroke="#000" stroke-width="1.2" fill="none"/>
<text transform="translate(406.8 371.9) scale(0.84 1)" font-size="9.6" text-anchor="end" font-weight="bold" stroke="#000" stroke-width="0.2">000</text>
<path d="M409.30 368.50L409.30 371.20" stroke="#000" stroke-width="1.2" fill="none"/>
<text transform="translate(409.3 378.4) scale(0.85 1)" font-size="9.4" text-anchor="middle" font-weight="bold" stroke="#000" stroke-width="0.2">0</text>
<path d="M427.70 368.50L427.70 371.20" stroke="#000" stroke-width="1.2" fill="none"/>
<text transform="translate(427.7 378.4) scale(0.85 1)" font-size="9.4" text-anchor="middle" font-weight="bold" stroke="#000" stroke-width="0.2">5</text>
<path d="M446.10 368.50L446.10 371.20" stroke="#000" stroke-width="1.2" fill="none"/>
<text transform="translate(446.1 378.4) scale(0.85 1)" font-size="9.4" text-anchor="middle" font-weight="bold" stroke="#000" stroke-width="0.2">10</text>
<path d="M464.50 368.50L464.50 371.20" stroke="#000" stroke-width="1.2" fill="none"/>
<text transform="translate(464.5 378.4) scale(0.85 1)" font-size="9.4" text-anchor="middle" font-weight="bold" stroke="#000" stroke-width="0.2">15</text>
<path d="M482.90 368.50L482.90 371.20" stroke="#000" stroke-width="1.2" fill="none"/>
<text transform="translate(482.9 378.4) scale(0.85 1)" font-size="9.4" text-anchor="middle" font-weight="bold" stroke="#000" stroke-width="0.2">20</text>
<path d="M501.30 368.50L501.30 371.20" stroke="#000" stroke-width="1.2" fill="none"/>
<text transform="translate(501.3 378.4) scale(0.85 1)" font-size="9.4" text-anchor="middle" font-weight="bold" stroke="#000" stroke-width="0.2">25</text>
<text x="456.4" y="390.4" font-size="8.2" text-anchor="middle" font-weight="bold">SCA-1<tspan font-size="7" dy="-3" letter-spacing="0.8">-</tspan><tspan dy="3">CD11b</tspan><tspan font-size="7" dy="-3" letter-spacing="0.8">-</tspan><tspan dy="3"> cells (%)</tspan></text>
<text transform="translate(384.6 340.2) rotate(-90)" font-size="8.0" text-anchor="middle" font-weight="bold">BM CD3<tspan font-size="5.5" dy="-3">-</tspan><tspan dy="3">CD4</tspan><tspan font-size="5.5" dy="-3">-</tspan><tspan dy="3"> cells (%)</tspan></text>
<path d="M417.5 318.0L419.6 315.9L421.8 318.0L419.6 320.1zM417.5 321.2L419.6 319.1L421.8 321.2L419.6 323.3zM427.2 325.2L429.4 323.1L431.5 325.2L429.4 327.3zM438.0 325.2L440.1 323.1L442.2 325.2L440.1 327.3zM434.8 333.0L436.9 330.9L439.0 333.0L436.9 335.1zM478.9 363.0L481.0 360.9L483.1 363.0L481.0 365.1zM481.8 360.1L483.9 358.0L486.0 360.1L483.9 362.2zM438.4 315.1L440.1 311.9L441.9 315.1zM446.1 330.6L447.9 327.4L449.6 330.6zM470.6 355.4L472.4 352.2L474.1 355.4zM467.1 360.0L468.9 356.9L470.6 360.0zM472.1 365.5L473.8 362.4L475.6 365.5z" fill="#000"/>
<text x="0.5" y="400.2" font-size="17.5" text-anchor="start" font-weight="bold">E</text>
<path d="M48.70 412.00L48.70 498.50" stroke="#000" stroke-width="1.1" fill="none"/>
<path d="M48.20 498.00L124.00 498.00" stroke="#000" stroke-width="1.1" fill="none"/>
<path d="M45.70 412.50L48.70 412.50" stroke="#000" stroke-width="1.1" fill="none"/>
<text transform="translate(44.4 415.8) scale(0.86 1)" font-size="9.4" text-anchor="end" font-weight="bold">25</text>
<path d="M45.70 429.60L48.70 429.60" stroke="#000" stroke-width="1.1" fill="none"/>
<text transform="translate(44.4 432.90000000000003) scale(0.86 1)" font-size="9.4" text-anchor="end" font-weight="bold">20</text>
<path d="M45.70 446.70L48.70 446.70" stroke="#000" stroke-width="1.1" fill="none"/>
<text transform="translate(44.4 450.0) scale(0.86 1)" font-size="9.4" text-anchor="end" font-weight="bold">15</text>
<path d="M45.70 463.80L48.70 463.80" stroke="#000" stroke-width="1.1" fill="none"/>
<text transform="translate(44.4 467.1) scale(0.86 1)" font-size="9.4" text-anchor="end" font-weight="bold">10</text>
<path d="M45.70 480.90L48.70 480.90" stroke="#000" stroke-width="1.1" fill="none"/>
<text transform="translate(44.4 484.2) scale(0.86 1)" font-size="9.4" text-anchor="end" font-weight="bold">5</text>
<path d="M45.70 498.00L48.70 498.00" stroke="#000" stroke-width="1.1" fill="none"/>
<text transform="translate(44.4 501.3) scale(0.86 1)" font-size="9.4" text-anchor="end" font-weight="bold">0</text>
<path d="M54.15 489.50V487.50M52.65 487.50H55.65" stroke="#000" stroke-width="1.0" fill="none"/>
<rect x="51.30" y="489.50" width="5.70" height="8.50" fill="#fff" stroke="#000" stroke-width="1.0"/>
<path d="M62.10 489.50V487.30M60.60 487.30H63.60" stroke="#000" stroke-width="1.0" fill="none"/>
<rect x="58.80" y="489.50" width="6.60" height="8.50" fill="#000" stroke="#000" stroke-width="1.0"/>
<path d="M77.90 428.30V425.00M76.40 425.00H79.40" stroke="#000" stroke-width="1.0" fill="none"/>
<rect x="74.60" y="428.30" width="6.60" height="69.70" fill="#fff" stroke="#000" stroke-width="1.0"/>
<path d="M86.00 438.80V436.50M84.50 436.50H87.50" stroke="#000" stroke-width="1.0" fill="none"/>
<rect x="82.60" y="438.80" width="6.80" height="59.20" fill="#000" stroke="#000" stroke-width="1.0"/>
<path d="M102.40 491.20V490.30M100.90 490.30H103.90" stroke="#000" stroke-width="1.0" fill="none"/>
<rect x="99.30" y="491.20" width="6.20" height="6.80" fill="#fff" stroke="#000" stroke-width="1.0"/>
<path d="M110.70 489.50V487.50M109.20 487.50H112.20" stroke="#000" stroke-width="1.0" fill="none"/>
<rect x="107.20" y="489.50" width="7.00" height="8.50" fill="#000" stroke="#000" stroke-width="1.0"/>
<text x="54.5" y="507" font-size="8" text-anchor="middle" font-weight="bold">Band</text>
<text x="81.6" y="507" font-size="8" text-anchor="middle" font-weight="bold">Segm</text>
<text x="111" y="507" font-size="8" text-anchor="middle" font-weight="bold">Monoc</text>
<text transform="translate(27.6 455.2) rotate(-90)" font-size="9.7" text-anchor="middle" font-weight="bold">cell counts/mL (x10<tspan font-size="6.5" dy="-3.4">5</tspan><tspan dy="3.4">)</tspan></text>
<path d="M164.50 407.60L164.50 498.10" stroke="#000" stroke-width="1.1" fill="none"/>
<path d="M164.00 497.60L242.00 497.60" stroke="#000" stroke-width="1.1" fill="none"/>
<path d="M161.50 408.10L164.50 408.10" stroke="#000" stroke-width="1.1" fill="none"/>
<text transform="translate(161.4 411.40000000000003) scale(0.86 1)" font-size="9.4" text-anchor="end" font-weight="bold">75</text>
<path d="M161.50 437.90L164.50 437.90" stroke="#000" stroke-width="1.1" fill="none"/>
<text transform="translate(161.4 441.2) scale(0.86 1)" font-size="9.4" text-anchor="end" font-weight="bold">50</text>
<path d="M161.50 467.80L164.50 467.80" stroke="#000" stroke-width="1.1" fill="none"/>
<text transform="translate(161.4 471.1) scale(0.86 1)" font-size="9.4" text-anchor="end" font-weight="bold">25</text>
<path d="M161.50 497.60L164.50 497.60" stroke="#000" stroke-width="1.1" fill="none"/>
<text transform="translate(161.4 500.90000000000003) scale(0.86 1)" font-size="9.4" text-anchor="end" font-weight="bold">0</text>
<path d="M170.65 429.50V425.50M169.15 425.50H172.15" stroke="#000" stroke-width="1.0" fill="none"/>
<rect x="167.50" y="429.50" width="6.30" height="68.10" fill="#fff" stroke="#000" stroke-width="1.0"/>
<path d="M179.00 426.30V421.30M177.50 421.30H180.50" stroke="#000" stroke-width="1.0" fill="none"/>
<rect x="175.60" y="426.30" width="6.80" height="71.30" fill="#000" stroke="#000" stroke-width="1.0"/>
<path d="M195.65 480.00V478.00M194.15 478.00H197.15" stroke="#000" stroke-width="1.0" fill="none"/>
<rect x="192.50" y="480.00" width="6.30" height="17.60" fill="#fff" stroke="#000" stroke-width="1.0"/>
<path d="M204.30 479.30V475.00M202.80 475.00H205.80" stroke="#000" stroke-width="1.0" fill="none"/>
<rect x="200.80" y="479.30" width="7.00" height="18.30" fill="#000" stroke="#000" stroke-width="1.0"/>
<path d="M220.90 495.00V494.60M219.40 494.60H222.40" stroke="#000" stroke-width="1.0" fill="none"/>
<rect x="217.50" y="495.00" width="6.80" height="2.60" fill="#fff" stroke="#000" stroke-width="1.0"/>
<path d="M229.60 495.80V494.60M228.10 494.60H231.10" stroke="#000" stroke-width="1.0" fill="none"/>
<rect x="226.20" y="495.80" width="6.80" height="1.80" fill="#000" stroke="#000" stroke-width="1.0"/>
<text x="173.8" y="506.3" font-size="8" text-anchor="middle" font-weight="bold">Neut</text>
<text x="174" y="517" font-size="8" text-anchor="middle" font-weight="bold">Prec</text>
<text x="200.4" y="506.3" font-size="8" text-anchor="middle" font-weight="bold">Segm</text>
<text x="230.2" y="506.3" font-size="8" text-anchor="middle" font-weight="bold">Monoc</text>
<text transform="translate(145.6 454.4) rotate(-90)" font-size="9.4" text-anchor="middle" font-weight="bold">cell counts/mL (%)</text>
<rect x="210.1" y="420.1" width="8.6" height="8.8" fill="#fff" stroke="#000" stroke-width="1"/>
<rect x="210.1" y="435.9" width="8.6" height="8.8" fill="#000" stroke="#000" stroke-width="1"/>
<text transform="translate(222.3 428.9) scale(0.9 1)" font-size="10.5" text-anchor="start">WT</text>
<text transform="translate(222.3 444.5) scale(0.9 1)" font-size="10.5" text-anchor="start">TAP<tspan font-size="8.6" dy="-4.6">-/-</tspan></text>
<text x="322.7" y="415.9" font-size="17.5" text-anchor="start" font-weight="bold">F</text>
<text x="390.8" y="434.3" font-size="14.3" text-anchor="middle" font-weight="bold">WT</text>
<text x="457.2" y="434.3" font-size="14.2" text-anchor="start" font-weight="bold">TAP<tspan font-size="9.6" dy="-3.4">−/−</tspan></text>
<rect x="354.3" y="437.8" width="75.0" height="56.099999999999966" fill="none" stroke="#c4c4c4" stroke-width="0.6"/>
<path d="M352.3 437.8h1.2M352.3 451.8h1.2M352.3 465.9h1.2M352.3 479.9h1.2M352.3 493.9h1.2M357.3 494.9v1.2M375.3 494.9v1.2M393.3 494.9v1.2M411.3 494.9v1.2M429.3 494.9v1.2" stroke="#aaa" stroke-width="0.7" fill="none"/>
<rect x="441.2" y="438.3" width="73.19999999999999" height="56.30000000000001" fill="none" stroke="#c4c4c4" stroke-width="0.6"/>
<path d="M439.2 438.3h1.2M439.2 452.4h1.2M439.2 466.5h1.2M439.2 480.5h1.2M439.2 494.6h1.2M444.2 495.6v1.2M461.8 495.6v1.2M479.3 495.6v1.2M496.8 495.6v1.2M514.4 495.6v1.2" stroke="#aaa" stroke-width="0.7" fill="none"/>
<ellipse cx="366.5" cy="485" rx="11" ry="7.2" transform="rotate(0 366.5 485)" fill="#000" opacity="0.55" filter="url(#b3)"/>
<ellipse cx="366.3" cy="485" rx="6.6" ry="4.6" transform="rotate(0 366.3 485)" fill="#000" opacity="0.65" filter="url(#b3)"/>
<ellipse cx="370.5" cy="464" rx="7.5" ry="11" transform="rotate(0 370.5 464)" fill="#000" opacity="0.3" filter="url(#b3)"/>
<ellipse cx="397" cy="479.7" rx="7.8" ry="7" transform="rotate(0 397 479.7)" fill="#000" opacity="0.6" filter="url(#b3)"/>
<ellipse cx="396.8" cy="479.2" rx="5" ry="4.4" transform="rotate(0 396.8 479.2)" fill="#000" opacity="0.8" filter="url(#b3)"/>
<path d="M377.5 489.4h.1M364.7 487.0h.1M370.8 491.4h.1M372.9 483.8h.1M364.8 479.5h.1M368.1 488.3h.1M363.9 487.5h.1M367.3 482.6h.1M358.6 489.4h.1M382.6 486.9h.1M359.5 480.1h.1M368.0 487.4h.1M376.1 474.1h.1M378.2 485.3h.1M367.3 486.3h.1M364.1 483.3h.1M373.2 477.0h.1M365.7 487.0h.1M355.9 483.9h.1M376.2 486.2h.1M371.0 487.6h.1M367.8 486.1h.1M361.2 483.7h.1M378.2 479.2h.1M365.4 479.1h.1M363.0 481.2h.1M358.6 485.6h.1M360.4 486.9h.1M378.0 473.4h.1M365.4 475.4h.1M365.6 486.2h.1M367.8 489.8h.1M367.5 477.0h.1M376.1 480.4h.1M365.8 486.0h.1M360.8 485.0h.1M376.0 477.2h.1M355.8 482.6h.1M365.4 479.0h.1M369.0 478.8h.1M370.1 484.3h.1M367.5 478.7h.1M365.1 486.7h.1M355.2 480.0h.1M372.7 493.3h.1M370.7 484.3h.1M359.5 482.8h.1M364.8 486.5h.1M374.9 475.0h.1M359.0 484.5h.1M372.8 486.3h.1M375.1 487.1h.1M382.9 488.1h.1M369.4 491.3h.1M363.6 482.2h.1M360.0 485.6h.1M369.3 488.7h.1M375.8 487.3h.1M374.4 483.5h.1M360.3 487.8h.1M373.0 490.4h.1M365.4 482.5h.1M364.1 486.1h.1M366.2 483.7h.1M368.1 483.3h.1M368.6 481.9h.1M356.6 483.2h.1M378.6 481.0h.1M372.3 490.5h.1M363.0 485.7h.1M376.3 485.4h.1M361.7 485.0h.1M368.3 482.7h.1M364.5 480.9h.1M370.2 485.4h.1M368.7 482.3h.1M369.7 483.2h.1M368.4 483.8h.1M362.2 479.7h.1M356.0 480.9h.1M365.2 479.4h.1M374.4 479.4h.1M365.8 481.8h.1M371.4 478.1h.1M368.5 485.5h.1M370.1 486.4h.1M367.5 476.7h.1M364.4 480.4h.1M369.9 483.5h.1M367.5 489.4h.1M365.8 492.0h.1M371.9 478.0h.1M362.7 489.9h.1M363.3 489.8h.1M362.9 484.0h.1M373.1 477.5h.1M367.0 482.5h.1M367.6 492.1h.1M369.6 478.5h.1M372.7 482.5h.1M367.6 489.7h.1M364.5 488.8h.1M367.6 480.5h.1M364.5 478.5h.1M374.1 485.2h.1M372.7 479.6h.1M371.9 479.2h.1M368.3 484.5h.1M362.7 485.9h.1M366.7 480.7h.1M361.7 478.7h.1M375.3 485.2h.1M364.2 487.6h.1M361.0 479.3h.1M368.8 491.6h.1M368.4 485.2h.1M377.7 477.6h.1M386.1 479.6h.1M366.0 478.5h.1M358.7 483.4h.1M382.2 480.3h.1M362.5 485.7h.1M360.0 483.4h.1M371.7 474.8h.1M364.6 483.2h.1M363.2 484.0h.1M355.0 482.6h.1M363.2 479.9h.1M374.6 493.4h.1M371.6 480.7h.1M375.6 486.7h.1M361.3 487.2h.1M362.8 487.1h.1M372.4 489.7h.1M359.7 483.9h.1M366.5 479.1h.1M369.2 487.6h.1M357.7 482.0h.1M359.4 478.8h.1M359.7 490.6h.1M362.2 482.7h.1M372.8 489.1h.1M375.5 475.3h.1M371.3 476.7h.1M362.4 482.7h.1M362.8 493.3h.1M365.4 489.7h.1M365.3 484.2h.1M369.8 486.5h.1M369.7 476.8h.1M369.7 485.9h.1M370.3 484.3h.1M369.1 478.7h.1M373.8 479.1h.1M375.5 489.0h.1M366.1 483.2h.1M371.5 483.1h.1M358.9 485.7h.1M358.7 482.5h.1M378.0 488.1h.1M363.6 484.2h.1M362.4 484.5h.1M357.2 487.5h.1M366.6 481.8h.1M363.7 482.4h.1M362.8 482.3h.1M374.9 487.5h.1M369.2 486.1h.1M359.2 473.7h.1M376.2 487.7h.1M367.9 485.7h.1M367.8 484.6h.1M364.8 474.5h.1M370.1 484.7h.1M372.8 485.9h.1M364.7 487.2h.1M367.7 482.5h.1M364.1 482.6h.1M364.6 482.5h.1M365.8 489.5h.1M363.5 483.8h.1M361.8 478.4h.1M361.1 482.2h.1M367.5 483.0h.1M358.8 482.8h.1M376.2 480.6h.1M366.9 489.0h.1M361.3 481.9h.1M385.0 490.0h.1M363.1 485.2h.1M367.1 485.2h.1M369.5 483.2h.1M367.5 478.4h.1M364.4 491.2h.1M368.0 481.6h.1M367.4 489.2h.1M355.5 478.9h.1M362.3 482.5h.1M365.9 481.9h.1M367.2 484.9h.1M359.0 481.7h.1M358.6 485.8h.1M368.2 487.4h.1M360.9 482.1h.1M356.2 486.0h.1M373.4 486.5h.1M370.5 485.5h.1M368.9 488.7h.1M374.6 493.5h.1M364.8 488.2h.1M372.0 486.4h.1M368.2 478.8h.1M373.5 480.6h.1M362.3 480.7h.1M370.1 480.2h.1M369.4 487.0h.1M367.1 483.0h.1M370.3 490.4h.1M363.5 479.8h.1M362.7 480.6h.1M365.0 483.8h.1M361.3 482.6h.1M360.0 485.5h.1M371.9 476.4h.1M367.9 491.3h.1M364.7 488.6h.1M368.5 480.4h.1M372.8 481.8h.1M368.8 482.7h.1M365.1 485.2h.1M374.9 477.0h.1M359.4 485.0h.1M372.7 483.7h.1M365.3 486.8h.1M376.6 480.5h.1M356.3 483.2h.1M371.4 478.6h.1M373.7 488.7h.1M371.5 480.7h.1M358.2 487.4h.1M368.2 487.6h.1M357.9 471.3h.1M373.7 489.0h.1M364.7 484.5h.1M369.4 487.8h.1M365.3 482.2h.1M360.3 489.1h.1M367.1 469.3h.1M368.7 481.9h.1M358.4 482.2h.1M358.3 482.5h.1M363.0 486.8h.1M360.0 476.4h.1M362.6 478.4h.1M371.2 483.6h.1M355.8 480.6h.1M366.3 484.3h.1M368.4 488.9h.1M373.5 483.9h.1M358.2 482.8h.1M370.6 480.4h.1M374.5 480.2h.1M359.3 488.2h.1M365.9 485.9h.1M364.5 484.6h.1M362.8 492.9h.1M370.7 483.9h.1M369.5 488.2h.1M363.1 485.3h.1M367.8 482.0h.1M361.6 483.6h.1M364.6 482.7h.1M370.7 484.8h.1M377.4 488.3h.1M364.2 481.5h.1M369.7 482.8h.1M356.2 485.0h.1M364.6 483.5h.1M370.4 485.4h.1M379.4 481.2h.1M365.9 485.9h.1M363.7 482.2h.1M377.7 478.0h.1M368.7 476.7h.1M368.7 476.0h.1M359.0 489.5h.1M376.3 485.1h.1M368.1 479.6h.1M364.2 478.6h.1M365.9 484.1h.1M367.3 488.0h.1M362.4 474.7h.1M359.0 478.9h.1M364.1 482.6h.1M366.2 490.6h.1M366.7 479.7h.1M364.5 480.6h.1M365.0 487.1h.1M359.3 487.6h.1M377.9 491.3h.1M376.9 484.9h.1M357.9 493.4h.1M366.2 485.5h.1M364.2 480.3h.1M370.4 478.3h.1M357.7 486.9h.1M364.1 480.8h.1M369.7 490.8h.1M364.7 483.9h.1M370.1 488.7h.1M373.1 487.5h.1M362.3 486.9h.1M366.5 477.0h.1M374.4 487.0h.1M375.2 484.2h.1M371.1 484.2h.1M367.5 488.5h.1M366.9 487.2h.1M366.3 489.9h.1M370.7 477.2h.1M377.1 486.4h.1M363.2 481.7h.1M379.2 484.9h.1M369.7 487.1h.1M362.7 492.2h.1M379.9 481.1h.1M373.7 477.3h.1M364.4 484.8h.1M366.8 487.0h.1M369.1 486.1h.1M365.6 485.8h.1M363.0 493.2h.1M366.9 490.0h.1M367.2 483.8h.1M365.4 478.8h.1M379.7 486.3h.1M367.3 482.5h.1M374.6 483.0h.1M363.6 482.1h.1M376.3 485.9h.1M365.6 481.7h.1M374.7 485.8h.1M364.4 488.5h.1M372.1 480.1h.1M373.8 489.3h.1M365.0 478.6h.1M373.5 483.0h.1M365.2 483.2h.1M364.8 488.2h.1M359.6 486.9h.1M373.9 489.2h.1M371.1 485.7h.1M365.3 484.0h.1M361.0 491.9h.1M365.8 480.1h.1M371.8 491.1h.1M368.3 483.1h.1M359.5 487.3h.1M365.0 481.6h.1M370.3 478.8h.1M371.2 473.8h.1M362.6 478.2h.1M365.0 488.0h.1M358.3 490.5h.1M362.2 482.4h.1M372.8 481.3h.1M375.7 483.6h.1M365.9 480.3h.1M373.8 484.2h.1M363.5 480.4h.1M362.6 484.1h.1M362.0 488.0h.1M366.3 481.8h.1M369.5 490.8h.1M373.4 485.1h.1M371.8 477.8h.1M361.9 488.9h.1M366.0 484.8h.1M370.5 486.1h.1M369.4 482.3h.1M364.7 490.2h.1M363.5 478.2h.1M364.4 488.4h.1M377.8 485.2h.1M362.7 487.2h.1M368.5 489.7h.1M369.8 487.8h.1M369.8 486.3h.1M360.9 483.8h.1M376.6 490.3h.1M372.6 486.2h.1M365.9 486.0h.1M364.5 489.3h.1M364.7 481.2h.1M356.5 491.3h.1M361.9 480.8h.1M369.1 492.3h.1M370.8 483.1h.1M370.2 480.9h.1M365.1 484.6h.1M366.7 487.9h.1M370.0 492.7h.1M371.8 483.3h.1M368.2 480.8h.1M362.8 483.0h.1M373.0 481.5h.1M356.9 480.1h.1M359.2 483.7h.1M364.8 479.4h.1M361.7 482.7h.1M369.1 487.2h.1M374.9 483.4h.1M370.6 484.8h.1M359.9 481.8h.1M380.3 483.8h.1M376.9 488.1h.1M377.0 483.7h.1M372.5 483.2h.1M359.8 479.4h.1M369.4 477.5h.1M369.0 480.7h.1M368.9 478.5h.1M372.0 483.5h.1M357.2 478.3h.1M367.1 477.4h.1M368.8 486.6h.1M362.6 490.6h.1M375.7 485.9h.1M369.6 486.6h.1M365.1 490.2h.1M363.4 473.6h.1M366.9 486.4h.1M371.8 479.7h.1M375.4 480.9h.1M370.7 487.7h.1M367.8 489.4h.1M363.7 493.4h.1M369.8 482.7h.1M382.9 484.5h.1M356.7 490.7h.1M376.3 482.0h.1M360.6 489.4h.1M367.1 480.3h.1M363.8 484.8h.1M372.8 491.3h.1M362.9 491.2h.1M357.4 487.6h.1M365.9 486.4h.1M364.1 481.4h.1M368.5 489.4h.1M364.3 479.9h.1M358.4 486.8h.1M370.2 487.3h.1M363.0 482.6h.1M377.7 482.8h.1M367.5 488.8h.1M377.1 486.1h.1M368.9 492.9h.1M364.3 476.7h.1M362.1 483.1h.1M374.9 485.9h.1M374.2 485.0h.1M367.0 482.0h.1M359.1 486.7h.1M369.0 487.0h.1M363.5 482.7h.1M369.1 487.2h.1M379.1 480.7h.1M372.9 488.4h.1M365.1 485.1h.1M366.4 491.2h.1M382.5 485.9h.1M365.2 488.6h.1M369.8 483.7h.1M371.4 488.3h.1M364.3 488.2h.1M364.9 485.2h.1M357.8 490.9h.1M364.4 485.2h.1M366.5 487.8h.1M363.2 487.7h.1M361.6 478.1h.1M369.9 485.2h.1M372.2 476.1h.1M367.5 481.7h.1M365.6 482.8h.1M364.5 481.6h.1M373.1 477.0h.1M356.4 486.0h.1M379.2 481.2h.1M361.2 479.4h.1M360.5 490.0h.1M371.0 488.4h.1M368.9 485.5h.1M363.2 480.3h.1M364.5 490.0h.1M362.4 484.7h.1M377.3 484.2h.1M370.7 482.1h.1M378.4 479.1h.1M370.2 483.5h.1M368.0 486.1h.1M374.9 488.3h.1M373.3 486.1h.1M360.2 490.4h.1M376.3 486.6h.1M371.7 483.5h.1M357.9 488.8h.1M362.3 492.9h.1M371.0 484.4h.1M363.0 485.0h.1M360.5 482.9h.1M376.7 483.2h.1M378.2 484.1h.1M369.3 480.5h.1M364.9 482.6h.1M358.2 493.0h.1M370.4 484.1h.1M360.0 484.7h.1M360.2 480.3h.1M356.0 487.0h.1M363.4 471.8h.1M358.0 483.9h.1M367.1 481.2h.1M377.8 486.9h.1M362.8 477.3h.1M367.8 481.6h.1M373.1 479.9h.1M374.2 482.5h.1M368.0 483.3h.1M370.6 489.5h.1M363.4 480.6h.1M378.5 488.7h.1M378.6 488.7h.1M367.6 491.7h.1M362.6 482.6h.1M364.3 487.5h.1M361.4 483.7h.1M361.5 483.5h.1M373.7 489.4h.1M362.4 486.5h.1M363.8 474.8h.1M359.4 489.9h.1M366.0 485.7h.1M374.5 484.6h.1M362.8 481.8h.1M360.9 486.9h.1M363.8 486.8h.1M357.4 482.6h.1M379.5 486.1h.1M366.1 489.7h.1M368.4 491.2h.1M359.5 487.9h.1M360.1 487.5h.1M382.0 491.2h.1M361.4 486.4h.1M369.6 481.3h.1M368.2 479.8h.1M372.7 488.5h.1M365.7 487.5h.1M381.5 483.8h.1M355.1 486.0h.1M363.9 481.1h.1M372.3 488.9h.1M370.4 491.7h.1M362.8 482.7h.1M369.3 472.6h.1M365.4 484.8h.1M360.7 485.5h.1M373.3 481.7h.1M370.2 483.8h.1M365.7 485.0h.1M376.1 486.8h.1M370.9 485.2h.1M366.6 484.9h.1M363.5 477.7h.1M376.0 492.6h.1M376.5 476.4h.1M370.1 479.3h.1M365.5 482.2h.1M362.8 481.1h.1M363.7 487.9h.1M376.7 488.6h.1M366.6 483.9h.1M365.1 484.4h.1M362.8 483.7h.1M371.9 483.5h.1M361.6 484.0h.1M367.2 484.2h.1M365.0 487.6h.1M366.4 480.1h.1M370.2 481.4h.1M371.5 488.1h.1M369.7 485.9h.1M358.2 483.6h.1M367.4 487.3h.1M359.6 483.8h.1M357.0 485.3h.1M367.1 485.0h.1M377.0 487.7h.1M365.4 482.0h.1M363.8 488.0h.1M372.3 482.3h.1M365.9 482.6h.1M370.9 485.3h.1M362.1 480.6h.1M374.8 478.3h.1M355.3 471.0h.1M379.3 482.1h.1M372.0 487.0h.1M371.9 489.5h.1M363.7 484.4h.1M372.8 487.0h.1M361.9 481.2h.1M357.6 485.7h.1M363.3 477.7h.1M363.1 485.9h.1M367.8 483.5h.1M367.6 487.4h.1M359.1 480.9h.1M372.7 487.7h.1M357.8 481.3h.1M375.7 487.8h.1M365.7 489.0h.1M375.2 490.7h.1M357.9 478.8h.1M363.4 484.3h.1M364.4 485.6h.1M375.9 489.3h.1M372.9 484.5h.1M377.0 486.5h.1M368.1 484.4h.1M366.5 488.5h.1M380.9 483.7h.1M359.3 489.0h.1M368.1 480.4h.1M372.7 484.6h.1M360.7 473.4h.1M360.4 486.2h.1M360.1 488.8h.1M380.5 485.9h.1M368.0 484.2h.1M372.1 484.7h.1M373.2 490.8h.1M372.0 480.3h.1M370.8 483.4h.1M368.6 488.8h.1M362.4 485.4h.1M375.9 480.9h.1M365.4 487.7h.1M365.2 489.0h.1M360.2 477.9h.1M369.0 483.9h.1M368.6 488.7h.1M373.3 483.0h.1M364.2 476.0h.1M360.5 485.6h.1M368.0 478.0h.1M371.6 484.3h.1M373.6 483.0h.1M372.7 479.7h.1M354.9 481.0h.1M371.0 486.3h.1M370.9 491.9h.1M371.6 486.7h.1M356.6 486.1h.1M364.3 480.3h.1M360.2 483.9h.1M370.3 481.7h.1M368.5 487.6h.1M366.5 492.9h.1M364.6 481.3h.1M370.9 483.7h.1M368.6 483.9h.1M372.1 484.5h.1M368.0 484.2h.1M361.0 474.8h.1M370.1 479.1h.1M369.1 487.3h.1M378.5 481.3h.1M367.6 488.7h.1M362.4 481.9h.1M369.4 493.5h.1M373.4 488.7h.1M360.5 487.4h.1M373.8 479.0h.1M366.7 483.7h.1M370.7 476.9h.1M371.1 484.5h.1M364.9 475.3h.1M370.7 486.4h.1M371.4 477.1h.1M367.9 490.4h.1M356.8 487.4h.1M362.0 486.9h.1M367.2 477.4h.1M360.0 490.1h.1M365.9 489.9h.1M368.7 488.4h.1M364.1 485.5h.1M364.2 488.5h.1M363.0 489.3h.1M376.6 479.2h.1M365.5 486.9h.1M377.8 489.5h.1M367.1 477.0h.1M371.9 482.0h.1M367.8 486.3h.1M357.7 489.1h.1M372.4 487.0h.1M370.4 486.1h.1M357.7 482.3h.1M371.8 483.1h.1M366.8 486.1h.1M367.2 485.6h.1M369.7 484.5h.1M359.6 483.3h.1M372.6 481.6h.1M369.6 485.8h.1M361.0 472.2h.1M366.5 481.1h.1M362.6 488.6h.1M361.7 486.0h.1M367.3 485.4h.1M379.2 475.9h.1M372.7 483.9h.1M364.8 481.6h.1M366.8 484.7h.1M360.8 491.6h.1M361.9 483.9h.1M358.6 485.2h.1M368.8 489.2h.1M372.8 482.3h.1M376.7 484.0h.1M376.4 491.9h.1M364.0 479.8h.1M370.0 490.8h.1M369.1 489.3h.1M370.3 488.4h.1M375.0 483.2h.1M357.6 484.0h.1M361.6 479.3h.1M365.5 487.6h.1M354.9 477.9h.1M371.6 480.7h.1M364.1 490.4h.1M373.7 486.1h.1M370.0 472.7h.1M370.1 486.2h.1M357.8 485.3h.1M369.5 484.0h.1M371.6 488.3h.1M366.9 483.4h.1M359.1 489.4h.1M363.0 485.9h.1M376.3 487.9h.1M358.6 484.1h.1M362.1 477.4h.1M361.5 487.0h.1M368.7 483.6h.1M367.7 479.5h.1M361.7 483.8h.1M371.6 483.1h.1M365.5 486.0h.1M375.9 479.0h.1M369.9 485.3h.1M366.1 485.6h.1M365.1 479.2h.1M371.9 484.0h.1M364.4 487.8h.1M360.8 481.4h.1M371.8 488.3h.1M379.3 482.5h.1M357.4 478.1h.1M359.0 485.0h.1M365.1 481.6h.1M360.2 481.5h.1M364.3 489.7h.1M370.5 490.4h.1M371.7 487.8h.1M374.0 486.5h.1M376.3 489.4h.1M378.0 485.4h.1M364.8 486.8h.1M364.2 481.5h.1M369.3 479.7h.1M365.6 490.6h.1M367.3 488.1h.1M370.6 486.2h.1M367.2 487.2h.1M360.5 487.0h.1M359.8 481.2h.1M362.9 478.7h.1M369.7 487.4h.1M380.5 485.3h.1M371.3 481.3h.1M371.0 479.6h.1M379.0 480.3h.1M364.0 487.7h.1M360.6 485.4h.1M372.7 485.2h.1M372.4 482.3h.1M370.3 475.1h.1M376.1 481.6h.1M361.1 484.6h.1M377.3 481.5h.1M366.4 482.9h.1M360.7 478.8h.1M370.3 487.6h.1M361.8 485.5h.1M369.4 486.1h.1M365.5 484.7h.1M368.3 479.9h.1M365.6 487.9h.1M363.0 490.2h.1M365.0 479.7h.1M364.7 478.6h.1M370.4 477.6h.1M366.6 483.5h.1M364.6 486.3h.1M368.3 482.1h.1M371.7 482.6h.1M372.2 490.3h.1M368.9 488.5h.1M358.1 486.9h.1M357.1 483.7h.1M370.9 472.9h.1M361.6 481.2h.1M360.6 484.6h.1M370.5 479.5h.1M362.6 476.5h.1M362.1 475.4h.1M357.0 486.5h.1M372.1 481.0h.1M368.7 481.1h.1M373.3 492.1h.1M362.5 482.4h.1M376.4 491.3h.1M366.4 487.3h.1M356.5 483.2h.1M364.7 483.9h.1M368.4 477.7h.1M355.6 484.8h.1M371.1 486.6h.1M366.9 477.5h.1M363.6 477.8h.1M378.9 486.1h.1M371.1 485.4h.1M364.1 489.6h.1M372.1 487.3h.1M370.2 487.7h.1M364.7 486.4h.1M367.0 483.4h.1M363.8 489.7h.1M360.1 483.7h.1M373.0 484.2h.1M368.7 479.3h.1M359.3 491.7h.1M367.5 484.1h.1M357.8 480.0h.1M360.0 484.3h.1M365.8 481.9h.1M362.3 485.0h.1M373.9 478.4h.1M357.6 489.4h.1M357.5 482.7h.1M367.2 492.4h.1M366.0 489.2h.1M367.4 481.0h.1M367.7 475.6h.1M371.7 490.9h.1M365.2 488.1h.1M359.8 490.9h.1M362.4 481.0h.1M361.7 476.8h.1M370.7 493.2h.1M357.5 483.6h.1M369.3 482.0h.1M356.6 486.0h.1M372.8 485.0h.1M359.8 483.2h.1M374.2 489.3h.1M366.0 486.4h.1M363.2 485.1h.1M362.7 485.2h.1M363.2 485.4h.1M370.9 484.4h.1M358.3 486.7h.1M365.0 482.3h.1M370.1 480.9h.1M372.4 486.9h.1M362.1 481.5h.1M365.7 480.6h.1M372.5 474.7h.1M367.4 483.0h.1M359.6 487.2h.1M363.5 486.5h.1M363.8 483.3h.1M369.8 488.7h.1M372.8 484.4h.1M375.8 483.0h.1M357.9 476.4h.1M357.4 480.7h.1M355.3 485.9h.1M366.7 484.3h.1M368.0 484.0h.1M364.9 483.1h.1M366.8 479.6h.1M374.6 491.2h.1M360.4 488.4h.1M356.3 487.1h.1M361.8 488.9h.1M367.2 488.6h.1M370.3 486.8h.1M364.8 491.4h.1M368.8 486.6h.1M375.5 483.4h.1M377.5 489.2h.1M367.0 478.2h.1M374.2 483.2h.1M367.1 485.0h.1M372.5 487.3h.1M355.0 481.6h.1M368.7 485.3h.1M371.5 487.0h.1M376.8 481.4h.1M374.7 486.2h.1M368.4 487.5h.1M364.4 487.6h.1M365.2 487.6h.1M361.7 489.6h.1M356.9 481.7h.1M366.2 485.6h.1M361.5 482.8h.1M368.1 489.1h.1M374.7 482.4h.1M366.1 483.2h.1M356.9 482.6h.1M373.6 478.7h.1M384.5 488.8h.1M377.4 485.3h.1M376.5 482.0h.1M374.5 487.8h.1M371.5 487.8h.1M370.2 487.3h.1M374.0 486.4h.1M370.5 486.4h.1M367.4 480.7h.1M355.2 480.1h.1M358.7 478.1h.1M370.9 483.1h.1M371.4 482.5h.1M373.0 460.8h.1M372.5 474.6h.1M379.2 469.8h.1M372.5 472.8h.1M375.3 467.4h.1M365.1 458.3h.1M371.9 460.7h.1M368.4 449.9h.1M367.2 461.4h.1M372.6 455.5h.1M370.4 473.0h.1M371.9 450.1h.1M370.1 462.0h.1M377.5 463.2h.1M378.1 464.0h.1M377.0 470.2h.1M378.9 463.2h.1M374.3 485.8h.1M364.8 463.2h.1M373.5 457.8h.1M375.3 461.0h.1M375.1 463.2h.1M366.3 468.4h.1M381.3 467.6h.1M372.5 451.6h.1M372.7 461.8h.1M367.0 450.4h.1M373.3 467.9h.1M374.7 475.9h.1M361.4 464.2h.1M370.9 470.7h.1M370.9 456.1h.1M370.8 464.7h.1M367.3 457.3h.1M372.4 467.4h.1M369.9 465.0h.1M368.5 460.0h.1M372.0 467.9h.1M379.2 461.3h.1M373.3 474.0h.1M375.3 459.8h.1M373.1 453.4h.1M360.4 457.4h.1M367.4 453.9h.1M376.3 459.3h.1M371.5 462.5h.1M370.0 454.9h.1M380.9 450.0h.1M370.9 466.3h.1M370.0 461.4h.1M372.6 463.5h.1M369.4 468.6h.1M373.6 471.2h.1M371.5 449.9h.1M362.7 458.9h.1M373.4 452.1h.1M368.2 469.6h.1M372.8 457.7h.1M370.5 462.7h.1M368.9 460.1h.1M367.8 463.4h.1M379.1 470.9h.1M364.8 476.2h.1M370.5 453.5h.1M363.5 462.9h.1M372.3 458.1h.1M367.0 460.7h.1M372.4 466.1h.1M373.9 447.5h.1M368.1 463.6h.1M373.0 466.9h.1M363.5 471.6h.1M365.0 460.8h.1M368.7 459.1h.1M367.2 467.0h.1M375.1 464.2h.1M364.6 458.2h.1M370.8 464.5h.1M368.3 460.4h.1M384.4 462.4h.1M369.6 447.1h.1M367.3 472.0h.1M375.4 454.8h.1M375.1 463.1h.1M367.1 466.9h.1M368.0 460.2h.1M371.2 463.3h.1M368.9 463.8h.1M371.1 463.2h.1M373.1 458.2h.1M364.2 461.6h.1M377.3 464.1h.1M372.2 457.5h.1M365.3 454.5h.1M366.5 459.8h.1M363.3 461.3h.1M363.2 466.0h.1M371.0 451.3h.1M368.3 463.5h.1M373.0 466.8h.1M369.3 461.1h.1M369.9 465.4h.1M367.6 461.1h.1M371.8 459.9h.1M365.6 470.3h.1M373.6 456.5h.1M381.0 457.4h.1M366.7 459.8h.1M373.8 471.2h.1M378.0 465.4h.1M371.4 466.1h.1M367.1 457.8h.1M373.8 463.3h.1M372.3 455.8h.1M372.3 453.3h.1M375.8 462.1h.1M367.9 459.2h.1M385.1 481.1h.1M367.6 470.4h.1M356.5 468.9h.1M371.2 463.6h.1M366.3 454.1h.1M372.3 459.3h.1M373.6 468.5h.1M370.5 465.3h.1M372.0 463.5h.1M368.5 463.5h.1M373.3 462.5h.1M368.8 453.2h.1M365.7 471.6h.1M376.2 463.8h.1M372.6 461.1h.1M374.5 467.9h.1M369.8 463.9h.1M375.9 452.4h.1M366.4 458.6h.1M365.3 459.4h.1M366.9 459.6h.1M373.5 454.9h.1M371.6 470.5h.1M372.1 454.6h.1M368.1 469.2h.1M369.8 458.2h.1M375.0 457.7h.1M365.5 465.8h.1M371.2 458.1h.1M373.4 468.8h.1M376.5 462.7h.1M373.4 465.1h.1M363.7 472.2h.1M367.8 458.6h.1M367.0 456.2h.1M376.6 462.1h.1M368.2 450.9h.1M371.9 461.7h.1M365.9 461.5h.1M361.9 466.0h.1M365.0 465.1h.1M371.6 449.1h.1M365.5 458.1h.1M375.1 465.7h.1M374.3 472.3h.1M369.7 459.0h.1M361.7 455.8h.1M373.9 456.9h.1M366.7 467.9h.1M358.8 470.5h.1M377.6 451.1h.1M373.5 462.0h.1M375.6 460.0h.1M370.5 470.7h.1M368.1 464.6h.1M374.3 461.4h.1M375.5 465.2h.1M375.3 451.7h.1M365.9 463.9h.1M376.9 470.8h.1M371.2 457.5h.1M365.6 450.2h.1M368.6 465.6h.1M370.7 453.1h.1M370.6 462.4h.1M367.4 470.9h.1M373.3 468.8h.1M371.6 456.1h.1M376.5 468.8h.1M368.2 453.9h.1M375.2 458.6h.1M365.3 461.6h.1M373.9 457.5h.1M371.3 468.1h.1M374.8 452.6h.1M374.7 472.9h.1M375.7 461.5h.1M373.0 452.5h.1M368.2 458.9h.1M381.5 462.1h.1M366.3 472.4h.1M377.3 452.0h.1M370.1 451.8h.1M376.3 448.2h.1M380.4 455.6h.1M365.9 475.0h.1M373.8 464.2h.1M375.4 456.0h.1M375.5 460.4h.1M373.7 463.5h.1M378.0 454.2h.1M364.2 466.1h.1M382.9 465.4h.1M370.3 466.2h.1M365.1 462.6h.1M362.7 462.8h.1M374.7 472.4h.1M368.6 467.7h.1M377.8 455.7h.1M369.7 450.7h.1M366.8 464.7h.1M361.0 460.2h.1M374.7 470.8h.1M358.7 464.4h.1M368.0 448.0h.1M366.1 465.7h.1M371.0 466.4h.1M369.6 466.1h.1M366.3 456.1h.1M370.3 451.4h.1M377.3 460.5h.1M366.2 456.8h.1M366.3 462.8h.1M369.3 467.4h.1M365.4 461.6h.1M363.6 459.2h.1M377.9 461.3h.1M375.5 461.7h.1M365.7 456.7h.1M365.5 464.2h.1M372.3 480.1h.1M379.4 467.3h.1M366.2 462.8h.1M366.6 476.5h.1M367.5 469.2h.1M364.4 466.8h.1M365.0 459.2h.1M371.9 462.9h.1M370.8 461.7h.1M366.8 461.4h.1M370.8 456.3h.1M373.9 463.1h.1M367.3 470.0h.1M368.3 450.4h.1M377.4 459.8h.1M378.4 464.7h.1M366.7 468.9h.1M373.4 467.7h.1M371.3 471.6h.1M375.7 460.0h.1M363.6 461.8h.1M371.4 456.0h.1M370.1 471.3h.1M368.7 469.0h.1M366.4 456.1h.1M375.7 461.0h.1M372.2 468.4h.1M379.2 454.4h.1M374.0 463.5h.1M371.8 473.1h.1M369.9 458.4h.1M373.6 449.6h.1M372.9 456.6h.1M372.7 457.5h.1M373.6 460.5h.1M367.5 465.4h.1M374.8 452.2h.1M364.7 460.4h.1M369.2 470.2h.1M379.0 465.0h.1M376.5 460.0h.1M364.3 463.9h.1M362.3 472.1h.1M372.3 469.2h.1M367.9 452.1h.1M370.1 465.1h.1M370.0 458.9h.1M371.5 460.9h.1M378.0 454.0h.1M360.1 461.5h.1M372.4 452.6h.1M370.9 464.8h.1M372.7 463.9h.1M367.3 453.1h.1M375.8 459.9h.1M364.2 471.6h.1M374.7 444.7h.1M383.9 462.9h.1M363.0 467.9h.1M372.7 469.7h.1M371.1 451.8h.1M370.2 459.4h.1M372.5 460.9h.1M373.9 454.5h.1M368.3 458.9h.1M373.1 451.5h.1M371.1 476.8h.1M362.1 468.4h.1M371.6 468.2h.1M371.3 463.6h.1M372.9 464.9h.1M365.1 461.2h.1M380.1 470.8h.1M366.8 456.2h.1M370.2 468.6h.1M375.6 458.4h.1M359.2 461.7h.1M362.8 469.4h.1M378.4 466.2h.1M374.0 465.5h.1M380.2 468.8h.1M378.2 454.9h.1M368.5 462.0h.1M360.0 460.3h.1M370.9 461.6h.1M383.6 460.8h.1M370.1 461.3h.1M369.3 453.3h.1M376.6 462.2h.1M372.8 462.3h.1M367.2 452.2h.1M369.6 465.3h.1M370.4 466.6h.1M367.1 460.2h.1M371.8 461.4h.1M371.9 470.9h.1M369.0 462.9h.1M367.8 465.4h.1M372.2 457.5h.1M366.0 454.6h.1M369.6 463.0h.1M368.6 461.3h.1M371.7 476.5h.1M376.9 476.4h.1M371.7 463.4h.1M380.8 464.4h.1M374.3 458.9h.1M368.3 466.8h.1M368.0 457.9h.1M363.6 463.8h.1M370.6 465.4h.1M366.7 454.4h.1M376.5 462.2h.1M375.0 454.9h.1M364.6 446.4h.1M372.5 468.1h.1M377.6 473.0h.1M361.9 455.3h.1M368.4 457.1h.1M370.0 457.1h.1M363.7 461.8h.1M371.6 457.3h.1M371.2 454.0h.1M369.4 459.9h.1M368.7 461.5h.1M364.7 453.7h.1M366.9 466.6h.1M366.3 456.2h.1M380.9 460.4h.1M369.1 456.5h.1M378.4 465.3h.1M372.3 471.9h.1M365.1 451.6h.1M376.6 464.7h.1M368.4 466.9h.1M370.5 474.1h.1M364.7 464.2h.1M375.9 467.5h.1M369.2 459.6h.1M368.8 466.3h.1M369.0 461.2h.1M376.1 461.3h.1M372.2 461.2h.1M371.1 448.3h.1M366.3 464.3h.1M367.8 458.2h.1M371.3 476.2h.1M367.2 456.1h.1M362.0 464.9h.1M370.7 456.8h.1M369.0 468.1h.1M376.1 464.3h.1M376.8 468.3h.1M368.7 466.9h.1M371.8 466.8h.1M372.4 475.2h.1M364.7 464.3h.1M365.6 476.4h.1M368.4 459.7h.1M370.9 461.7h.1M379.5 461.7h.1M372.2 468.6h.1M378.6 456.1h.1M372.5 453.8h.1M373.5 470.8h.1M368.4 460.3h.1M377.0 464.7h.1M375.0 459.2h.1M369.4 459.7h.1M378.8 452.7h.1M368.4 471.7h.1M370.6 455.2h.1M372.2 460.6h.1M370.4 465.1h.1M374.9 452.7h.1M372.0 471.3h.1M364.3 461.4h.1M365.2 466.1h.1M366.8 459.9h.1M368.9 464.8h.1M364.4 453.3h.1M371.9 470.5h.1M368.5 464.6h.1M372.3 462.7h.1M370.9 458.6h.1M369.8 469.5h.1M373.2 470.0h.1M367.4 462.7h.1M367.8 453.8h.1M375.5 460.2h.1M372.2 453.2h.1M369.7 461.2h.1M369.0 468.3h.1M373.3 462.8h.1M372.1 459.2h.1M367.4 460.3h.1M365.9 460.9h.1M370.4 469.0h.1M368.8 477.2h.1M368.4 462.8h.1M370.8 458.2h.1M370.7 451.0h.1M376.6 458.4h.1M370.8 450.7h.1M373.8 454.0h.1M377.8 455.5h.1M367.3 466.1h.1M377.4 449.6h.1M362.5 472.1h.1M373.2 452.5h.1M368.8 466.4h.1M369.0 471.4h.1M367.4 463.0h.1M376.7 471.3h.1M372.2 465.6h.1M369.3 461.6h.1M368.1 464.4h.1M375.2 455.7h.1M365.2 462.3h.1M381.0 463.4h.1M371.6 461.7h.1M362.6 457.5h.1M378.5 448.8h.1M379.9 454.5h.1M381.1 478.5h.1M378.4 461.1h.1M373.9 458.5h.1M368.7 463.3h.1M355.3 465.5h.1M369.4 455.2h.1M369.6 466.1h.1M367.1 464.2h.1M364.2 462.6h.1M365.2 466.8h.1M365.8 465.9h.1M361.0 463.1h.1M376.4 456.8h.1M371.2 456.6h.1M373.4 466.7h.1M376.7 470.4h.1M377.4 457.4h.1M371.5 465.3h.1M371.9 453.7h.1M381.0 478.0h.1M371.3 445.6h.1M380.1 460.8h.1M382.2 455.4h.1M373.6 467.0h.1M363.8 459.9h.1M373.4 466.1h.1M372.9 445.5h.1M359.1 464.3h.1M378.9 452.3h.1M372.9 467.8h.1M366.1 452.0h.1M372.3 459.2h.1M370.5 460.7h.1M370.4 463.9h.1M368.3 461.8h.1M368.1 456.5h.1M372.7 456.7h.1M373.6 461.8h.1M376.3 465.7h.1M361.0 461.8h.1M374.2 462.7h.1M371.2 468.8h.1M374.3 453.5h.1M371.4 468.3h.1M371.7 453.9h.1M374.8 465.8h.1M376.7 463.1h.1M371.5 467.4h.1M365.5 472.8h.1M372.9 463.4h.1M374.7 467.0h.1M360.0 467.9h.1M370.4 457.0h.1M375.4 467.9h.1M372.8 458.0h.1M371.5 455.9h.1M383.5 457.8h.1M375.3 472.3h.1M366.7 458.6h.1M359.8 460.4h.1M364.3 463.0h.1M369.8 462.0h.1M371.1 459.0h.1M371.5 461.5h.1M367.4 460.0h.1M368.1 453.8h.1M370.8 450.2h.1M373.6 461.8h.1M371.8 469.3h.1M375.7 459.2h.1M372.7 469.5h.1M370.2 464.4h.1M373.0 455.4h.1M372.3 459.5h.1M369.6 464.7h.1M374.2 456.3h.1M369.7 460.7h.1M366.2 464.3h.1M369.9 457.5h.1M375.6 461.4h.1M365.2 461.4h.1M370.0 463.8h.1M382.2 465.5h.1M378.1 460.9h.1M373.3 465.1h.1M370.4 463.5h.1M368.7 466.4h.1M366.4 472.8h.1M370.3 464.3h.1M371.7 451.7h.1M373.1 456.4h.1M371.9 459.3h.1M369.6 452.3h.1M364.4 458.4h.1M365.6 463.5h.1M364.0 463.4h.1M373.7 457.2h.1M366.2 459.8h.1M374.9 470.8h.1M381.7 462.5h.1M374.0 463.2h.1M370.8 455.2h.1M369.2 469.1h.1M377.8 458.1h.1M362.9 473.9h.1M371.1 464.9h.1M370.1 450.5h.1M372.5 455.8h.1M369.5 458.0h.1M369.6 477.2h.1M378.4 449.6h.1M363.2 458.8h.1M367.6 466.9h.1M378.7 457.3h.1M373.8 460.6h.1M361.1 469.4h.1M379.6 456.8h.1M374.1 458.7h.1M370.4 459.1h.1M370.2 462.3h.1M367.9 463.7h.1M364.5 467.1h.1M366.2 450.2h.1M375.1 459.8h.1M368.3 467.8h.1M370.8 474.3h.1M373.1 452.9h.1M368.4 457.7h.1M369.5 472.7h.1M384.5 472.8h.1M373.2 465.5h.1M371.8 447.9h.1M377.9 474.6h.1M368.3 461.8h.1M367.4 460.7h.1M366.6 454.8h.1M376.9 449.6h.1M376.1 454.7h.1M369.7 449.2h.1M374.2 455.6h.1M383.4 456.1h.1M372.2 466.2h.1M366.1 456.7h.1M365.6 465.5h.1M372.4 468.4h.1M363.8 456.1h.1M370.3 459.1h.1M372.5 469.1h.1M371.6 456.9h.1M370.7 457.4h.1M367.7 473.8h.1M374.3 473.6h.1M369.9 461.5h.1M364.6 463.5h.1M374.6 466.4h.1M365.1 462.7h.1M375.5 459.0h.1M374.4 458.8h.1M370.9 458.3h.1M363.5 456.7h.1M371.8 460.2h.1M370.9 458.3h.1M375.3 460.8h.1M372.9 458.9h.1M377.4 461.3h.1M373.1 476.0h.1M373.1 452.1h.1M367.6 464.0h.1M364.4 452.6h.1M370.3 451.9h.1M376.4 464.7h.1M369.4 469.7h.1M367.6 454.4h.1M375.5 462.1h.1M369.8 468.5h.1M370.3 466.1h.1M372.0 469.3h.1M373.7 459.0h.1M378.4 459.7h.1M379.6 453.9h.1M371.2 447.8h.1M373.5 470.5h.1M369.0 465.0h.1M369.8 471.1h.1M372.6 464.2h.1M376.4 452.3h.1M374.4 462.8h.1M377.4 462.2h.1M374.0 461.6h.1M366.0 458.8h.1M370.1 453.5h.1M370.7 459.0h.1M380.0 460.4h.1M371.6 462.6h.1M374.4 451.8h.1M362.3 472.0h.1M366.8 456.3h.1M376.8 463.9h.1M367.0 466.7h.1M365.3 472.3h.1M369.4 464.1h.1M370.9 474.2h.1M366.2 461.4h.1M381.6 449.0h.1M368.5 463.7h.1M369.9 464.8h.1M376.7 454.8h.1M367.7 470.3h.1M380.7 445.0h.1M373.7 468.3h.1M367.6 456.5h.1M365.3 460.7h.1M365.3 466.5h.1M367.6 465.3h.1M363.2 467.6h.1M374.3 468.0h.1M372.3 476.6h.1M375.8 462.3h.1M379.0 459.7h.1M371.8 472.4h.1M368.7 462.0h.1M372.2 463.2h.1M369.8 468.4h.1M381.7 459.5h.1M363.7 459.0h.1M364.1 453.9h.1M365.8 468.7h.1M371.8 466.5h.1M370.4 468.5h.1M369.0 470.3h.1M375.4 463.4h.1M363.7 455.0h.1M372.3 455.4h.1M370.2 461.0h.1M377.9 457.7h.1M371.7 459.1h.1M367.2 464.8h.1M375.8 453.0h.1M403.3 488.8h.1M397.7 481.7h.1M392.6 477.8h.1M398.3 479.1h.1M402.8 475.8h.1M396.0 481.7h.1M396.7 478.5h.1M396.5 481.2h.1M388.9 490.3h.1M400.1 475.1h.1M393.2 474.8h.1M398.8 471.8h.1M407.3 477.2h.1M391.1 488.1h.1M397.0 481.6h.1M396.2 478.4h.1M405.7 471.3h.1M398.1 476.4h.1M395.6 479.2h.1M389.3 482.1h.1M397.9 481.8h.1M394.5 482.6h.1M395.1 482.7h.1M402.7 482.1h.1M391.0 479.8h.1M392.7 487.6h.1M397.9 474.2h.1M390.6 485.0h.1M392.8 481.2h.1M395.6 478.9h.1M395.2 479.5h.1M403.8 475.9h.1M399.2 481.5h.1M394.2 475.0h.1M393.3 481.9h.1M397.7 483.8h.1M398.6 480.0h.1M397.1 480.5h.1M397.2 482.3h.1M393.4 484.0h.1M403.9 479.1h.1M399.4 474.6h.1M397.4 473.6h.1M401.2 479.7h.1M401.6 484.2h.1M393.9 482.9h.1M403.5 488.7h.1M396.6 481.8h.1M394.3 482.1h.1M399.5 485.5h.1M396.4 479.8h.1M399.1 478.8h.1M405.7 470.4h.1M389.8 477.4h.1M399.9 479.6h.1M398.8 473.3h.1M399.5 481.8h.1M403.9 482.9h.1M394.4 476.5h.1M392.3 477.5h.1M396.6 484.7h.1M404.0 479.8h.1M399.5 478.8h.1M391.6 481.7h.1M394.0 472.9h.1M393.5 485.7h.1M392.1 485.1h.1M391.3 479.2h.1M399.2 477.9h.1M392.9 479.5h.1M404.1 482.2h.1M397.9 481.9h.1M402.0 485.0h.1M395.9 475.9h.1M392.9 479.8h.1M395.8 479.6h.1M394.4 489.8h.1M394.1 485.4h.1M393.4 476.3h.1M392.1 475.0h.1M390.1 476.1h.1M396.0 482.4h.1M389.5 481.3h.1M396.5 479.5h.1M387.9 481.5h.1M399.9 484.2h.1M395.8 484.6h.1M397.3 475.8h.1M399.2 483.5h.1M398.0 479.4h.1M396.0 482.3h.1M389.4 480.8h.1M391.6 477.4h.1M397.9 484.6h.1M397.0 475.7h.1M408.6 480.9h.1M385.6 479.1h.1M393.9 477.0h.1M401.5 488.3h.1M397.5 474.0h.1M400.7 479.9h.1M395.3 480.4h.1M392.1 480.3h.1M398.5 484.4h.1M405.5 477.0h.1M398.6 476.3h.1M397.5 484.3h.1M399.8 478.3h.1M404.7 483.2h.1M402.2 479.9h.1M402.7 478.9h.1M400.7 479.7h.1M397.0 473.2h.1M401.2 481.9h.1M394.4 479.8h.1M399.6 482.2h.1M388.2 485.6h.1M392.7 487.3h.1M401.9 480.1h.1M397.9 480.7h.1M395.3 485.8h.1M394.2 477.3h.1M396.0 473.0h.1M401.5 474.7h.1M403.5 483.4h.1M405.7 477.1h.1M395.7 477.7h.1M400.4 475.9h.1M395.7 470.0h.1M397.2 480.4h.1M405.5 476.1h.1M401.2 481.9h.1M400.8 475.0h.1M382.1 477.5h.1M401.2 480.2h.1M403.2 488.4h.1M394.0 477.8h.1M403.6 472.7h.1M386.3 480.7h.1M398.5 485.8h.1M400.2 479.4h.1M394.6 472.0h.1M399.3 477.0h.1M395.4 480.9h.1M388.2 479.2h.1M394.4 487.8h.1M396.5 484.2h.1M392.8 473.0h.1M400.9 478.1h.1M391.2 484.0h.1M399.2 472.4h.1M396.0 487.8h.1M397.5 473.9h.1M393.4 485.3h.1M403.5 482.4h.1M390.5 483.0h.1M393.5 477.4h.1M394.9 484.0h.1M399.2 481.9h.1M395.1 477.4h.1M401.7 477.0h.1M395.8 481.9h.1M396.3 483.7h.1M399.5 482.2h.1M407.1 477.3h.1M406.1 474.2h.1M393.6 469.1h.1M394.1 476.2h.1M400.1 484.8h.1M407.1 477.3h.1M401.7 478.8h.1M389.0 462.0h.1M395.5 471.4h.1M400.8 475.6h.1M399.9 476.7h.1M399.1 475.5h.1M398.8 487.2h.1M398.7 473.7h.1M393.6 480.1h.1M400.6 474.3h.1M393.1 472.7h.1M404.7 480.8h.1M398.5 477.7h.1M405.4 482.0h.1M396.6 484.7h.1M399.6 478.3h.1M395.5 479.5h.1M403.1 473.5h.1M389.8 482.4h.1M401.7 485.7h.1M399.6 473.2h.1M400.6 480.2h.1M392.6 472.7h.1M390.3 479.8h.1M391.4 481.0h.1M396.4 482.2h.1M400.8 475.6h.1M395.4 482.7h.1M394.2 483.8h.1M399.6 483.3h.1M394.4 482.9h.1M396.1 480.5h.1M399.8 477.1h.1M396.8 469.4h.1M394.0 482.2h.1M392.3 470.5h.1M390.8 478.2h.1M400.0 481.8h.1M390.9 481.2h.1M391.7 484.2h.1M398.7 476.8h.1M395.0 479.2h.1M394.5 484.5h.1M398.4 477.1h.1M399.0 473.6h.1M397.7 478.1h.1M394.6 479.3h.1M398.0 473.3h.1M398.6 492.1h.1M400.5 477.0h.1M398.6 486.6h.1M392.4 486.6h.1M395.5 487.6h.1M393.5 484.0h.1M394.6 484.9h.1M400.9 480.9h.1M393.4 484.0h.1M398.6 474.9h.1M399.4 478.8h.1M396.5 475.3h.1M397.9 483.2h.1M393.4 482.9h.1M389.2 480.0h.1M398.2 475.4h.1M397.7 473.9h.1M405.1 481.2h.1M401.7 475.5h.1M387.4 479.1h.1M402.8 478.8h.1M402.0 481.2h.1M398.4 484.0h.1M394.5 477.7h.1M401.7 481.5h.1M394.7 474.9h.1M403.4 465.6h.1M400.9 478.9h.1M391.5 481.2h.1M399.1 489.3h.1M398.3 468.7h.1M393.1 482.8h.1M395.0 479.2h.1M396.7 485.6h.1M398.4 478.8h.1M394.3 483.8h.1M394.1 481.3h.1M398.8 482.7h.1M400.3 480.7h.1M405.3 482.9h.1M393.9 475.6h.1M394.1 485.2h.1M392.4 486.2h.1M398.8 477.0h.1M392.8 479.1h.1M400.2 479.2h.1M400.0 480.2h.1M402.7 477.4h.1M396.5 474.7h.1M395.7 475.2h.1M390.7 478.5h.1M399.9 469.9h.1M391.7 473.5h.1M398.6 481.9h.1M398.4 478.7h.1M393.8 480.3h.1M393.4 478.5h.1M398.7 478.4h.1M402.0 470.2h.1M390.4 483.8h.1M394.7 477.5h.1M394.7 479.2h.1M396.4 481.0h.1M400.9 487.4h.1M388.2 479.0h.1M393.3 480.4h.1M392.8 479.8h.1M398.2 479.3h.1M398.0 482.3h.1M392.6 479.3h.1M401.4 483.5h.1M401.1 475.9h.1M394.3 483.7h.1M397.0 480.7h.1M395.6 483.4h.1M397.7 475.2h.1M398.6 478.0h.1M395.9 481.9h.1M397.6 477.0h.1M392.2 477.6h.1M396.5 474.4h.1M394.5 489.4h.1M394.4 479.8h.1M391.9 478.1h.1M398.0 480.2h.1M390.0 479.6h.1M393.0 484.1h.1M396.6 486.3h.1M398.5 474.5h.1M400.9 477.4h.1M396.6 479.9h.1M391.7 484.5h.1M397.6 475.1h.1M391.3 481.5h.1M402.0 481.2h.1M398.3 477.7h.1M401.5 481.8h.1M393.7 476.9h.1M388.1 484.4h.1M409.4 479.0h.1M398.8 482.8h.1M396.1 488.6h.1M392.8 475.9h.1M403.7 483.4h.1M400.1 479.1h.1M396.8 480.1h.1M398.8 476.9h.1M401.3 486.9h.1M394.8 475.4h.1M397.5 490.0h.1M393.0 485.2h.1M394.2 476.3h.1M401.5 478.8h.1M396.8 482.5h.1M401.7 480.5h.1M403.5 476.6h.1M394.9 482.4h.1M399.7 472.1h.1M395.7 482.4h.1M396.4 487.2h.1M390.5 480.4h.1M393.5 472.7h.1M396.0 479.3h.1M395.3 476.8h.1M400.6 475.1h.1M394.4 473.6h.1M401.8 473.3h.1M404.1 475.6h.1M396.8 486.4h.1M392.6 485.1h.1M391.6 477.6h.1M399.3 481.0h.1M398.4 480.9h.1M403.5 472.7h.1M394.2 483.2h.1M390.9 476.6h.1M407.1 485.3h.1M399.1 479.9h.1M396.3 475.8h.1M393.4 475.4h.1M391.7 480.1h.1M398.8 475.6h.1M397.6 473.9h.1M398.6 478.2h.1M396.7 480.4h.1M402.4 480.5h.1M394.3 480.2h.1M398.6 481.8h.1M401.4 476.1h.1M392.1 482.2h.1M392.3 481.5h.1M408.3 484.9h.1M390.9 476.1h.1M398.6 478.4h.1M399.9 480.6h.1M398.4 481.9h.1M390.5 484.4h.1M391.1 475.8h.1M387.0 479.6h.1M398.7 478.0h.1M392.0 470.3h.1M399.3 474.7h.1M395.5 480.6h.1M396.7 481.3h.1M403.9 482.6h.1M392.8 479.4h.1M396.1 475.9h.1M399.7 477.9h.1M398.0 482.3h.1M405.8 477.0h.1M400.0 488.7h.1M403.7 480.9h.1M393.9 480.3h.1M394.4 477.8h.1M389.8 478.4h.1M388.7 483.8h.1M399.2 477.9h.1M397.2 480.1h.1M396.0 480.8h.1M396.3 481.5h.1M393.6 479.9h.1M404.0 476.2h.1M393.7 483.6h.1M398.3 480.3h.1M397.8 477.9h.1M394.8 481.8h.1M397.8 482.3h.1M398.9 489.1h.1M397.4 485.6h.1M397.7 489.2h.1M401.1 476.4h.1M403.7 477.2h.1M401.3 476.4h.1M398.5 480.3h.1M403.0 470.5h.1M389.0 483.8h.1M400.2 477.5h.1M397.4 472.2h.1M395.4 476.8h.1M400.7 480.7h.1M396.4 484.6h.1M394.3 482.9h.1M396.1 481.6h.1M395.8 485.6h.1M395.2 488.2h.1M400.4 476.1h.1M395.2 485.4h.1M403.2 474.5h.1M397.7 482.3h.1M407.0 482.5h.1M396.2 483.6h.1M397.4 476.0h.1M396.9 478.7h.1M396.1 480.0h.1M398.5 476.4h.1M399.9 473.0h.1M399.8 481.8h.1M398.8 473.4h.1M394.9 480.6h.1M399.0 482.9h.1M390.6 479.8h.1M401.6 474.8h.1M391.9 477.7h.1M395.9 478.6h.1M402.3 480.9h.1M389.0 483.1h.1M397.4 483.4h.1M396.9 485.6h.1M397.7 477.7h.1M392.0 483.7h.1M396.5 472.3h.1M400.6 485.3h.1M388.2 482.2h.1M399.8 487.1h.1M402.2 476.6h.1M399.0 482.9h.1M390.8 485.9h.1M399.1 483.3h.1M393.3 483.3h.1M396.9 478.5h.1M397.2 481.2h.1M390.7 479.8h.1M398.6 472.9h.1M404.2 490.7h.1M399.9 479.8h.1M392.7 475.1h.1M391.9 483.5h.1M393.4 480.6h.1M395.2 483.6h.1M402.4 483.7h.1M399.8 484.3h.1M404.2 476.1h.1M398.2 477.0h.1M397.2 478.9h.1M397.5 482.8h.1M391.6 468.8h.1M398.2 484.3h.1M395.4 486.1h.1M406.6 480.1h.1M396.1 482.0h.1M400.3 473.5h.1M399.1 471.1h.1M392.5 480.8h.1M398.4 474.8h.1M397.2 485.3h.1M390.1 482.2h.1M402.4 474.1h.1M402.1 481.7h.1M395.7 479.9h.1M396.9 480.0h.1M396.2 476.7h.1M400.9 487.1h.1M396.2 485.9h.1M393.8 474.4h.1M399.7 480.9h.1M398.9 475.8h.1M395.4 484.2h.1M403.8 480.9h.1M398.7 468.7h.1M394.3 485.4h.1M405.1 476.3h.1M386.3 482.0h.1M391.5 478.1h.1M394.5 478.3h.1M393.0 482.6h.1M398.3 474.3h.1M390.4 488.7h.1M399.4 480.7h.1M389.9 489.0h.1M392.6 480.4h.1M398.4 476.8h.1M397.5 477.9h.1M388.3 474.0h.1M394.4 477.6h.1M398.8 486.9h.1M396.0 489.1h.1M395.2 480.3h.1M396.1 472.7h.1M396.7 479.0h.1M393.5 483.0h.1M398.7 478.5h.1M393.3 481.1h.1M393.6 476.2h.1M394.9 483.9h.1M395.8 479.2h.1M395.6 482.4h.1M396.3 483.4h.1M396.3 483.5h.1M395.7 476.7h.1M398.7 479.0h.1M395.0 486.0h.1M394.9 476.5h.1M395.5 486.0h.1M391.3 484.8h.1M399.1 478.2h.1M395.5 476.8h.1M388.4 475.9h.1M391.1 473.1h.1M395.1 482.4h.1M393.0 478.5h.1M393.7 479.0h.1M398.6 485.1h.1M399.4 481.5h.1M402.7 483.0h.1M398.9 482.3h.1M400.3 475.5h.1M393.2 480.3h.1M389.4 478.7h.1M395.5 481.3h.1M399.8 485.5h.1M386.9 480.8h.1M398.3 486.0h.1M394.2 481.7h.1M396.2 475.9h.1M397.9 484.0h.1M395.4 480.3h.1M401.4 479.1h.1M395.5 481.2h.1M398.7 481.6h.1M402.0 481.8h.1M391.8 473.0h.1M396.4 487.1h.1M397.0 478.0h.1M398.0 482.2h.1M402.0 474.5h.1M400.0 480.7h.1M400.2 484.5h.1M387.5 483.8h.1M398.9 476.6h.1M396.3 484.4h.1M390.5 483.7h.1M400.1 487.4h.1M393.3 477.3h.1M401.0 478.7h.1M398.5 468.8h.1M406.8 472.0h.1M389.9 482.0h.1M398.9 476.5h.1M387.5 482.2h.1M397.7 476.0h.1M397.3 477.4h.1M392.5 482.9h.1M396.8 480.1h.1M391.6 476.9h.1M395.6 477.3h.1M398.2 480.0h.1M395.8 479.2h.1M398.5 484.2h.1M392.2 484.0h.1M400.5 483.3h.1M394.4 480.8h.1M405.6 474.2h.1M400.3 478.8h.1M403.7 480.5h.1M400.3 477.2h.1M394.7 486.8h.1M391.4 477.7h.1M395.7 474.6h.1M399.4 474.7h.1M397.0 478.9h.1M387.5 480.5h.1M390.3 480.0h.1M387.0 477.6h.1M400.2 481.1h.1M401.5 486.9h.1M399.8 479.1h.1M396.3 482.6h.1M391.5 475.4h.1M396.7 487.4h.1M392.1 481.0h.1M393.8 483.0h.1M398.2 479.7h.1M400.6 478.8h.1M389.8 488.9h.1M396.3 481.2h.1M400.0 476.4h.1M394.8 476.7h.1M399.2 481.6h.1M397.6 474.3h.1M393.3 473.7h.1M391.0 476.7h.1M398.0 482.0h.1M389.2 482.6h.1M398.3 486.7h.1M400.3 473.4h.1M398.8 480.9h.1M398.1 476.7h.1M402.8 480.3h.1M394.3 472.1h.1M395.7 474.0h.1M390.6 486.9h.1M396.5 484.1h.1M401.4 483.0h.1M395.0 474.8h.1M396.1 480.4h.1M396.1 478.6h.1M397.3 473.7h.1M401.2 474.8h.1M397.3 476.1h.1M402.4 477.5h.1M392.9 478.3h.1M400.4 474.6h.1M391.3 477.6h.1M399.9 467.2h.1M400.6 489.6h.1M396.0 483.9h.1M396.2 471.9h.1M394.9 482.5h.1M392.1 478.6h.1M394.0 481.5h.1M407.2 480.2h.1M391.3 487.0h.1M395.5 478.1h.1M398.9 483.2h.1M397.7 481.4h.1M397.5 474.6h.1M400.1 483.6h.1M393.4 472.3h.1M394.2 480.6h.1M402.7 480.8h.1M383.0 477.2h.1M397.0 480.9h.1M390.3 478.3h.1M397.3 482.9h.1M400.2 487.0h.1M393.9 478.0h.1M394.9 482.0h.1M405.2 480.6h.1M397.4 475.9h.1M391.3 487.6h.1M396.4 486.0h.1M400.2 477.7h.1M397.8 475.9h.1M399.4 479.2h.1M400.1 485.3h.1M394.3 483.3h.1M398.6 477.6h.1M397.9 485.2h.1M397.5 484.1h.1M398.2 485.3h.1M396.2 478.4h.1M399.5 469.9h.1M394.6 486.5h.1M393.6 487.9h.1M403.6 477.7h.1M393.6 481.6h.1M400.6 487.5h.1M403.3 476.8h.1M400.5 477.6h.1M401.4 481.9h.1M402.9 479.5h.1M400.3 474.3h.1M392.7 482.1h.1M397.2 483.7h.1M406.6 477.1h.1M391.8 475.2h.1M394.2 484.9h.1M398.4 478.5h.1M399.7 479.1h.1M397.9 479.8h.1M391.0 483.4h.1M397.6 489.5h.1M397.2 477.2h.1M397.6 476.7h.1M396.7 478.2h.1M398.3 475.8h.1M396.4 478.0h.1M392.7 479.5h.1M399.8 483.0h.1M398.2 479.3h.1M400.9 478.6h.1M399.7 472.2h.1M391.7 476.6h.1M401.7 478.6h.1M398.8 475.0h.1M390.4 492.1h.1M403.9 487.5h.1M396.9 476.9h.1M398.0 478.7h.1M394.9 468.9h.1M397.8 470.1h.1M394.7 473.1h.1M405.4 474.2h.1M395.2 481.4h.1M395.5 480.9h.1M400.8 477.0h.1M399.1 479.2h.1M391.2 481.0h.1M392.3 484.3h.1M396.9 480.5h.1M401.2 476.1h.1M393.5 486.1h.1M400.0 481.7h.1M388.3 479.9h.1M392.8 477.1h.1M389.8 472.6h.1M395.0 481.4h.1M394.7 479.0h.1M397.2 485.7h.1M394.4 480.3h.1M408.8 479.6h.1M400.4 474.5h.1M392.3 477.8h.1M410.2 477.0h.1M403.0 477.5h.1M391.5 471.5h.1M397.6 484.4h.1M393.5 478.0h.1M392.1 476.5h.1M401.3 477.3h.1M392.4 482.4h.1M398.1 479.5h.1M405.9 481.0h.1M402.0 474.3h.1M396.6 485.3h.1M400.2 483.7h.1M390.5 478.5h.1M404.3 486.1h.1M383.4 471.4h.1M402.9 483.2h.1M402.8 467.4h.1M397.3 483.2h.1M402.3 475.4h.1M401.6 483.2h.1M394.7 486.7h.1M402.6 483.6h.1M394.9 480.9h.1M396.8 487.0h.1M407.8 475.9h.1M405.8 481.6h.1M393.9 476.5h.1M403.8 481.1h.1M394.0 478.8h.1M395.2 479.1h.1M405.0 476.7h.1M395.6 466.3h.1M399.2 483.8h.1M406.1 477.0h.1M395.6 477.9h.1M391.4 479.7h.1M393.5 478.7h.1M397.7 483.0h.1M397.2 490.3h.1M398.5 482.0h.1M399.3 479.3h.1M401.3 480.4h.1M391.0 477.4h.1M403.6 472.6h.1M404.9 480.2h.1M398.1 485.2h.1M398.0 477.6h.1M387.2 477.0h.1M391.7 482.7h.1M397.4 475.5h.1M402.3 483.6h.1M407.0 480.8h.1M391.4 480.1h.1M400.4 483.6h.1M391.1 481.8h.1M400.0 481.4h.1M389.7 477.6h.1M396.5 478.7h.1M401.1 478.0h.1M388.7 470.3h.1M399.2 476.1h.1M396.8 484.5h.1M394.6 479.5h.1M390.5 474.3h.1M399.6 484.7h.1M394.0 478.8h.1M398.5 477.7h.1M397.3 477.9h.1M399.7 477.4h.1M394.9 473.6h.1M393.5 473.1h.1M396.4 484.0h.1M391.2 475.9h.1M393.5 481.6h.1M395.6 478.2h.1M392.7 478.4h.1M395.4 476.1h.1M403.4 481.7h.1M396.3 481.0h.1M407.4 482.3h.1M394.6 479.5h.1M402.2 481.6h.1M395.8 480.0h.1M391.9 478.2h.1M395.2 478.5h.1M403.1 479.7h.1M402.2 479.6h.1M390.2 484.9h.1M394.6 479.1h.1M402.0 485.7h.1M397.7 485.1h.1M394.8 482.4h.1M392.9 483.8h.1M394.5 482.4h.1M391.6 485.8h.1M404.4 478.4h.1M397.3 475.4h.1M396.1 473.3h.1M400.3 479.3h.1M402.3 479.6h.1M396.0 476.0h.1M399.9 479.0h.1M391.6 473.1h.1M401.3 479.1h.1M396.7 477.2h.1M394.6 479.5h.1M397.9 474.4h.1M408.2 483.5h.1M386.2 475.4h.1M404.9 471.7h.1M389.6 477.8h.1M394.2 475.0h.1M408.2 475.1h.1M406.2 471.0h.1M386.8 473.1h.1M395.6 478.5h.1M400.7 464.9h.1M391.1 472.8h.1M393.5 471.7h.1M396.0 475.9h.1M388.8 470.3h.1M392.4 481.2h.1M396.9 467.4h.1M401.0 479.8h.1M388.1 468.8h.1M400.8 475.3h.1M401.8 483.3h.1M402.1 480.2h.1M395.0 482.3h.1M393.7 476.8h.1M385.6 472.9h.1M402.8 470.3h.1M395.1 463.9h.1M395.9 468.3h.1M398.4 472.6h.1M393.8 473.3h.1M395.5 475.0h.1M396.4 480.9h.1M404.5 462.2h.1M406.3 473.9h.1M400.2 470.4h.1M401.7 478.0h.1M394.6 469.2h.1M401.2 477.3h.1M392.5 464.1h.1M391.2 477.0h.1M405.8 470.0h.1M394.5 469.5h.1M400.2 471.0h.1M408.3 478.0h.1M396.8 472.9h.1M404.2 473.0h.1M395.7 475.5h.1M404.5 482.3h.1M395.9 468.7h.1M392.5 474.1h.1M402.0 461.6h.1M402.0 477.1h.1M399.3 467.4h.1M398.7 472.3h.1M392.3 478.1h.1M405.7 475.9h.1M401.6 480.1h.1M398.3 472.8h.1M407.2 471.8h.1M396.3 476.7h.1M395.6 470.1h.1M404.8 474.9h.1M393.9 472.0h.1M401.7 479.1h.1M399.3 480.8h.1M398.0 483.0h.1M403.6 469.1h.1M397.6 476.6h.1M398.0 469.9h.1M401.0 474.6h.1M389.1 468.5h.1M395.8 479.7h.1M397.9 475.9h.1M403.9 473.8h.1M398.3 474.6h.1M403.6 471.6h.1M400.5 471.3h.1M398.7 480.5h.1M393.4 477.4h.1M398.6 476.1h.1M401.3 475.3h.1M401.2 484.1h.1M394.1 469.5h.1M402.7 476.9h.1M410.1 471.8h.1M402.5 472.2h.1M395.3 471.9h.1M393.4 470.2h.1M396.3 474.1h.1M398.6 479.0h.1M392.9 474.5h.1M393.0 479.1h.1M392.8 473.2h.1M393.6 480.4h.1M391.0 469.2h.1M395.9 473.2h.1M392.8 480.6h.1M395.0 464.4h.1M397.0 468.3h.1M394.4 472.5h.1M392.9 472.8h.1M395.9 478.1h.1M413.1 471.4h.1M395.5 480.6h.1M408.3 478.9h.1M396.7 484.7h.1M398.7 481.0h.1M395.0 468.7h.1M406.1 470.5h.1M392.1 475.6h.1M392.7 478.3h.1M398.7 473.9h.1M394.9 482.3h.1M406.3 480.7h.1M390.5 483.3h.1M398.8 483.6h.1M401.4 471.5h.1M388.5 471.6h.1M405.3 472.7h.1M407.9 468.5h.1M402.0 474.4h.1M390.0 476.9h.1M395.9 473.5h.1M386.0 469.9h.1M394.3 474.2h.1M393.3 485.2h.1M395.8 476.0h.1M396.3 481.4h.1M401.6 480.0h.1M389.2 475.8h.1M397.3 478.2h.1M394.3 475.7h.1M392.4 473.2h.1M400.3 472.4h.1M393.2 474.3h.1M400.1 477.1h.1M391.2 472.8h.1M391.3 469.9h.1M412.1 481.1h.1M402.3 473.5h.1M403.2 482.8h.1M405.4 478.6h.1M392.4 487.0h.1M402.6 479.3h.1M400.2 476.9h.1M395.8 466.4h.1M408.6 488.1h.1M401.0 478.4h.1M398.0 478.8h.1M397.2 474.6h.1M401.8 466.4h.1M406.3 473.0h.1M401.3 478.1h.1M407.5 483.5h.1M390.5 470.1h.1M399.1 466.7h.1M401.7 474.4h.1M393.5 479.2h.1M392.6 471.2h.1M398.0 479.3h.1M396.9 473.2h.1M399.2 473.1h.1M387.1 479.6h.1M400.9 480.5h.1M398.8 477.4h.1M388.2 468.1h.1M386.7 480.9h.1M393.9 481.7h.1M400.5 472.7h.1M397.4 471.0h.1M395.3 476.7h.1M402.0 472.5h.1M388.6 480.7h.1M391.4 478.6h.1M389.0 470.4h.1M386.2 478.3h.1M400.5 490.7h.1M409.0 475.6h.1M385.8 473.8h.1M399.4 476.8h.1M398.8 469.9h.1M396.1 484.5h.1M394.7 473.0h.1M390.8 471.8h.1M405.0 476.8h.1M394.8 473.1h.1M402.7 472.1h.1M393.1 473.4h.1M382.7 480.7h.1M393.0 478.8h.1M397.8 480.1h.1M394.7 487.4h.1M401.1 473.9h.1M399.7 464.5h.1M391.1 464.6h.1M396.2 486.0h.1M399.8 467.6h.1M388.6 476.9h.1M401.5 473.9h.1M406.4 476.2h.1M409.8 479.2h.1M410.0 461.6h.1M390.3 483.3h.1M399.7 481.8h.1M385.7 479.6h.1M383.2 481.6h.1M401.2 464.0h.1M374.8 465.2h.1M373.0 479.2h.1M382.9 480.1h.1M389.9 480.5h.1M376.3 476.0h.1M366.9 473.4h.1M379.2 480.0h.1M360.2 485.9h.1M379.6 464.4h.1M378.4 481.6h.1M381.7 473.6h.1M369.1 478.8h.1M382.5 479.4h.1M375.5 486.9h.1M357.1 476.9h.1M359.5 461.3h.1M382.7 483.7h.1M376.7 480.6h.1M378.1 486.3h.1M372.8 481.3h.1M384.6 464.3h.1M395.4 472.3h.1M365.8 471.7h.1M391.3 473.7h.1M390.3 469.4h.1M383.6 463.1h.1M376.6 487.4h.1M373.6 478.4h.1M357.1 490.3h.1M377.4 480.6h.1M375.3 468.7h.1M375.8 474.3h.1M367.0 475.7h.1M367.8 473.0h.1M384.2 478.7h.1M377.2 480.3h.1M402.1 479.8h.1M381.7 476.3h.1M384.5 482.1h.1M392.4 480.8h.1M372.4 476.1h.1M370.4 487.7h.1M371.4 464.0h.1M377.3 470.1h.1M382.6 478.1h.1M369.3 464.7h.1M375.8 466.6h.1M377.6 478.4h.1M375.0 478.2h.1M374.9 490.1h.1M357.4 468.3h.1M394.3 467.2h.1M387.9 475.2h.1M380.0 465.7h.1M374.7 475.7h.1M374.3 459.0h.1M381.9 474.1h.1M360.6 486.0h.1M378.2 467.9h.1M368.5 479.2h.1M372.8 482.5h.1M363.9 478.9h.1M385.5 481.0h.1M369.4 469.3h.1M365.3 477.6h.1M376.2 486.4h.1M375.7 487.3h.1M376.4 484.9h.1M392.3 479.2h.1M363.8 480.2h.1M381.6 474.4h.1M376.7 482.4h.1M399.9 471.6h.1M395.1 473.2h.1M375.8 474.1h.1M379.3 470.8h.1M372.1 475.1h.1M368.0 476.4h.1M392.4 470.3h.1M382.0 470.9h.1M365.1 476.7h.1M376.0 484.7h.1M388.4 477.6h.1M371.4 487.5h.1M363.1 470.8h.1M388.7 480.0h.1M387.3 475.1h.1M388.6 486.0h.1M355.4 481.0h.1M391.7 468.7h.1M367.6 479.7h.1M387.3 476.7h.1M359.1 478.5h.1M378.2 473.8h.1M392.4 460.0h.1M380.8 472.1h.1M386.8 474.3h.1M401.1 478.2h.1M372.8 464.0h.1M376.1 476.4h.1M399.2 479.7h.1M381.8 469.6h.1M382.1 469.2h.1M361.9 480.3h.1M373.9 466.3h.1M393.8 486.4h.1M385.1 463.9h.1M369.1 469.2h.1M390.9 475.9h.1M369.0 465.9h.1M370.4 478.1h.1M376.5 480.7h.1M386.1 467.9h.1M390.0 477.0h.1M399.7 475.7h.1M375.1 475.8h.1M394.9 480.8h.1M394.3 484.9h.1M378.5 475.0h.1M393.6 467.7h.1M383.7 484.6h.1M368.5 461.9h.1M361.9 485.6h.1M410.9 469.8h.1M363.3 466.9h.1M399.3 482.7h.1M388.2 471.1h.1M388.0 471.0h.1M386.9 470.8h.1M363.9 473.2h.1M385.0 479.3h.1M372.9 483.9h.1M359.7 461.4h.1M387.3 475.5h.1M379.3 473.1h.1M386.5 478.5h.1M397.2 469.3h.1M364.1 475.7h.1M376.7 474.3h.1M401.0 479.5h.1M395.4 481.4h.1M383.3 479.8h.1M393.6 480.3h.1M388.2 476.2h.1M370.6 479.5h.1M374.9 481.2h.1M376.2 487.1h.1M370.8 464.4h.1M366.3 463.4h.1M371.0 473.8h.1M369.5 457.3h.1M359.9 454.3h.1M376.8 478.1h.1M368.9 470.5h.1M358.2 470.4h.1M366.2 466.2h.1M374.5 455.8h.1M369.6 480.8h.1M373.4 460.4h.1M377.0 472.2h.1M367.1 476.6h.1M375.0 474.7h.1M366.7 475.6h.1M370.9 491.8h.1M368.9 465.5h.1M379.9 486.9h.1M377.4 465.4h.1M365.3 461.5h.1M368.0 485.4h.1M374.3 474.1h.1M370.1 478.0h.1M368.0 464.4h.1M364.7 488.3h.1M363.3 463.6h.1M372.2 470.7h.1M366.8 475.1h.1M368.0 459.1h.1M374.4 475.6h.1M379.0 481.2h.1M365.4 469.8h.1M364.7 454.2h.1M373.2 467.7h.1M374.7 475.3h.1M368.2 488.0h.1M363.3 489.2h.1M366.7 492.7h.1M375.8 469.1h.1M379.3 477.5h.1M371.0 470.2h.1M368.6 470.1h.1M366.9 480.8h.1M373.8 484.7h.1M376.1 473.1h.1M373.4 471.5h.1M372.4 479.3h.1M371.2 466.7h.1M362.0 488.9h.1M364.3 468.3h.1M371.3 470.4h.1M371.5 485.9h.1M359.9 474.6h.1M372.6 461.4h.1M373.4 486.9h.1M369.2 478.0h.1M367.3 482.5h.1M366.0 473.9h.1M365.1 467.4h.1M375.8 473.3h.1M374.3 459.7h.1M362.0 465.8h.1M380.3 484.1h.1M382.2 469.9h.1M372.6 477.1h.1M367.5 479.1h.1M368.9 478.1h.1M358.6 464.6h.1M363.2 488.7h.1M374.3 465.3h.1M372.0 468.8h.1M362.4 465.7h.1M386.7 474.6h.1M368.5 484.8h.1M370.7 464.1h.1M381.8 493.3h.1M373.8 466.3h.1M368.7 474.9h.1M369.1 468.9h.1M367.5 470.9h.1M376.0 475.8h.1M371.7 473.2h.1M358.8 479.1h.1M373.1 464.7h.1M362.4 468.7h.1M361.3 451.9h.1M366.7 468.6h.1M369.8 484.4h.1M363.7 460.1h.1M368.4 479.8h.1M377.6 482.1h.1M369.9 474.3h.1M358.9 479.9h.1M373.7 473.2h.1M367.3 477.5h.1M371.7 478.4h.1M371.5 460.4h.1M365.8 459.2h.1M364.4 472.6h.1M370.5 467.6h.1M379.1 475.7h.1M371.9 467.2h.1M376.8 471.5h.1M364.3 472.0h.1M375.7 466.8h.1M367.7 481.5h.1M367.4 481.7h.1M376.3 469.4h.1M362.1 463.4h.1M376.5 478.7h.1M369.5 470.4h.1M375.3 469.6h.1M385.1 476.6h.1M359.6 483.2h.1M370.6 473.7h.1M368.0 484.3h.1M366.2 487.5h.1M364.5 481.8h.1M360.2 482.3h.1M363.3 471.7h.1M373.5 467.0h.1M372.2 473.8h.1M376.7 481.7h.1M370.5 472.1h.1M363.7 486.2h.1M367.6 462.7h.1M364.3 457.2h.1M363.9 469.8h.1M370.4 481.8h.1M373.9 457.8h.1M366.2 479.0h.1M371.0 473.6h.1M364.3 479.9h.1M368.5 471.6h.1M368.3 471.7h.1M370.7 483.4h.1M369.4 468.1h.1M368.3 472.4h.1M371.9 480.4h.1M378.7 481.6h.1M359.0 466.3h.1M361.5 476.3h.1M382.8 477.7h.1M365.6 485.9h.1M372.6 466.6h.1M363.3 486.6h.1M373.4 455.4h.1M364.5 478.6h.1M360.9 473.7h.1M363.7 459.0h.1M365.9 469.0h.1M370.6 458.6h.1M370.4 470.5h.1M359.5 484.3h.1M366.2 477.4h.1M378.1 477.3h.1M374.4 475.6h.1M365.5 475.4h.1M359.6 477.9h.1M373.8 477.5h.1M364.9 463.1h.1M364.5 471.2h.1M360.4 490.5h.1M364.1 474.8h.1M366.1 474.8h.1M356.1 464.7h.1M368.7 473.3h.1M371.2 469.0h.1M373.7 475.6h.1M368.6 473.9h.1M375.1 473.4h.1M378.1 474.8h.1M370.3 473.7h.1M370.6 477.8h.1M365.1 480.6h.1M384.1 478.4h.1M369.5 466.7h.1M364.3 466.5h.1M370.4 467.7h.1M378.4 470.0h.1M363.5 465.7h.1M368.3 472.4h.1M374.4 467.4h.1M370.8 482.0h.1M367.1 458.5h.1M370.2 482.7h.1M371.2 473.8h.1M357.3 487.8h.1M367.7 463.3h.1M366.8 475.1h.1M369.1 465.8h.1M383.1 484.6h.1M374.8 479.3h.1M366.5 463.4h.1M361.2 483.1h.1M369.3 488.0h.1M355.4 485.3h.1M371.6 468.9h.1M374.1 467.9h.1M367.2 478.3h.1M369.7 476.2h.1M370.1 482.8h.1M363.8 456.1h.1M363.3 452.5h.1M380.4 467.9h.1M368.6 476.6h.1M364.2 469.3h.1M370.3 473.8h.1M373.6 471.6h.1M364.8 460.9h.1M358.8 476.0h.1M370.7 470.1h.1M376.0 450.1h.1M372.6 463.2h.1M366.8 471.6h.1M364.3 471.2h.1M368.8 480.0h.1M373.7 465.4h.1M371.7 470.1h.1M374.1 468.6h.1M375.2 465.8h.1M366.0 481.1h.1M374.9 481.3h.1M380.7 482.7h.1M368.7 481.9h.1M363.9 480.8h.1M371.2 472.4h.1M364.5 483.0h.1M356.8 472.2h.1M360.4 470.6h.1M366.2 466.4h.1M365.1 476.2h.1M380.5 489.0h.1M367.6 470.0h.1M372.4 466.3h.1M359.9 482.2h.1M366.4 487.1h.1M370.8 460.9h.1M370.5 478.0h.1M369.1 461.7h.1M359.8 490.1h.1M373.6 489.5h.1M372.6 473.5h.1M371.1 483.7h.1M365.6 484.9h.1M370.3 475.5h.1M371.4 476.4h.1M363.3 487.4h.1M365.9 471.3h.1M372.2 472.8h.1M368.2 470.4h.1M372.5 468.0h.1M360.0 459.4h.1M364.0 476.5h.1M377.4 478.7h.1M364.7 462.0h.1M373.7 478.1h.1M368.5 479.2h.1M372.3 478.2h.1M376.7 460.1h.1M364.9 469.0h.1M362.9 491.1h.1M370.9 477.4h.1M373.5 471.6h.1M373.8 471.9h.1M373.3 478.6h.1M376.6 460.3h.1M363.3 467.0h.1M363.9 477.1h.1M374.6 470.6h.1M375.2 481.5h.1M365.3 479.5h.1M377.3 469.5h.1M355.7 478.6h.1M370.5 479.2h.1M371.9 473.3h.1M368.7 466.6h.1M380.5 487.4h.1M368.0 466.2h.1M371.4 487.8h.1M369.1 466.5h.1M374.4 476.0h.1M364.1 471.8h.1M369.8 463.9h.1M370.5 485.0h.1M375.1 484.8h.1M373.3 473.0h.1M372.5 484.6h.1M369.1 478.4h.1M365.2 473.9h.1" stroke="#1a1a1a" stroke-width="0.6" stroke-linecap="square" fill="none"/>
<ellipse cx="454.5" cy="487" rx="11" ry="6.8" transform="rotate(0 454.5 487)" fill="#000" opacity="0.55" filter="url(#b3)"/>
<ellipse cx="454.5" cy="487" rx="6.6" ry="4.4" transform="rotate(0 454.5 487)" fill="#000" opacity="0.65" filter="url(#b3)"/>
<ellipse cx="457.3" cy="465.5" rx="7" ry="11" transform="rotate(0 457.3 465.5)" fill="#000" opacity="0.3" filter="url(#b3)"/>
<ellipse cx="483.3" cy="480.7" rx="8" ry="7.2" transform="rotate(0 483.3 480.7)" fill="#000" opacity="0.6" filter="url(#b3)"/>
<ellipse cx="483" cy="480" rx="5.2" ry="4.6" transform="rotate(0 483 480)" fill="#000" opacity="0.8" filter="url(#b3)"/>
<path d="M451.2 481.8h.1M443.3 484.3h.1M455.6 483.2h.1M455.4 490.1h.1M443.7 486.0h.1M458.2 488.9h.1M466.3 487.3h.1M462.5 484.0h.1M448.5 484.1h.1M451.5 490.3h.1M459.3 486.5h.1M448.6 487.1h.1M451.7 484.8h.1M443.1 493.2h.1M471.9 486.7h.1M468.9 484.6h.1M472.6 486.2h.1M442.4 486.4h.1M459.7 493.9h.1M460.8 494.1h.1M455.7 479.9h.1M455.5 482.6h.1M459.9 477.2h.1M448.0 481.4h.1M455.1 490.9h.1M452.5 480.8h.1M451.1 485.8h.1M462.0 487.0h.1M463.5 474.1h.1M444.3 490.5h.1M445.9 483.8h.1M457.7 487.5h.1M456.4 485.7h.1M442.3 479.4h.1M448.9 482.1h.1M451.4 479.0h.1M453.7 488.6h.1M451.2 492.3h.1M455.8 490.5h.1M448.6 487.4h.1M445.1 478.2h.1M443.0 484.7h.1M456.5 484.8h.1M461.3 487.0h.1M454.5 487.1h.1M460.9 493.5h.1M445.1 486.9h.1M451.4 486.5h.1M470.0 485.5h.1M451.3 482.4h.1M461.2 487.6h.1M449.7 492.9h.1M452.8 487.5h.1M453.3 487.2h.1M446.0 476.9h.1M446.8 484.3h.1M453.2 486.1h.1M451.6 491.0h.1M452.9 482.7h.1M463.5 485.9h.1M461.7 488.9h.1M452.6 490.8h.1M444.8 481.1h.1M451.8 476.0h.1M451.6 485.6h.1M442.9 481.9h.1M462.7 489.1h.1M455.8 492.3h.1M455.1 491.9h.1M461.4 484.0h.1M458.5 491.4h.1M456.4 484.6h.1M460.3 491.5h.1M454.4 488.7h.1M455.4 487.6h.1M456.9 484.7h.1M459.3 488.1h.1M465.9 487.8h.1M455.2 481.1h.1M469.4 485.4h.1M451.1 485.2h.1M454.5 486.0h.1M465.7 484.3h.1M453.0 484.5h.1M458.5 479.2h.1M461.0 484.8h.1M445.1 492.9h.1M445.7 489.5h.1M454.6 483.5h.1M443.5 483.3h.1M459.5 486.1h.1M450.7 490.7h.1M454.7 486.7h.1M448.7 480.4h.1M451.4 487.7h.1M451.7 487.8h.1M452.8 485.4h.1M454.2 487.9h.1M453.1 484.4h.1M460.9 491.5h.1M462.0 489.6h.1M457.5 487.0h.1M459.4 483.5h.1M453.6 487.8h.1M453.5 480.9h.1M453.8 484.6h.1M450.2 489.1h.1M461.5 486.7h.1M446.9 485.6h.1M453.2 481.8h.1M450.4 487.0h.1M450.5 488.3h.1M445.8 489.2h.1M449.8 486.9h.1M454.5 484.1h.1M461.3 478.6h.1M455.7 489.1h.1M452.8 486.1h.1M446.9 486.1h.1M455.5 483.7h.1M454.5 484.7h.1M447.6 486.0h.1M449.2 490.1h.1M449.2 492.4h.1M454.2 486.2h.1M449.5 488.2h.1M447.6 479.6h.1M457.2 477.2h.1M461.9 484.0h.1M464.8 487.3h.1M465.2 480.0h.1M451.5 487.4h.1M450.7 486.6h.1M453.3 489.2h.1M463.8 476.9h.1M458.5 481.3h.1M465.2 479.9h.1M448.8 488.5h.1M453.2 489.2h.1M456.8 483.0h.1M443.5 491.3h.1M452.9 485.8h.1M452.3 485.1h.1M449.5 486.5h.1M456.0 480.9h.1M443.9 488.7h.1M460.2 483.9h.1M453.3 484.1h.1M457.0 486.0h.1M450.7 483.0h.1M457.3 487.8h.1M451.5 488.0h.1M455.5 477.5h.1M450.5 487.3h.1M462.8 488.0h.1M446.1 490.1h.1M452.5 489.8h.1M445.1 479.2h.1M443.7 488.8h.1M462.3 487.3h.1M455.5 485.8h.1M455.7 481.9h.1M462.6 489.7h.1M460.8 485.9h.1M460.0 490.5h.1M471.1 490.9h.1M449.4 482.8h.1M460.2 488.4h.1M458.1 486.5h.1M449.0 486.9h.1M444.6 487.5h.1M469.6 489.4h.1M448.7 482.5h.1M470.5 489.1h.1M450.9 488.8h.1M452.2 481.7h.1M455.3 488.5h.1M463.1 480.9h.1M464.3 485.2h.1M461.1 488.6h.1M460.0 482.4h.1M457.8 479.2h.1M465.5 488.0h.1M457.8 486.7h.1M458.6 487.2h.1M448.2 484.8h.1M453.3 487.9h.1M469.4 479.3h.1M468.6 484.4h.1M451.5 485.9h.1M469.1 481.6h.1M451.9 488.6h.1M460.8 488.0h.1M455.2 490.5h.1M447.9 493.0h.1M451.1 487.9h.1M448.2 483.6h.1M461.1 488.7h.1M453.2 489.8h.1M476.1 475.8h.1M442.9 490.7h.1M448.9 486.3h.1M464.7 479.0h.1M458.9 485.0h.1M464.4 487.7h.1M449.4 484.4h.1M454.8 493.6h.1M455.1 484.0h.1M451.8 489.9h.1M452.4 493.8h.1M460.4 486.9h.1M455.2 484.9h.1M464.7 485.4h.1M456.4 480.5h.1M453.1 487.1h.1M453.9 486.5h.1M461.2 489.4h.1M459.8 483.8h.1M451.0 486.3h.1M443.7 480.1h.1M456.7 486.4h.1M455.0 491.4h.1M452.9 480.7h.1M459.0 492.4h.1M444.5 486.5h.1M461.0 486.5h.1M451.4 490.5h.1M442.9 486.1h.1M450.1 486.0h.1M446.0 487.1h.1M462.8 488.2h.1M445.7 484.1h.1M449.3 479.9h.1M459.4 488.5h.1M453.3 492.7h.1M459.3 483.8h.1M454.7 485.7h.1M454.4 492.0h.1M463.0 482.2h.1M467.7 479.4h.1M459.1 491.4h.1M455.4 488.5h.1M450.1 492.7h.1M453.1 484.1h.1M444.4 482.0h.1M457.8 486.5h.1M466.2 489.1h.1M456.8 483.0h.1M458.2 480.2h.1M449.4 492.3h.1M456.3 481.4h.1M450.2 485.8h.1M456.6 487.2h.1M460.0 473.6h.1M459.4 478.3h.1M451.4 486.9h.1M461.6 483.7h.1M445.5 482.8h.1M446.1 484.2h.1M449.7 491.2h.1M458.3 485.7h.1M456.6 493.2h.1M452.6 481.5h.1M454.7 481.1h.1M456.1 490.1h.1M452.1 490.4h.1M452.1 488.9h.1M460.0 489.9h.1M461.0 488.5h.1M459.2 490.4h.1M457.8 488.9h.1M456.5 486.1h.1M442.3 486.1h.1M454.8 484.1h.1M451.5 491.8h.1M452.8 476.7h.1M451.0 485.9h.1M462.9 487.7h.1M458.1 484.1h.1M450.7 479.6h.1M458.8 486.5h.1M449.8 486.7h.1M462.0 490.4h.1M459.9 491.4h.1M456.2 486.5h.1M454.6 488.5h.1M443.1 487.7h.1M454.8 482.7h.1M450.8 491.4h.1M451.9 486.1h.1M464.6 482.3h.1M454.3 484.6h.1M451.1 485.7h.1M458.3 485.3h.1M460.9 489.6h.1M447.4 486.7h.1M453.4 480.9h.1M442.6 490.8h.1M456.6 491.7h.1M465.1 489.8h.1M457.0 491.9h.1M453.7 484.8h.1M461.1 489.2h.1M451.1 484.7h.1M452.0 484.3h.1M450.6 484.2h.1M455.4 486.6h.1M459.9 475.8h.1M455.5 493.6h.1M454.9 483.9h.1M467.9 484.2h.1M459.2 487.5h.1M453.6 482.2h.1M455.6 487.3h.1M466.7 480.0h.1M444.2 488.8h.1M444.5 474.3h.1M452.3 491.3h.1M442.3 480.0h.1M464.5 482.7h.1M448.6 485.7h.1M465.3 485.6h.1M459.8 485.7h.1M447.4 487.5h.1M442.4 490.8h.1M443.8 487.0h.1M457.3 483.2h.1M467.5 486.4h.1M457.5 480.1h.1M451.2 487.4h.1M459.5 488.9h.1M445.2 480.1h.1M447.0 491.2h.1M442.8 481.1h.1M455.3 486.2h.1M454.1 482.9h.1M456.8 485.9h.1M453.2 487.4h.1M453.0 485.6h.1M462.0 489.4h.1M455.0 487.0h.1M463.6 480.7h.1M443.0 481.8h.1M456.0 487.3h.1M452.2 483.1h.1M444.7 483.3h.1M449.0 486.3h.1M460.7 485.1h.1M446.9 488.2h.1M462.5 487.7h.1M451.5 484.7h.1M452.3 481.9h.1M460.6 485.1h.1M467.3 491.5h.1M451.3 483.0h.1M442.7 486.4h.1M457.1 484.8h.1M453.7 488.4h.1M449.2 486.2h.1M452.7 492.8h.1M458.9 486.0h.1M447.6 485.8h.1M449.1 484.9h.1M456.8 489.8h.1M461.2 483.9h.1M455.7 486.3h.1M461.2 490.2h.1M456.1 488.6h.1M453.5 486.2h.1M456.3 481.3h.1M451.9 489.9h.1M459.2 487.2h.1M458.1 483.1h.1M464.4 477.7h.1M452.2 483.2h.1M451.4 487.4h.1M455.2 490.5h.1M467.1 488.6h.1M448.3 486.5h.1M449.4 483.1h.1M451.8 490.4h.1M449.2 487.8h.1M449.5 490.1h.1M462.1 480.3h.1M459.4 482.8h.1M456.7 486.1h.1M460.1 481.1h.1M467.1 487.9h.1M450.2 491.8h.1M463.5 488.7h.1M451.2 483.0h.1M448.6 493.3h.1M454.9 486.3h.1M452.1 491.6h.1M452.1 490.1h.1M442.7 483.1h.1M456.7 482.4h.1M467.1 477.8h.1M457.1 488.7h.1M457.4 486.2h.1M456.3 483.8h.1M454.4 494.1h.1M454.4 491.1h.1M463.5 484.1h.1M467.2 480.1h.1M451.2 486.1h.1M452.8 489.0h.1M453.7 489.0h.1M449.1 479.8h.1M466.5 487.6h.1M457.1 481.6h.1M457.5 486.3h.1M457.7 487.0h.1M461.4 492.4h.1M452.2 484.9h.1M459.3 480.3h.1M449.8 484.9h.1M452.7 485.6h.1M446.7 488.8h.1M451.5 481.4h.1M456.7 493.0h.1M444.7 486.4h.1M468.8 485.6h.1M449.8 493.3h.1M456.0 490.4h.1M465.4 489.2h.1M444.6 481.7h.1M453.0 483.9h.1M453.4 478.5h.1M443.9 489.5h.1M453.2 488.3h.1M452.0 486.4h.1M444.5 494.0h.1M461.4 480.8h.1M451.5 488.0h.1M451.7 486.3h.1M455.9 478.6h.1M459.4 488.5h.1M448.1 485.7h.1M453.9 485.4h.1M454.8 480.0h.1M454.9 488.3h.1M457.1 488.4h.1M450.8 487.1h.1M460.9 486.8h.1M456.0 486.8h.1M458.0 481.0h.1M454.1 490.1h.1M448.6 488.9h.1M451.5 484.7h.1M447.1 482.6h.1M462.2 480.3h.1M455.4 480.7h.1M467.8 489.5h.1M449.3 481.6h.1M452.7 487.9h.1M465.5 492.7h.1M448.0 487.5h.1M460.6 483.5h.1M451.4 490.4h.1M445.4 486.7h.1M454.0 485.3h.1M454.7 479.6h.1M459.9 484.6h.1M463.8 483.1h.1M452.8 491.6h.1M449.7 485.0h.1M446.8 483.5h.1M449.7 487.6h.1M456.2 484.9h.1M445.5 487.5h.1M458.5 486.3h.1M463.5 484.6h.1M460.0 487.7h.1M463.2 493.4h.1M446.8 478.8h.1M461.3 487.9h.1M456.8 484.6h.1M449.6 491.6h.1M457.6 484.2h.1M454.8 487.8h.1M445.9 483.8h.1M457.8 487.1h.1M445.4 487.8h.1M467.6 489.1h.1M445.8 484.5h.1M450.4 483.2h.1M449.1 484.0h.1M453.9 481.2h.1M460.6 487.9h.1M467.3 490.1h.1M460.8 488.7h.1M453.8 482.0h.1M458.9 486.9h.1M450.2 488.3h.1M456.7 483.8h.1M464.0 484.5h.1M455.3 491.1h.1M451.1 485.2h.1M457.5 485.1h.1M451.2 481.7h.1M456.0 484.9h.1M459.9 490.8h.1M454.4 489.8h.1M449.9 493.3h.1M450.9 486.0h.1M452.1 484.4h.1M459.7 486.5h.1M448.7 489.8h.1M454.8 489.0h.1M455.9 484.6h.1M442.7 485.3h.1M448.7 491.7h.1M453.1 492.8h.1M469.6 491.5h.1M470.2 482.6h.1M451.2 482.1h.1M445.7 481.1h.1M460.4 483.2h.1M452.4 489.0h.1M451.8 493.1h.1M462.3 489.6h.1M465.5 488.8h.1M455.8 491.2h.1M461.4 480.8h.1M461.8 490.9h.1M455.6 492.5h.1M446.8 487.5h.1M450.0 483.0h.1M456.3 480.5h.1M454.4 489.5h.1M449.6 482.0h.1M458.2 490.5h.1M460.5 484.3h.1M451.9 492.4h.1M460.3 488.0h.1M456.1 485.9h.1M458.5 489.6h.1M454.8 487.7h.1M445.5 486.0h.1M464.9 487.5h.1M445.6 484.7h.1M455.1 492.7h.1M468.5 486.5h.1M453.6 487.2h.1M447.3 492.2h.1M446.7 489.7h.1M451.6 482.2h.1M456.7 493.7h.1M446.6 487.5h.1M450.0 491.1h.1M444.9 481.2h.1M452.0 481.2h.1M460.9 480.3h.1M454.9 484.5h.1M461.0 484.4h.1M453.3 493.8h.1M458.8 491.9h.1M463.8 488.7h.1M456.6 479.6h.1M443.3 484.9h.1M456.4 491.3h.1M449.5 485.2h.1M468.1 481.9h.1M453.3 486.2h.1M450.0 492.9h.1M444.1 485.4h.1M443.6 483.7h.1M464.7 478.2h.1M443.6 486.7h.1M456.9 483.5h.1M457.4 485.8h.1M452.0 487.0h.1M462.5 481.7h.1M460.1 487.8h.1M453.1 483.5h.1M456.7 490.0h.1M448.4 489.7h.1M454.7 490.1h.1M456.3 485.8h.1M455.9 489.4h.1M445.0 486.7h.1M451.4 486.7h.1M461.0 490.5h.1M463.9 490.6h.1M453.1 483.3h.1M471.4 483.8h.1M452.2 488.4h.1M449.2 487.3h.1M455.9 484.4h.1M447.8 486.7h.1M457.3 482.5h.1M455.4 487.1h.1M448.7 488.4h.1M445.6 490.4h.1M449.9 490.9h.1M455.2 486.9h.1M445.8 489.8h.1M457.4 487.5h.1M454.7 489.5h.1M457.5 488.3h.1M460.2 486.0h.1M465.1 480.2h.1M443.8 489.1h.1M454.4 480.2h.1M446.6 483.6h.1M462.8 489.4h.1M443.7 480.9h.1M455.4 481.4h.1M450.5 484.2h.1M454.8 489.1h.1M449.9 484.4h.1M456.3 493.5h.1M457.2 485.1h.1M460.6 486.1h.1M445.5 489.4h.1M465.2 481.9h.1M459.5 481.5h.1M454.0 486.1h.1M452.2 486.1h.1M459.0 484.5h.1M453.0 485.3h.1M456.3 483.9h.1M459.7 487.9h.1M450.6 481.2h.1M452.8 490.9h.1M458.7 486.7h.1M467.8 493.2h.1M457.9 492.5h.1M452.9 485.1h.1M456.0 478.6h.1M454.7 484.5h.1M463.4 489.0h.1M464.7 484.7h.1M464.2 487.2h.1M458.0 488.3h.1M446.3 490.5h.1M451.6 489.3h.1M454.2 482.5h.1M452.5 487.8h.1M452.6 493.8h.1M462.5 487.0h.1M452.2 492.7h.1M454.8 491.5h.1M445.6 478.2h.1M459.6 490.5h.1M453.5 485.9h.1M457.6 488.8h.1M454.1 486.7h.1M456.1 491.1h.1M459.2 475.6h.1M456.9 485.3h.1M461.6 489.6h.1M451.1 486.2h.1M447.4 487.1h.1M449.9 491.8h.1M463.0 485.1h.1M448.8 492.1h.1M445.7 485.1h.1M452.1 487.6h.1M454.9 482.7h.1M460.3 488.2h.1M456.7 493.3h.1M466.9 487.7h.1M451.9 485.4h.1M453.8 482.0h.1M450.0 484.4h.1M458.0 489.7h.1M450.5 482.0h.1M454.4 479.1h.1M453.0 487.4h.1M457.1 484.7h.1M457.3 489.8h.1M452.3 482.1h.1M451.2 487.8h.1M456.4 479.4h.1M444.7 479.7h.1M466.4 488.4h.1M455.7 481.6h.1M458.6 476.1h.1M465.1 488.2h.1M454.2 487.7h.1M460.4 478.1h.1M456.4 481.1h.1M451.9 485.7h.1M451.7 483.4h.1M455.7 484.9h.1M456.3 489.7h.1M448.9 485.7h.1M448.9 490.0h.1M459.3 490.9h.1M461.5 487.1h.1M448.0 483.3h.1M462.5 487.1h.1M459.8 484.1h.1M461.0 479.8h.1M450.0 487.2h.1M461.4 490.7h.1M460.1 491.8h.1M459.1 490.2h.1M448.8 481.4h.1M451.2 491.9h.1M463.4 482.0h.1M452.7 486.9h.1M458.3 488.0h.1M464.3 487.7h.1M453.1 485.5h.1M461.7 485.5h.1M458.0 484.8h.1M446.9 477.5h.1M452.6 483.2h.1M459.8 485.0h.1M448.4 489.6h.1M451.6 486.9h.1M449.5 493.0h.1M456.4 485.6h.1M453.9 477.7h.1M462.8 486.6h.1M462.1 483.0h.1M464.0 483.8h.1M451.2 486.7h.1M453.5 487.0h.1M455.5 485.9h.1M457.4 484.7h.1M463.2 489.4h.1M447.1 484.3h.1M452.4 490.6h.1M441.8 491.2h.1M448.9 485.1h.1M459.7 490.5h.1M453.8 485.7h.1M448.1 491.5h.1M444.3 483.7h.1M459.0 494.3h.1M452.5 488.4h.1M450.5 487.5h.1M451.0 488.4h.1M453.7 482.4h.1M444.3 482.4h.1M454.2 489.6h.1M461.9 490.7h.1M468.0 490.8h.1M466.3 489.9h.1M456.6 479.3h.1M460.9 486.0h.1M452.0 480.9h.1M462.8 486.5h.1M451.7 483.2h.1M453.9 488.4h.1M458.5 487.0h.1M455.9 486.8h.1M451.7 491.4h.1M453.6 484.1h.1M465.8 482.6h.1M451.5 487.1h.1M453.4 486.2h.1M460.8 490.8h.1M446.8 482.2h.1M459.0 482.3h.1M446.6 490.1h.1M457.8 488.2h.1M463.7 491.0h.1M451.5 484.6h.1M457.2 484.8h.1M456.2 490.3h.1M456.2 480.6h.1M465.3 486.3h.1M456.8 479.6h.1M454.3 481.1h.1M464.9 484.5h.1M445.4 486.0h.1M448.4 486.8h.1M448.3 479.3h.1M453.2 485.3h.1M449.3 489.4h.1M460.0 486.2h.1M453.9 488.1h.1M460.5 487.3h.1M447.1 489.2h.1M470.1 489.3h.1M456.6 484.2h.1M444.5 488.7h.1M458.3 488.4h.1M455.5 492.0h.1M453.8 478.6h.1M453.6 487.3h.1M459.6 488.9h.1M459.1 488.5h.1M456.5 481.6h.1M452.4 490.8h.1M465.2 475.3h.1M453.5 484.7h.1M460.1 478.3h.1M450.8 487.3h.1M449.2 479.2h.1M466.7 485.5h.1M454.9 489.1h.1M467.0 483.6h.1M453.5 485.1h.1M460.7 490.5h.1M464.9 484.7h.1M446.5 483.9h.1M442.0 488.0h.1M447.6 488.3h.1M464.2 486.0h.1M453.6 486.7h.1M450.3 488.0h.1M452.8 487.2h.1M449.1 488.8h.1M456.7 482.9h.1M454.0 480.7h.1M445.2 481.9h.1M457.1 484.9h.1M454.1 487.7h.1M452.6 485.8h.1M449.1 489.1h.1M452.8 494.2h.1M446.9 486.1h.1M457.0 484.5h.1M468.4 487.6h.1M457.1 479.5h.1M457.2 481.5h.1M458.1 488.1h.1M453.6 484.2h.1M449.1 483.8h.1M464.6 483.2h.1M452.4 488.3h.1M445.5 484.8h.1M461.9 487.6h.1M458.1 489.6h.1M454.2 476.6h.1M459.4 488.9h.1M463.7 481.6h.1M460.6 492.7h.1M453.7 485.4h.1M447.8 489.2h.1M456.0 488.9h.1M454.0 486.7h.1M450.5 491.1h.1M453.5 491.8h.1M460.3 483.4h.1M447.0 490.9h.1M457.0 485.0h.1M461.3 478.0h.1M458.2 485.0h.1M459.2 484.1h.1M451.3 489.4h.1M456.8 480.5h.1M457.9 489.5h.1M443.6 482.5h.1M446.9 482.4h.1M447.8 482.5h.1M452.7 492.1h.1M451.7 490.5h.1M461.2 484.8h.1M457.0 490.7h.1M455.9 493.3h.1M457.0 493.2h.1M447.8 487.5h.1M450.7 484.8h.1M452.9 488.7h.1M444.9 479.3h.1M459.3 487.8h.1M460.6 490.0h.1M456.5 484.3h.1M457.7 482.6h.1M445.8 485.1h.1M469.0 482.5h.1M463.2 485.8h.1M465.7 484.4h.1M446.6 483.8h.1M453.1 488.9h.1M449.6 487.4h.1M469.8 486.6h.1M449.4 486.5h.1M452.2 487.7h.1M449.1 485.3h.1M459.2 486.6h.1M448.9 488.0h.1M448.4 489.8h.1M450.6 492.0h.1M455.0 477.3h.1M446.9 489.3h.1M459.3 490.8h.1M457.6 484.6h.1M455.2 486.7h.1M454.4 490.8h.1M448.2 485.2h.1M463.0 486.0h.1M458.0 484.3h.1M454.7 492.0h.1M464.8 486.7h.1M450.2 492.8h.1M441.9 485.7h.1M461.2 486.0h.1M453.9 486.3h.1M448.1 484.8h.1M456.4 479.4h.1M449.0 474.0h.1M460.5 487.0h.1M443.4 480.2h.1M449.7 493.4h.1M457.5 481.8h.1M451.0 479.6h.1M448.0 479.2h.1M466.1 489.5h.1M462.8 488.4h.1M449.4 490.7h.1M457.5 483.5h.1M443.5 486.3h.1M446.3 485.3h.1M460.6 488.8h.1M455.2 485.4h.1M455.6 482.4h.1M459.4 493.2h.1M450.3 479.9h.1M454.4 479.2h.1M467.4 486.0h.1M457.1 487.2h.1M450.9 483.3h.1M454.8 491.0h.1M464.2 485.2h.1M450.9 484.8h.1M456.7 482.3h.1M460.6 485.4h.1M449.2 489.4h.1M463.7 482.7h.1M453.1 485.7h.1M457.8 489.8h.1M453.5 482.5h.1M450.3 490.2h.1M466.5 487.2h.1M461.9 483.3h.1M445.9 482.5h.1M473.9 491.8h.1M452.6 458.5h.1M455.6 455.2h.1M460.2 456.4h.1M456.2 467.2h.1M456.1 469.7h.1M454.8 470.9h.1M454.1 459.6h.1M450.3 465.6h.1M460.7 463.5h.1M464.3 467.5h.1M459.0 452.8h.1M456.5 465.7h.1M451.6 472.8h.1M458.9 473.0h.1M451.4 475.0h.1M464.0 464.3h.1M455.7 473.8h.1M452.6 462.0h.1M462.8 462.9h.1M453.4 456.0h.1M455.0 471.6h.1M470.6 457.1h.1M451.5 467.4h.1M456.5 460.7h.1M456.6 472.0h.1M461.1 458.5h.1M459.8 455.5h.1M462.8 450.3h.1M455.2 469.3h.1M465.7 466.7h.1M447.8 462.1h.1M461.9 467.5h.1M459.2 459.7h.1M448.0 460.3h.1M458.1 459.1h.1M453.2 465.9h.1M455.7 464.6h.1M462.5 458.8h.1M462.2 456.1h.1M461.6 466.0h.1M459.8 468.1h.1M458.4 452.1h.1M465.5 464.8h.1M458.4 463.8h.1M459.3 461.9h.1M450.8 455.8h.1M466.0 467.4h.1M452.1 473.8h.1M458.7 456.2h.1M453.6 459.1h.1M462.9 468.3h.1M456.1 461.8h.1M453.9 464.1h.1M452.3 469.1h.1M456.9 469.5h.1M465.0 465.4h.1M461.6 443.6h.1M452.8 465.0h.1M453.1 470.4h.1M455.8 462.2h.1M447.1 467.8h.1M454.9 471.8h.1M459.9 463.0h.1M461.6 461.7h.1M453.4 463.1h.1M456.2 470.5h.1M454.0 456.4h.1M464.0 469.2h.1M455.6 464.2h.1M449.5 474.2h.1M454.8 449.3h.1M456.8 466.7h.1M460.6 465.0h.1M458.6 462.3h.1M457.0 461.9h.1M469.5 463.9h.1M458.1 450.0h.1M457.2 467.1h.1M460.8 453.3h.1M457.1 473.8h.1M456.5 462.1h.1M460.3 462.8h.1M454.8 459.2h.1M449.0 464.6h.1M460.2 467.4h.1M453.7 466.1h.1M452.3 452.8h.1M460.5 455.1h.1M450.6 461.3h.1M455.8 473.5h.1M462.4 477.1h.1M458.3 452.7h.1M451.1 465.2h.1M450.7 466.3h.1M462.5 467.3h.1M449.2 470.7h.1M465.8 470.2h.1M468.9 458.1h.1M456.8 469.0h.1M462.3 473.2h.1M456.7 458.9h.1M456.4 458.7h.1M457.9 461.2h.1M461.2 458.8h.1M461.9 458.3h.1M463.4 471.4h.1M457.3 462.0h.1M459.1 466.4h.1M452.4 468.0h.1M448.4 455.7h.1M451.6 464.7h.1M453.3 447.9h.1M462.7 459.6h.1M455.8 465.6h.1M459.1 467.3h.1M451.1 465.5h.1M462.1 468.4h.1M464.6 453.9h.1M463.3 454.0h.1M451.9 464.7h.1M468.8 471.3h.1M456.8 464.0h.1M462.8 455.4h.1M455.7 459.6h.1M463.3 467.1h.1M459.0 471.5h.1M456.2 457.4h.1M461.9 451.4h.1M458.8 463.3h.1M449.6 464.7h.1M453.2 472.4h.1M461.2 469.4h.1M462.3 463.4h.1M462.9 467.5h.1M460.2 470.5h.1M467.1 452.4h.1M455.2 453.8h.1M451.4 468.0h.1M452.7 462.1h.1M454.7 469.9h.1M465.3 464.2h.1M454.1 459.7h.1M456.5 452.8h.1M451.5 464.7h.1M458.7 464.6h.1M459.1 458.6h.1M456.9 456.8h.1M458.6 450.3h.1M460.0 465.0h.1M455.5 464.5h.1M462.5 463.9h.1M466.9 471.4h.1M458.0 462.2h.1M451.8 456.4h.1M458.5 464.3h.1M459.2 474.4h.1M459.5 466.1h.1M456.4 456.3h.1M455.3 462.8h.1M461.0 468.0h.1M452.6 462.8h.1M461.2 454.1h.1M456.3 454.0h.1M454.2 471.0h.1M459.3 477.7h.1M452.5 469.5h.1M456.7 453.0h.1M458.5 465.0h.1M456.2 471.4h.1M456.0 468.3h.1M457.5 460.0h.1M459.4 470.4h.1M464.5 471.3h.1M449.3 454.8h.1M456.2 471.3h.1M448.4 464.4h.1M451.8 468.6h.1M462.5 461.7h.1M464.1 468.4h.1M456.8 473.0h.1M467.8 463.0h.1M458.8 465.7h.1M461.5 460.9h.1M456.5 471.3h.1M457.0 472.2h.1M458.9 474.8h.1M464.7 456.0h.1M460.9 462.0h.1M454.7 469.2h.1M462.7 467.0h.1M462.9 474.2h.1M459.3 467.6h.1M459.9 473.4h.1M453.4 463.1h.1M451.8 459.9h.1M459.3 461.3h.1M454.0 462.0h.1M463.0 477.2h.1M458.2 458.8h.1M458.6 459.5h.1M459.2 468.1h.1M466.9 458.7h.1M457.0 458.2h.1M462.8 457.4h.1M463.9 475.4h.1M449.4 470.8h.1M468.7 464.3h.1M457.4 476.9h.1M456.6 463.0h.1M453.3 467.9h.1M464.0 458.5h.1M461.6 467.0h.1M465.2 463.0h.1M454.0 465.2h.1M459.9 461.9h.1M453.1 467.9h.1M450.0 456.1h.1M457.1 454.8h.1M460.1 453.1h.1M456.7 466.4h.1M464.2 458.2h.1M459.0 471.5h.1M453.8 466.1h.1M463.1 471.0h.1M457.4 466.0h.1M454.2 467.3h.1M459.7 460.3h.1M469.2 467.9h.1M453.7 463.9h.1M460.0 456.8h.1M453.3 468.6h.1M457.3 463.3h.1M462.7 461.9h.1M450.5 456.4h.1M456.9 462.4h.1M455.8 457.9h.1M449.2 462.1h.1M459.7 465.5h.1M460.7 483.1h.1M452.0 459.7h.1M458.4 447.8h.1M461.0 463.0h.1M473.0 463.1h.1M457.1 463.7h.1M456.6 459.3h.1M462.9 465.9h.1M459.2 461.9h.1M448.5 460.6h.1M446.8 459.5h.1M459.4 461.9h.1M458.0 474.1h.1M460.3 470.2h.1M456.1 461.5h.1M450.9 473.4h.1M463.1 463.2h.1M459.9 465.3h.1M464.2 467.0h.1M457.2 456.7h.1M445.8 448.2h.1M456.4 471.5h.1M454.2 462.1h.1M460.6 474.3h.1M446.3 462.7h.1M455.2 469.0h.1M455.7 452.1h.1M446.2 452.6h.1M455.6 456.6h.1M450.9 476.7h.1M450.3 461.6h.1M463.4 463.6h.1M447.8 463.7h.1M457.4 472.5h.1M453.6 453.5h.1M455.6 456.2h.1M458.5 467.9h.1M457.2 463.2h.1M451.6 454.4h.1M459.0 472.8h.1M461.5 479.6h.1M452.7 449.5h.1M457.3 465.3h.1M453.4 451.1h.1M464.1 451.0h.1M460.0 469.1h.1M463.9 463.2h.1M462.1 461.9h.1M461.1 472.3h.1M457.4 452.1h.1M459.6 443.7h.1M464.3 459.4h.1M454.8 470.1h.1M461.8 466.8h.1M454.7 468.3h.1M458.2 461.2h.1M453.7 466.7h.1M453.8 472.2h.1M448.8 456.9h.1M458.4 452.3h.1M466.6 454.3h.1M454.5 460.8h.1M458.4 472.7h.1M455.4 460.1h.1M463.8 463.4h.1M461.3 463.9h.1M455.0 459.4h.1M452.7 458.3h.1M458.4 463.2h.1M461.4 464.2h.1M459.5 457.7h.1M449.6 470.2h.1M466.2 461.6h.1M461.7 457.7h.1M453.1 466.1h.1M461.7 467.3h.1M462.9 464.1h.1M456.8 464.1h.1M453.2 461.1h.1M449.4 455.7h.1M461.3 459.9h.1M446.4 455.9h.1M461.3 463.1h.1M457.1 467.4h.1M463.1 461.5h.1M458.7 476.7h.1M460.4 459.9h.1M453.4 460.5h.1M463.2 449.9h.1M460.6 460.7h.1M460.6 464.8h.1M449.8 460.3h.1M447.8 462.5h.1M453.7 469.5h.1M448.6 465.4h.1M452.7 460.2h.1M449.2 475.7h.1M456.4 464.0h.1M468.7 452.0h.1M457.0 457.3h.1M456.2 460.7h.1M460.0 468.4h.1M457.8 471.3h.1M455.9 455.0h.1M449.2 469.1h.1M455.8 466.7h.1M461.0 457.5h.1M463.8 468.4h.1M465.5 468.2h.1M451.9 467.3h.1M458.1 454.0h.1M461.8 461.8h.1M459.5 474.4h.1M463.9 460.8h.1M461.1 470.3h.1M458.3 470.7h.1M460.3 460.6h.1M464.4 461.9h.1M455.2 461.0h.1M448.8 470.5h.1M451.6 451.4h.1M459.1 449.0h.1M456.1 468.4h.1M459.2 466.0h.1M456.1 457.2h.1M458.9 468.7h.1M457.2 469.9h.1M445.7 457.4h.1M444.6 460.7h.1M458.3 455.1h.1M454.8 462.9h.1M453.5 462.0h.1M462.2 463.6h.1M462.6 466.4h.1M455.0 464.0h.1M462.0 459.8h.1M454.3 471.7h.1M461.6 467.8h.1M454.9 462.3h.1M459.4 466.2h.1M461.8 456.2h.1M461.9 456.9h.1M452.8 460.3h.1M454.9 470.4h.1M463.4 477.5h.1M454.2 464.5h.1M463.9 452.1h.1M461.4 476.0h.1M462.3 458.6h.1M457.1 464.5h.1M454.2 456.6h.1M463.2 457.7h.1M462.7 456.4h.1M453.7 448.4h.1M445.3 475.9h.1M454.4 460.9h.1M461.7 453.9h.1M457.5 471.0h.1M461.5 473.3h.1M456.9 453.4h.1M457.6 467.0h.1M452.5 461.4h.1M457.4 478.1h.1M454.3 458.3h.1M456.6 459.3h.1M457.8 460.0h.1M451.5 458.9h.1M448.1 474.7h.1M464.3 462.7h.1M458.6 468.1h.1M459.1 457.6h.1M453.2 468.9h.1M456.2 466.3h.1M455.6 469.4h.1M456.8 465.1h.1M460.3 450.1h.1M462.0 472.3h.1M455.2 452.7h.1M459.4 457.6h.1M452.7 473.9h.1M457.0 456.3h.1M451.2 466.1h.1M459.2 466.2h.1M452.0 458.9h.1M457.4 460.9h.1M457.9 461.3h.1M457.3 464.7h.1M460.7 472.1h.1M457.3 450.0h.1M464.5 453.4h.1M458.7 471.5h.1M460.6 472.3h.1M457.6 478.2h.1M460.1 452.6h.1M461.1 461.4h.1M462.8 458.8h.1M461.7 454.9h.1M456.2 462.8h.1M463.1 458.1h.1M459.1 470.9h.1M448.7 473.8h.1M457.1 464.9h.1M467.0 463.1h.1M461.1 471.9h.1M464.7 471.7h.1M454.6 466.0h.1M450.5 455.3h.1M456.1 461.4h.1M454.8 458.4h.1M465.8 454.8h.1M460.1 455.1h.1M459.1 457.9h.1M449.2 450.0h.1M463.2 471.8h.1M456.2 462.3h.1M459.2 453.1h.1M460.6 483.4h.1M455.3 452.4h.1M454.7 463.5h.1M456.0 475.1h.1M460.6 459.6h.1M458.7 460.5h.1M453.7 473.7h.1M456.7 459.6h.1M464.4 461.6h.1M462.4 445.8h.1M460.9 455.9h.1M455.6 469.5h.1M466.1 448.1h.1M464.0 461.4h.1M455.2 470.5h.1M456.9 459.7h.1M456.4 462.0h.1M455.0 470.7h.1M465.6 457.4h.1M454.3 462.6h.1M453.8 464.1h.1M458.2 463.4h.1M453.9 465.5h.1M451.3 460.9h.1M456.8 463.8h.1M461.6 462.2h.1M452.6 466.3h.1M456.8 468.7h.1M465.5 473.7h.1M457.4 456.9h.1M458.6 462.2h.1M453.9 453.2h.1M463.1 456.9h.1M462.5 470.6h.1M453.0 466.2h.1M457.1 453.7h.1M454.4 464.4h.1M462.1 458.6h.1M456.5 470.4h.1M455.5 458.9h.1M450.1 466.3h.1M454.1 456.9h.1M455.2 458.4h.1M471.6 459.7h.1M461.2 454.9h.1M461.6 465.8h.1M455.6 478.5h.1M452.9 456.1h.1M443.5 447.8h.1M454.0 463.0h.1M461.2 462.9h.1M453.7 456.9h.1M465.4 460.4h.1M465.9 462.8h.1M455.7 460.9h.1M459.9 468.8h.1M455.7 466.8h.1M451.2 452.4h.1M449.7 460.3h.1M454.2 468.1h.1M455.8 460.5h.1M456.0 453.6h.1M451.4 476.3h.1M460.3 453.7h.1M451.5 465.8h.1M446.8 447.9h.1M455.2 459.5h.1M461.2 456.2h.1M451.2 466.3h.1M452.8 464.4h.1M448.3 460.8h.1M466.2 453.8h.1M457.1 462.6h.1M458.1 462.4h.1M461.0 458.9h.1M452.9 464.7h.1M458.5 451.2h.1M461.0 460.8h.1M462.2 463.4h.1M451.4 460.9h.1M460.8 470.4h.1M456.6 467.7h.1M463.8 465.4h.1M464.4 467.8h.1M452.8 455.1h.1M453.5 474.9h.1M463.1 457.3h.1M457.3 477.3h.1M453.5 463.5h.1M455.8 469.2h.1M448.4 465.7h.1M458.4 471.1h.1M459.5 466.0h.1M452.9 465.3h.1M455.0 475.6h.1M459.0 463.7h.1M458.2 464.0h.1M455.6 467.8h.1M457.4 457.5h.1M461.8 468.5h.1M463.0 460.8h.1M462.0 473.7h.1M460.7 466.2h.1M457.3 453.0h.1M452.6 463.1h.1M462.6 467.1h.1M454.9 465.0h.1M457.0 458.6h.1M457.3 469.3h.1M452.0 460.8h.1M457.3 456.7h.1M453.0 466.6h.1M467.9 464.1h.1M455.0 474.2h.1M458.2 450.9h.1M454.9 450.6h.1M456.0 473.3h.1M467.3 485.6h.1M462.3 461.4h.1M454.4 460.9h.1M452.3 457.3h.1M459.2 464.5h.1M458.4 462.5h.1M450.4 467.3h.1M457.6 469.0h.1M458.3 456.9h.1M462.1 468.9h.1M456.3 468.4h.1M459.7 460.4h.1M458.6 458.5h.1M464.0 460.6h.1M462.1 475.7h.1M457.8 468.1h.1M464.6 451.1h.1M467.8 467.7h.1M451.7 464.7h.1M467.9 464.3h.1M464.2 470.8h.1M454.5 466.1h.1M465.9 458.4h.1M458.1 460.0h.1M455.0 462.4h.1M447.3 459.4h.1M449.3 457.3h.1M454.8 470.6h.1M452.3 469.5h.1M455.6 458.5h.1M449.5 464.7h.1M457.1 469.0h.1M454.6 449.8h.1M460.2 472.7h.1M457.7 464.5h.1M459.9 465.4h.1M469.9 463.0h.1M460.0 469.7h.1M460.1 452.3h.1M459.5 461.5h.1M452.8 469.9h.1M454.4 466.4h.1M454.2 467.7h.1M464.0 458.0h.1M453.8 470.0h.1M453.3 470.8h.1M459.4 457.7h.1M454.9 472.6h.1M461.6 464.8h.1M458.6 471.1h.1M454.6 466.1h.1M459.8 472.7h.1M455.8 462.5h.1M458.8 462.3h.1M456.4 467.5h.1M455.2 461.9h.1M458.8 464.6h.1M455.8 463.2h.1M451.8 458.8h.1M454.1 456.5h.1M464.8 477.8h.1M456.4 463.2h.1M456.9 461.4h.1M454.9 469.8h.1M460.1 455.2h.1M458.6 458.2h.1M460.6 458.7h.1M459.0 458.9h.1M456.6 466.2h.1M460.8 454.6h.1M454.9 458.3h.1M449.5 465.4h.1M456.5 461.8h.1M453.7 475.6h.1M453.3 446.3h.1M455.8 465.7h.1M452.4 462.9h.1M446.5 462.1h.1M457.8 457.5h.1M452.3 456.7h.1M455.0 470.8h.1M458.0 459.6h.1M455.2 468.9h.1M454.3 457.8h.1M461.2 463.7h.1M463.8 462.1h.1M456.1 466.5h.1M458.5 464.0h.1M453.0 459.3h.1M453.9 460.4h.1M463.6 457.7h.1M459.7 466.6h.1M450.1 470.5h.1M458.6 466.2h.1M458.5 470.3h.1M459.4 459.4h.1M454.5 458.0h.1M453.8 458.0h.1M458.6 470.1h.1M456.5 470.5h.1M462.9 468.2h.1M449.7 446.6h.1M462.6 467.0h.1M450.8 458.8h.1M458.6 463.6h.1M451.4 463.3h.1M450.5 462.0h.1M460.5 465.5h.1M454.7 467.8h.1M466.8 461.8h.1M458.1 454.1h.1M461.3 453.0h.1M456.5 469.7h.1M460.3 442.0h.1M453.6 447.6h.1M456.1 453.9h.1M468.2 471.5h.1M452.8 461.6h.1M457.8 470.1h.1M464.2 468.1h.1M451.4 442.7h.1M450.1 455.9h.1M461.2 454.8h.1M463.6 468.9h.1M457.9 469.1h.1M454.1 470.6h.1M458.0 459.7h.1M453.7 449.8h.1M455.9 467.1h.1M481.4 478.5h.1M491.2 493.3h.1M477.1 486.1h.1M483.2 480.5h.1M479.5 479.4h.1M484.7 482.4h.1M480.7 478.2h.1M486.3 487.3h.1M481.3 482.9h.1M486.7 482.2h.1M479.1 480.7h.1M483.7 475.6h.1M483.5 480.5h.1M480.1 487.9h.1M484.7 476.8h.1M488.8 479.3h.1M478.7 475.2h.1M488.2 475.3h.1M484.8 482.6h.1M480.7 483.9h.1M488.1 480.3h.1M483.3 483.5h.1M483.7 486.4h.1M486.8 481.0h.1M484.4 478.8h.1M486.4 477.3h.1M483.2 475.0h.1M494.3 481.9h.1M483.6 482.6h.1M475.7 487.0h.1M475.8 483.4h.1M481.5 483.9h.1M486.3 481.7h.1M488.0 479.2h.1M484.5 479.2h.1M480.2 475.7h.1M485.1 488.2h.1M479.4 478.4h.1M480.1 482.3h.1M474.1 481.3h.1M479.9 476.1h.1M484.5 481.4h.1M484.7 486.0h.1M476.9 485.5h.1M485.8 491.4h.1M489.7 482.9h.1M474.4 481.7h.1M490.4 484.3h.1M483.0 475.0h.1M483.6 474.0h.1M479.7 478.7h.1M485.2 477.7h.1M483.0 480.4h.1M484.6 483.3h.1M485.5 479.3h.1M484.1 477.7h.1M477.7 478.0h.1M483.3 471.5h.1M486.9 482.2h.1M476.1 475.9h.1M479.2 470.3h.1M475.3 482.4h.1M474.1 490.4h.1M489.8 487.5h.1M485.6 485.8h.1M489.5 476.2h.1M490.6 477.0h.1M481.7 468.7h.1M481.8 472.8h.1M493.8 482.2h.1M487.5 478.3h.1M487.7 483.0h.1M481.6 483.0h.1M481.4 474.7h.1M473.9 473.2h.1M486.1 489.4h.1M481.1 477.8h.1M489.4 479.8h.1M484.9 480.6h.1M472.0 474.4h.1M484.8 481.0h.1M482.0 474.5h.1M483.9 479.2h.1M478.7 479.5h.1M484.5 490.2h.1M488.5 476.4h.1M487.0 473.4h.1M472.3 476.9h.1M492.3 483.9h.1M480.0 482.4h.1M473.6 479.6h.1M478.7 474.8h.1M481.5 476.9h.1M484.8 474.8h.1M485.1 482.6h.1M487.1 483.4h.1M486.6 485.3h.1M489.2 485.4h.1M488.9 474.5h.1M482.1 487.2h.1M480.5 483.9h.1M488.3 486.6h.1M480.5 481.6h.1M482.7 483.5h.1M474.3 480.2h.1M488.8 480.5h.1M488.1 487.0h.1M484.0 478.6h.1M480.7 475.0h.1M481.3 479.7h.1M487.9 477.4h.1M480.1 480.2h.1M482.3 486.3h.1M483.4 487.0h.1M483.7 468.6h.1M482.5 475.4h.1M483.4 476.3h.1M487.6 479.2h.1M481.6 490.0h.1M481.8 478.4h.1M481.7 483.9h.1M484.5 480.7h.1M488.8 477.8h.1M486.8 484.3h.1M484.8 478.2h.1M482.7 485.6h.1M470.6 487.4h.1M478.9 484.8h.1M485.8 482.5h.1M485.8 478.3h.1M491.0 480.8h.1M487.2 479.6h.1M481.8 485.5h.1M478.8 480.4h.1M479.4 473.2h.1M488.0 480.6h.1M474.7 480.2h.1M494.4 485.4h.1M482.3 482.2h.1M482.0 481.6h.1M482.8 481.4h.1M481.2 484.5h.1M477.8 472.7h.1M475.5 477.4h.1M483.9 483.1h.1M487.0 473.5h.1M476.0 483.4h.1M491.7 483.4h.1M482.7 485.3h.1M491.1 485.1h.1M484.3 479.1h.1M480.8 478.5h.1M477.7 482.1h.1M488.2 479.2h.1M487.0 483.6h.1M482.8 480.3h.1M490.4 477.1h.1M480.1 478.7h.1M479.8 483.1h.1M486.2 479.3h.1M486.4 472.3h.1M483.9 491.4h.1M487.9 475.9h.1M487.5 477.6h.1M486.2 483.7h.1M476.7 489.0h.1M476.9 478.5h.1M486.6 483.4h.1M484.4 479.1h.1M487.1 482.3h.1M481.9 485.7h.1M490.7 477.9h.1M481.5 475.8h.1M477.8 481.4h.1M487.9 474.0h.1M482.3 482.1h.1M480.7 484.6h.1M486.2 480.3h.1M488.9 482.2h.1M488.6 483.4h.1M482.2 487.5h.1M480.2 482.3h.1M481.9 476.8h.1M477.4 485.9h.1M489.8 485.6h.1M474.2 483.6h.1M484.0 483.4h.1M484.7 483.3h.1M485.6 485.6h.1M484.2 478.2h.1M473.1 482.0h.1M473.5 477.9h.1M483.3 480.0h.1M479.9 488.6h.1M476.8 486.1h.1M482.1 480.0h.1M483.8 482.8h.1M475.3 482.9h.1M482.7 480.5h.1M483.5 480.0h.1M488.5 476.6h.1M479.8 482.9h.1M482.5 484.8h.1M470.0 479.5h.1M483.8 488.7h.1M488.2 476.4h.1M488.4 476.8h.1M484.9 478.9h.1M476.9 484.3h.1M486.1 479.2h.1M479.5 477.1h.1M482.7 485.7h.1M481.3 480.3h.1M481.5 475.0h.1M481.6 477.7h.1M489.0 481.4h.1M489.4 480.2h.1M484.2 487.0h.1M485.5 480.9h.1M485.7 482.1h.1M488.7 477.8h.1M481.2 476.5h.1M489.1 483.5h.1M482.0 483.2h.1M492.3 484.2h.1M483.0 476.3h.1M486.1 492.5h.1M488.9 479.2h.1M476.2 485.0h.1M479.5 478.8h.1M493.5 478.7h.1M482.3 492.6h.1M491.4 469.9h.1M487.1 479.5h.1M484.2 477.8h.1M484.8 483.5h.1M482.0 484.2h.1M486.9 475.3h.1M491.8 481.3h.1M487.5 487.1h.1M483.3 491.5h.1M479.3 475.8h.1M481.8 489.0h.1M490.9 484.3h.1M478.9 478.8h.1M482.5 481.1h.1M478.1 480.8h.1M481.2 482.6h.1M478.9 478.1h.1M484.0 483.6h.1M483.8 481.4h.1M482.7 477.8h.1M481.4 476.6h.1M485.9 482.4h.1M482.6 476.7h.1M481.5 479.8h.1M488.1 479.0h.1M484.4 477.6h.1M486.4 479.3h.1M479.4 471.9h.1M481.8 478.9h.1M488.8 474.9h.1M480.6 475.0h.1M487.0 481.7h.1M481.6 483.3h.1M484.1 478.3h.1M483.1 483.2h.1M487.7 488.4h.1M484.7 480.8h.1M483.8 476.8h.1M482.6 483.0h.1M481.5 479.2h.1M477.4 483.2h.1M488.2 480.5h.1M484.1 481.4h.1M483.6 479.6h.1M487.9 490.6h.1M488.0 481.9h.1M481.7 475.0h.1M488.1 479.6h.1M486.0 478.2h.1M471.9 489.9h.1M477.7 483.2h.1M488.7 473.1h.1M484.2 480.0h.1M476.2 488.3h.1M481.1 482.9h.1M483.5 489.0h.1M479.2 478.8h.1M484.6 483.7h.1M483.3 485.6h.1M488.7 482.4h.1M477.0 476.3h.1M475.8 478.4h.1M487.5 487.8h.1M484.3 484.4h.1M481.6 479.2h.1M486.7 473.2h.1M482.5 476.6h.1M484.5 483.1h.1M484.3 486.6h.1M483.8 486.2h.1M484.4 471.4h.1M483.2 476.6h.1M481.6 469.9h.1M482.2 479.0h.1M478.2 479.5h.1M487.1 480.8h.1M486.5 476.6h.1M491.2 476.4h.1M477.7 481.4h.1M486.1 486.3h.1M486.8 484.8h.1M476.3 481.4h.1M480.6 470.9h.1M490.2 475.2h.1M486.3 484.3h.1M481.9 476.1h.1M489.4 480.5h.1M484.1 481.1h.1M484.9 483.3h.1M484.1 484.9h.1M483.2 474.5h.1M479.7 483.0h.1M479.2 481.5h.1M486.8 477.6h.1M483.2 474.9h.1M477.6 482.7h.1M484.3 475.6h.1M481.3 477.4h.1M481.8 477.7h.1M481.0 490.5h.1M481.0 474.6h.1M481.5 486.0h.1M482.3 483.5h.1M481.8 478.7h.1M490.0 481.7h.1M480.7 483.6h.1M476.9 473.9h.1M482.0 478.6h.1M483.7 475.0h.1M485.3 479.6h.1M482.1 482.0h.1M481.7 485.1h.1M479.3 481.8h.1M482.6 470.3h.1M478.8 478.2h.1M485.3 474.7h.1M480.6 478.3h.1M476.7 478.1h.1M487.6 484.6h.1M478.5 477.1h.1M479.9 470.9h.1M493.5 477.1h.1M484.6 478.2h.1M481.9 473.6h.1M478.3 479.7h.1M480.1 483.5h.1M480.7 482.2h.1M485.5 475.1h.1M488.7 479.5h.1M494.4 477.9h.1M487.9 483.7h.1M476.3 473.5h.1M476.5 484.1h.1M483.2 484.6h.1M478.2 483.8h.1M483.1 483.1h.1M486.1 480.9h.1M489.5 474.2h.1M481.5 485.0h.1M478.5 483.7h.1M483.4 481.8h.1M472.2 476.6h.1M486.3 475.2h.1M486.8 483.6h.1M469.7 481.0h.1M478.0 475.7h.1M475.8 481.8h.1M488.9 491.7h.1M489.8 478.4h.1M475.7 485.2h.1M486.7 480.7h.1M476.9 475.1h.1M482.1 487.2h.1M490.2 476.2h.1M475.1 480.0h.1M486.9 477.1h.1M483.7 484.5h.1M475.4 488.6h.1M489.7 480.8h.1M484.5 483.0h.1M479.9 483.8h.1M483.6 477.1h.1M482.7 479.2h.1M481.0 483.6h.1M486.8 484.7h.1M481.1 483.5h.1M481.9 488.0h.1M478.2 485.1h.1M480.7 472.8h.1M486.6 474.6h.1M479.1 480.2h.1M485.1 479.9h.1M485.0 481.7h.1M475.6 486.0h.1M489.7 477.9h.1M486.4 479.2h.1M479.3 479.2h.1M474.2 477.6h.1M486.2 485.0h.1M485.3 481.6h.1M480.2 484.8h.1M491.9 482.1h.1M491.2 481.0h.1M482.1 484.5h.1M483.7 479.5h.1M480.7 481.1h.1M483.0 473.4h.1M485.4 488.1h.1M484.8 482.6h.1M485.6 484.5h.1M486.7 479.0h.1M478.0 482.5h.1M485.2 478.1h.1M482.0 482.6h.1M490.4 477.9h.1M479.0 480.5h.1M479.6 478.3h.1M478.9 485.7h.1M485.2 481.3h.1M485.9 484.4h.1M478.9 483.1h.1M480.5 473.9h.1M485.0 478.0h.1M489.8 479.4h.1M482.0 476.8h.1M482.5 480.2h.1M486.1 477.2h.1M480.0 475.9h.1M480.2 478.8h.1M482.5 477.6h.1M487.3 477.3h.1M484.3 479.9h.1M484.9 480.9h.1M481.3 480.5h.1M480.9 479.9h.1M488.4 484.2h.1M489.4 476.9h.1M488.6 482.5h.1M486.2 479.4h.1M491.2 476.7h.1M484.4 474.6h.1M482.0 482.2h.1M484.4 481.8h.1M489.2 476.0h.1M475.4 485.0h.1M476.4 479.2h.1M493.7 483.7h.1M482.6 484.7h.1M479.5 483.8h.1M481.4 477.5h.1M478.8 477.9h.1M484.4 488.5h.1M487.5 484.7h.1M482.7 488.0h.1M482.8 486.9h.1M477.7 483.2h.1M478.5 479.2h.1M482.4 472.6h.1M485.0 480.9h.1M475.5 480.1h.1M482.7 473.6h.1M480.3 485.0h.1M481.4 479.7h.1M482.7 479.6h.1M478.4 479.9h.1M474.4 481.2h.1M481.9 474.7h.1M476.4 481.4h.1M481.2 477.8h.1M480.7 481.5h.1M487.9 478.7h.1M474.6 476.7h.1M479.0 482.4h.1M488.2 482.1h.1M479.4 484.7h.1M481.2 475.4h.1M482.4 489.4h.1M483.1 477.5h.1M486.6 477.1h.1M488.4 483.6h.1M477.3 478.7h.1M481.6 477.0h.1M484.9 479.5h.1M490.9 481.7h.1M487.5 484.8h.1M485.2 484.1h.1M480.1 484.9h.1M487.6 485.2h.1M480.8 478.1h.1M488.4 480.2h.1M494.7 482.8h.1M478.1 483.3h.1M484.4 472.3h.1M480.6 471.0h.1M495.0 475.5h.1M479.5 479.1h.1M479.7 485.8h.1M482.1 474.4h.1M486.7 482.0h.1M476.9 484.6h.1M477.3 476.6h.1M489.8 478.4h.1M483.5 476.9h.1M481.9 471.7h.1M481.9 477.1h.1M487.4 478.6h.1M479.5 478.4h.1M474.7 482.3h.1M475.3 475.2h.1M484.4 479.1h.1M492.3 474.5h.1M484.8 488.3h.1M480.4 474.8h.1M487.8 488.6h.1M479.8 484.1h.1M486.3 481.0h.1M486.9 479.3h.1M486.1 479.4h.1M482.5 475.8h.1M483.0 480.1h.1M479.2 477.3h.1M481.5 486.6h.1M485.4 483.4h.1M489.1 483.5h.1M490.7 486.6h.1M486.5 480.1h.1M483.9 480.2h.1M480.0 473.8h.1M485.1 474.7h.1M486.4 488.1h.1M483.7 476.5h.1M480.4 483.1h.1M482.9 478.6h.1M484.5 475.5h.1M478.7 482.2h.1M480.0 483.2h.1M481.1 480.8h.1M482.6 486.0h.1M482.0 480.9h.1M478.2 481.1h.1M482.6 481.8h.1M474.2 483.2h.1M483.6 481.8h.1M485.0 484.9h.1M478.9 478.2h.1M484.4 474.1h.1M493.2 471.8h.1M485.7 478.4h.1M486.1 487.0h.1M491.7 477.5h.1M483.6 477.2h.1M477.2 481.1h.1M480.5 475.2h.1M481.8 477.9h.1M478.2 481.4h.1M485.7 482.1h.1M480.2 476.6h.1M473.0 483.5h.1M487.7 476.8h.1M477.2 475.3h.1M489.6 479.7h.1M481.3 480.8h.1M483.3 479.1h.1M482.5 483.3h.1M487.5 475.8h.1M482.7 480.2h.1M484.1 490.8h.1M486.3 483.7h.1M482.8 482.9h.1M488.7 485.8h.1M479.6 481.3h.1M484.9 475.9h.1M481.8 478.5h.1M487.3 480.7h.1M492.2 482.8h.1M481.4 481.7h.1M483.7 477.1h.1M484.9 474.6h.1M484.2 478.5h.1M483.7 477.5h.1M491.0 477.7h.1M486.8 480.8h.1M488.5 477.6h.1M477.6 483.5h.1M487.9 483.3h.1M466.2 487.8h.1M489.8 480.7h.1M479.3 482.7h.1M475.6 479.2h.1M486.0 486.4h.1M481.5 479.6h.1M477.2 480.0h.1M480.2 480.6h.1M479.9 482.4h.1M482.8 477.6h.1M485.9 482.8h.1M482.1 479.7h.1M486.9 482.7h.1M482.6 488.9h.1M481.1 475.0h.1M480.4 481.4h.1M475.5 488.6h.1M487.4 476.5h.1M485.0 475.1h.1M483.1 479.5h.1M490.2 472.7h.1M481.0 472.5h.1M481.1 479.2h.1M483.3 484.9h.1M479.2 478.2h.1M489.8 480.7h.1M479.0 480.6h.1M478.4 476.8h.1M480.9 474.1h.1M491.3 478.8h.1M484.3 479.5h.1M482.8 477.1h.1M485.1 478.7h.1M479.5 484.4h.1M490.0 482.4h.1M485.6 479.1h.1M483.8 483.5h.1M483.4 486.1h.1M489.6 481.5h.1M484.3 477.0h.1M481.3 477.8h.1M481.7 476.7h.1M485.0 481.9h.1M482.6 487.4h.1M484.4 480.3h.1M484.1 478.0h.1M486.6 476.7h.1M483.1 488.9h.1M484.5 476.1h.1M478.3 485.3h.1M475.0 487.5h.1M489.2 478.6h.1M484.4 478.5h.1M479.1 482.3h.1M480.2 483.1h.1M484.7 477.9h.1M483.6 480.7h.1M482.5 479.6h.1M488.7 477.4h.1M483.9 484.9h.1M485.0 478.8h.1M478.2 479.4h.1M474.6 478.7h.1M483.2 486.1h.1M486.1 484.9h.1M485.3 481.5h.1M476.2 478.1h.1M482.2 480.2h.1M477.8 474.1h.1M484.1 479.4h.1M483.3 479.6h.1M482.2 475.7h.1M487.1 482.2h.1M483.1 487.7h.1M480.1 484.0h.1M483.0 480.6h.1M487.1 480.5h.1M483.2 475.5h.1M484.5 482.2h.1M481.4 475.6h.1M487.6 481.1h.1M488.4 480.2h.1M494.7 475.5h.1M486.5 481.1h.1M484.4 479.6h.1M485.7 484.1h.1M483.7 476.3h.1M487.6 484.6h.1M478.1 481.5h.1M490.0 483.1h.1M481.1 481.7h.1M484.8 476.0h.1M482.1 479.2h.1M481.8 486.0h.1M475.4 476.3h.1M480.1 485.7h.1M482.9 479.5h.1M482.3 487.0h.1M491.9 481.5h.1M479.0 479.4h.1M475.5 484.4h.1M482.4 485.1h.1M480.7 477.4h.1M473.7 481.6h.1M488.0 471.6h.1M478.6 480.2h.1M487.9 488.3h.1M490.6 481.7h.1M476.9 477.1h.1M485.5 480.6h.1M479.7 480.2h.1M483.9 489.8h.1M481.9 482.9h.1M484.6 483.7h.1M480.2 486.7h.1M489.2 482.6h.1M478.5 476.1h.1M482.4 480.0h.1M479.4 480.0h.1M476.4 479.8h.1M477.3 481.7h.1M472.3 477.4h.1M481.4 474.5h.1M481.3 479.7h.1M489.0 483.3h.1M481.4 483.9h.1M483.0 483.8h.1M481.3 481.7h.1M481.8 484.4h.1M491.0 487.1h.1M489.5 479.9h.1M490.3 479.3h.1M483.2 476.9h.1M487.4 473.8h.1M482.9 483.4h.1M478.3 482.5h.1M478.5 479.2h.1M484.8 486.3h.1M492.5 476.4h.1M475.8 477.5h.1M484.2 480.1h.1M477.5 476.9h.1M484.2 480.7h.1M492.2 475.7h.1M477.8 485.0h.1M480.9 481.0h.1M488.7 478.2h.1M482.1 480.6h.1M483.4 487.5h.1M489.6 477.8h.1M488.9 474.3h.1M480.2 477.5h.1M480.5 481.2h.1M484.4 476.8h.1M484.9 477.8h.1M485.6 481.7h.1M478.2 476.7h.1M487.5 480.2h.1M484.5 479.1h.1M490.1 482.3h.1M480.1 481.3h.1M478.4 478.8h.1M481.6 476.2h.1M479.4 484.8h.1M479.3 479.5h.1M477.8 485.6h.1M479.0 483.5h.1M486.0 482.7h.1M481.0 471.4h.1M479.3 479.5h.1M476.8 475.7h.1M484.6 480.4h.1M487.8 482.3h.1M488.9 481.6h.1M482.6 481.2h.1M487.1 484.4h.1M486.1 478.5h.1M478.6 484.6h.1M487.9 476.3h.1M483.4 476.4h.1M483.6 489.2h.1M481.7 478.7h.1M483.0 478.6h.1M485.0 474.0h.1M486.6 477.3h.1M483.4 490.7h.1M488.7 481.3h.1M482.6 482.5h.1M487.3 494.3h.1M492.0 486.5h.1M479.7 486.5h.1M482.5 481.2h.1M481.7 479.0h.1M485.8 481.3h.1M486.5 478.4h.1M479.4 478.8h.1M482.1 482.0h.1M491.4 481.1h.1M482.1 490.8h.1M491.4 484.2h.1M487.7 473.2h.1M481.7 480.4h.1M483.3 472.5h.1M484.5 488.0h.1M489.4 481.6h.1M485.6 480.5h.1M473.8 482.7h.1M487.5 474.6h.1M493.6 483.7h.1M485.6 486.5h.1M479.0 480.1h.1M476.7 484.5h.1M485.4 490.0h.1M486.7 478.8h.1M474.3 479.1h.1M481.8 480.3h.1M481.0 479.1h.1M483.9 478.0h.1M479.6 479.5h.1M476.5 471.0h.1M483.0 476.4h.1M476.7 479.9h.1M483.3 485.7h.1M480.8 480.4h.1M482.4 477.9h.1M477.3 472.4h.1M475.1 476.0h.1M479.2 478.3h.1M474.9 481.5h.1M484.8 475.3h.1M480.0 478.6h.1M485.9 485.3h.1M485.9 483.3h.1M488.8 483.3h.1M484.2 482.7h.1M487.6 481.1h.1M487.8 478.2h.1M478.3 480.3h.1M485.7 488.9h.1M482.4 476.2h.1M475.3 476.7h.1M481.7 478.7h.1M484.7 480.6h.1M480.5 490.8h.1M480.7 479.3h.1M477.6 477.8h.1M484.4 473.3h.1M481.8 477.3h.1M483.5 482.9h.1M482.7 484.4h.1M480.8 481.9h.1M479.4 468.7h.1M478.9 475.0h.1M487.8 485.1h.1M487.3 479.4h.1M479.9 484.4h.1M481.1 475.8h.1M496.1 480.8h.1M497.6 473.6h.1M487.2 470.7h.1M487.1 473.4h.1M492.6 478.9h.1M475.0 474.7h.1M480.3 476.9h.1M490.9 470.8h.1M483.5 479.6h.1M479.6 474.4h.1M481.0 481.3h.1M489.3 471.1h.1M491.1 484.1h.1M483.0 478.0h.1M488.3 479.8h.1M497.7 477.0h.1M483.1 477.5h.1M484.4 467.8h.1M489.9 477.8h.1M480.0 472.3h.1M475.8 477.2h.1M486.6 477.2h.1M490.5 475.2h.1M478.2 476.7h.1M494.0 482.9h.1M484.9 485.4h.1M479.5 473.8h.1M482.7 486.1h.1M467.9 477.8h.1M485.3 472.2h.1M487.3 467.1h.1M486.3 471.8h.1M480.7 477.7h.1M484.3 474.0h.1M485.0 473.0h.1M492.5 478.1h.1M486.7 483.1h.1M495.8 469.3h.1M485.7 470.7h.1M488.7 473.7h.1M481.0 475.2h.1M491.6 471.9h.1M487.1 475.1h.1M483.0 477.0h.1M495.2 474.4h.1M486.2 478.3h.1M476.0 475.1h.1M488.1 478.2h.1M485.5 471.7h.1M482.8 479.2h.1M480.7 480.9h.1M487.3 484.0h.1M475.7 476.3h.1M475.8 471.1h.1M496.4 479.9h.1M487.1 471.4h.1M485.1 478.7h.1M492.7 466.9h.1M484.4 470.9h.1M497.6 484.0h.1M485.2 474.9h.1M493.4 484.3h.1M482.5 480.9h.1M486.8 477.5h.1M476.5 486.3h.1M484.4 471.4h.1M477.1 483.6h.1M486.6 480.9h.1M485.7 469.9h.1M483.8 472.7h.1M478.6 477.2h.1M480.7 478.0h.1M485.8 474.0h.1M479.8 475.2h.1M491.0 481.5h.1M492.0 472.4h.1M479.8 477.5h.1M484.8 479.5h.1M487.4 469.6h.1M486.3 483.6h.1M484.3 476.2h.1M485.3 469.0h.1M489.0 478.4h.1M489.9 473.8h.1M480.8 471.4h.1M484.1 476.3h.1M488.3 471.9h.1M480.6 470.9h.1M482.0 480.5h.1M490.1 476.6h.1M491.4 478.5h.1M482.4 479.5h.1M477.6 473.0h.1M486.2 476.5h.1M481.1 474.9h.1M478.7 472.7h.1M500.7 479.3h.1M490.5 482.2h.1M476.0 480.0h.1M480.7 469.7h.1M481.7 477.0h.1M491.2 481.6h.1M485.8 482.3h.1M473.3 475.9h.1M488.5 488.1h.1M475.7 464.5h.1M483.7 475.2h.1M488.0 475.4h.1M479.5 474.3h.1M486.6 488.2h.1M468.2 470.7h.1M483.7 474.2h.1M476.1 474.1h.1M481.6 477.0h.1M488.2 474.5h.1M488.4 472.8h.1M481.6 477.9h.1M482.6 479.7h.1M489.7 473.5h.1M497.3 479.7h.1M481.4 470.7h.1M484.0 476.6h.1M488.7 477.9h.1M488.6 469.3h.1M481.5 476.0h.1M489.4 475.8h.1M486.3 471.6h.1M491.6 476.7h.1M477.2 475.0h.1M483.5 477.1h.1M496.3 470.7h.1M492.6 470.5h.1M484.3 471.0h.1M484.6 481.6h.1M494.9 480.7h.1M484.1 480.3h.1M476.2 475.6h.1M480.7 466.3h.1M483.2 470.2h.1M491.8 472.0h.1M491.8 475.2h.1M491.1 479.4h.1M492.9 472.0h.1M477.4 477.2h.1M498.8 482.2h.1M485.4 481.5h.1M484.8 477.3h.1M492.2 477.9h.1M484.3 476.9h.1M491.8 482.6h.1M493.9 478.6h.1M479.2 480.5h.1M483.2 472.5h.1M484.4 472.9h.1M477.6 476.8h.1M479.6 480.6h.1M486.9 470.4h.1M487.6 478.3h.1M478.2 480.2h.1M482.7 475.0h.1M489.1 466.0h.1M481.9 479.7h.1M487.2 483.2h.1M488.3 476.7h.1M491.7 475.7h.1M489.6 464.1h.1M476.5 481.5h.1M491.3 478.9h.1M491.0 468.1h.1M487.6 470.0h.1M481.9 472.6h.1M491.3 472.5h.1M490.6 480.0h.1M487.0 478.3h.1M492.1 477.5h.1M489.2 478.8h.1M475.3 485.5h.1M488.1 476.0h.1M488.7 471.9h.1M484.1 470.8h.1M484.3 481.6h.1M477.4 471.5h.1M488.1 473.3h.1M500.3 472.2h.1M491.7 476.6h.1M487.7 481.5h.1M496.5 482.9h.1M489.1 475.9h.1M489.7 480.5h.1M484.8 472.3h.1M479.7 469.6h.1M487.2 481.7h.1M488.3 475.4h.1M478.6 478.6h.1M503.7 491.0h.1M467.3 489.9h.1M468.4 478.9h.1M469.6 468.7h.1M488.5 475.4h.1M469.8 480.8h.1M475.8 472.9h.1M459.5 476.8h.1M456.2 472.4h.1M477.7 476.6h.1M476.2 476.8h.1M472.9 473.9h.1M487.6 474.3h.1M474.3 492.8h.1M487.8 473.7h.1M459.7 480.9h.1M471.8 488.7h.1M462.8 483.4h.1M466.1 474.4h.1M486.8 490.3h.1M476.2 481.4h.1M463.7 492.9h.1M456.9 487.9h.1M460.5 483.9h.1M470.3 476.2h.1M465.8 480.8h.1M462.8 473.6h.1M485.9 473.0h.1M469.7 470.2h.1M452.7 475.1h.1M496.0 480.4h.1M477.8 485.5h.1M455.5 471.7h.1M467.3 486.7h.1M470.4 469.8h.1M467.3 466.5h.1M472.0 468.6h.1M456.6 464.6h.1M458.2 474.2h.1M479.0 475.6h.1M465.1 474.8h.1M469.3 475.8h.1M453.0 476.9h.1M475.7 466.2h.1M443.6 485.0h.1M466.3 472.3h.1M448.8 476.7h.1M481.7 474.0h.1M477.0 477.8h.1M453.4 488.3h.1M480.8 476.3h.1M478.3 483.3h.1M488.9 485.9h.1M469.7 484.8h.1M465.6 470.8h.1M464.1 475.5h.1M483.5 479.6h.1M475.1 472.8h.1M477.8 474.5h.1M449.0 483.7h.1M471.2 489.8h.1M489.8 478.8h.1M451.3 462.1h.1M468.7 468.5h.1M485.3 482.8h.1M453.2 463.9h.1M487.4 487.3h.1M481.3 490.7h.1M474.9 473.3h.1M471.0 479.2h.1M460.5 478.0h.1M465.2 461.2h.1M470.7 473.8h.1M499.6 489.9h.1M480.0 477.3h.1M442.9 470.0h.1M463.5 486.4h.1M483.8 483.4h.1M455.2 477.6h.1M473.1 487.1h.1M462.3 476.8h.1M465.9 469.9h.1M460.4 484.4h.1M462.5 474.6h.1M458.6 472.4h.1M477.4 481.1h.1M473.5 480.2h.1M468.9 483.9h.1M458.9 476.1h.1M453.5 488.5h.1M477.7 479.5h.1M473.6 484.2h.1M477.4 483.6h.1M468.2 478.1h.1M480.9 484.4h.1M473.1 487.7h.1M458.3 479.1h.1M454.0 487.6h.1M476.9 479.2h.1M462.6 477.8h.1M476.4 483.2h.1M457.9 475.9h.1M461.9 478.3h.1M459.6 471.9h.1M491.8 473.7h.1M471.0 482.0h.1M484.6 488.6h.1M463.8 483.8h.1M479.5 481.7h.1M442.2 464.6h.1M458.6 492.3h.1M481.0 477.7h.1M469.5 480.9h.1M468.1 484.6h.1M458.2 475.3h.1M465.2 468.8h.1M452.1 472.4h.1M452.1 485.4h.1M481.1 482.5h.1M454.2 481.3h.1M469.4 468.0h.1M482.5 482.2h.1M476.8 462.2h.1M456.3 491.8h.1M473.7 474.3h.1M457.9 471.8h.1M462.0 460.4h.1M470.5 479.2h.1M460.1 477.6h.1M461.0 487.5h.1M457.9 477.7h.1M486.9 490.0h.1M459.3 464.8h.1M491.6 472.2h.1M463.5 479.0h.1M477.9 474.9h.1M463.2 475.4h.1M453.0 486.6h.1M462.0 480.1h.1M458.8 485.4h.1M492.8 473.6h.1M468.6 478.5h.1M486.9 474.6h.1M482.6 481.1h.1M479.5 474.8h.1M458.0 476.4h.1M479.4 477.8h.1M478.1 491.1h.1M447.8 470.4h.1M460.1 473.5h.1M474.8 470.0h.1M456.6 477.7h.1M467.2 479.5h.1M467.5 466.3h.1M452.7 479.9h.1M457.7 479.4h.1M449.3 469.7h.1M445.4 473.3h.1M450.1 481.4h.1M454.0 485.9h.1M468.6 478.2h.1M458.4 464.9h.1M452.8 454.3h.1M459.6 487.2h.1M454.5 473.2h.1M456.8 471.7h.1M458.8 481.4h.1M447.9 457.3h.1M454.5 473.9h.1M447.2 481.9h.1M463.9 480.4h.1M447.5 477.4h.1M450.1 484.4h.1M457.8 478.8h.1M461.0 481.2h.1M471.2 463.4h.1M456.7 483.2h.1M460.4 452.3h.1M462.2 471.5h.1M449.8 491.2h.1M454.9 482.5h.1M459.3 481.0h.1M462.2 478.8h.1M463.5 475.8h.1M450.5 488.5h.1M456.2 482.5h.1M447.2 453.2h.1M456.6 478.1h.1M464.9 464.5h.1M450.8 478.1h.1M463.0 478.3h.1M459.0 483.1h.1M468.6 488.8h.1M454.2 461.6h.1M445.6 473.1h.1M450.4 476.8h.1M454.9 455.3h.1M461.7 481.3h.1M450.8 464.1h.1M464.5 478.0h.1M454.4 467.1h.1M451.8 489.6h.1M451.5 475.6h.1M453.5 474.3h.1M448.6 486.9h.1M456.4 482.8h.1M449.9 474.1h.1M467.7 475.3h.1M453.2 463.3h.1M451.9 480.6h.1M453.1 470.0h.1M462.5 490.1h.1M453.6 472.1h.1M446.3 467.0h.1M449.1 475.1h.1M456.7 480.0h.1M442.4 474.0h.1M448.7 474.6h.1M444.2 471.9h.1M454.1 465.4h.1M456.7 479.1h.1M460.6 465.2h.1M447.9 475.8h.1M456.1 470.4h.1M445.9 475.5h.1M462.3 467.4h.1M459.0 464.5h.1M459.8 463.4h.1M462.0 475.0h.1M462.4 471.9h.1M447.5 467.0h.1M449.7 478.0h.1M451.9 480.6h.1M455.0 471.3h.1M452.6 473.2h.1M458.6 487.4h.1M452.8 476.1h.1M461.9 488.0h.1M450.5 465.0h.1M452.3 486.7h.1M453.1 484.2h.1M454.8 481.0h.1M458.4 474.7h.1M451.9 476.3h.1M470.0 466.8h.1M460.5 473.6h.1M447.8 474.8h.1M461.0 464.7h.1M449.1 482.4h.1M447.6 486.2h.1M462.5 469.7h.1M456.8 486.2h.1M461.2 457.8h.1M447.0 476.6h.1M462.5 489.7h.1M458.1 474.8h.1M450.6 482.2h.1M455.9 493.3h.1M467.3 482.9h.1M451.0 475.2h.1M462.4 478.4h.1M459.1 470.6h.1M442.1 482.4h.1M466.9 472.2h.1M457.2 459.5h.1M464.2 466.8h.1M456.7 477.3h.1M458.1 470.7h.1M458.7 477.4h.1M448.9 467.1h.1M465.9 478.2h.1M458.7 494.3h.1M452.1 487.0h.1M462.8 469.6h.1M454.9 479.0h.1M446.6 460.9h.1M452.3 487.7h.1M454.5 490.1h.1M445.7 473.1h.1M458.0 486.0h.1M460.6 485.6h.1M460.2 477.5h.1M465.3 483.3h.1M452.1 483.9h.1M459.7 477.8h.1M459.6 473.7h.1M453.6 461.8h.1M453.5 488.5h.1M459.7 481.8h.1M446.6 475.7h.1M457.4 485.6h.1M456.5 470.3h.1M459.4 477.1h.1M449.3 476.3h.1M457.6 475.4h.1M453.3 475.8h.1M456.5 482.4h.1M449.3 471.6h.1M459.7 472.2h.1M450.4 464.8h.1M447.4 467.4h.1M455.5 481.7h.1M456.8 477.4h.1M459.6 475.4h.1M448.2 476.9h.1M455.0 464.0h.1M454.3 473.8h.1M455.3 473.1h.1M469.9 478.8h.1M454.9 475.8h.1M455.7 485.6h.1M455.9 484.4h.1M450.2 478.1h.1M455.3 477.7h.1M448.8 470.5h.1M446.6 479.9h.1M463.5 475.8h.1M447.5 472.9h.1M462.4 461.7h.1M453.9 477.0h.1M453.1 478.4h.1M458.5 479.3h.1M461.2 485.3h.1M446.4 466.7h.1M454.5 476.9h.1M457.1 466.0h.1M448.4 491.6h.1M456.8 479.2h.1M466.2 459.4h.1M457.3 474.0h.1M455.2 488.3h.1M455.3 463.4h.1M448.9 464.5h.1M462.7 470.7h.1M449.0 474.3h.1M447.7 479.9h.1M456.5 478.0h.1M462.7 472.6h.1M461.3 461.4h.1M461.5 492.0h.1M450.9 483.0h.1M449.9 477.1h.1M459.0 471.4h.1M449.3 475.2h.1M455.5 479.5h.1M456.3 460.9h.1M462.4 480.3h.1M447.0 474.7h.1M455.0 471.3h.1M463.3 475.6h.1M455.7 462.1h.1M449.6 479.6h.1M467.0 479.4h.1M454.9 472.9h.1M449.0 465.7h.1M460.4 492.4h.1M454.0 468.6h.1M446.5 472.1h.1M462.1 461.6h.1M454.1 486.9h.1M465.3 470.0h.1M457.4 480.4h.1M456.9 475.4h.1M457.1 477.7h.1M454.8 474.4h.1M455.9 485.8h.1M450.5 489.1h.1M462.3 477.4h.1M470.7 483.3h.1M467.1 468.4h.1M442.5 482.7h.1M456.2 470.5h.1M449.7 480.9h.1M461.0 486.0h.1M455.7 472.4h.1M447.7 467.6h.1M464.1 464.5h.1M455.3 471.9h.1M451.8 464.8h.1M453.5 480.3h.1M454.2 479.0h.1M451.8 467.0h.1M460.7 475.0h.1M454.4 480.8h.1M461.7 471.2h.1M456.3 474.1h.1M464.0 464.3h.1M451.5 475.5h.1M458.8 485.9h.1M465.8 473.4h.1M459.1 476.5h.1M451.3 478.2h.1M455.6 487.4h.1M454.4 463.6h.1M457.4 470.8h.1M456.6 479.5h.1M445.2 461.2h.1M458.0 483.3h.1M452.3 475.6h.1M458.8 470.9h.1M455.3 471.6h.1M462.0 475.8h.1M450.0 478.1h.1M451.5 473.3h.1M448.3 474.1h.1M460.6 482.2h.1M459.4 468.5h.1M455.7 475.7h.1M454.4 473.5h.1M446.8 492.5h.1M451.4 477.3h.1M457.0 466.4h.1M452.2 479.2h.1M455.6 480.6h.1M449.8 475.3h.1M450.1 476.2h.1M451.9 471.5h.1M459.4 485.8h.1M455.4 478.2h.1M450.1 471.7h.1M453.3 479.6h.1M466.2 459.7h.1M462.8 488.2h.1M459.4 473.1h.1M460.3 463.3h.1M447.8 477.5h.1M452.3 482.5h.1M450.5 459.9h.1M454.9 481.1h.1M447.0 476.7h.1M456.4 479.7h.1M460.7 478.5h.1M451.8 464.5h.1M459.6 473.7h.1M461.4 486.7h.1M452.2 471.2h.1M463.5 477.9h.1M449.2 474.5h.1M453.5 486.9h.1M448.3 470.3h.1M460.8 483.5h.1M457.2 471.6h.1M450.3 453.4h.1M459.9 478.5h.1" stroke="#1a1a1a" stroke-width="0.6" stroke-linecap="square" fill="none"/>
<rect x="385.5" y="456" width="29.4" height="20.1" fill="none" stroke="#000" stroke-width="1.2"/>
<rect x="473" y="457" width="28.7" height="20.3" fill="none" stroke="#000" stroke-width="1.2"/>
<text x="383.7" y="451.8" font-size="9.2" textLength="29.5" lengthAdjust="spacingAndGlyphs" style="stroke-width:.26px">4.2±0.7</text>
<text x="471.3" y="452.2" font-size="9.2" textLength="29.1" lengthAdjust="spacingAndGlyphs" style="stroke-width:.26px">4.0±0.7</text>
<path d="M342 470.5V505H376.3" stroke="#000" stroke-width="1.35" fill="none"/>
<path d="M342 465.5l-3 6h6zM381.3 505l-6 -3v6z" fill="#000"/>
<text transform="translate(333.8 489.4) rotate(-90)" font-size="12.5" text-anchor="middle" font-weight="bold">SCA-1</text>
<text x="337.8" y="520.9" font-size="13.4" text-anchor="start" font-weight="bold">CD11b</text>
</g>
</svg>
</body></html>
